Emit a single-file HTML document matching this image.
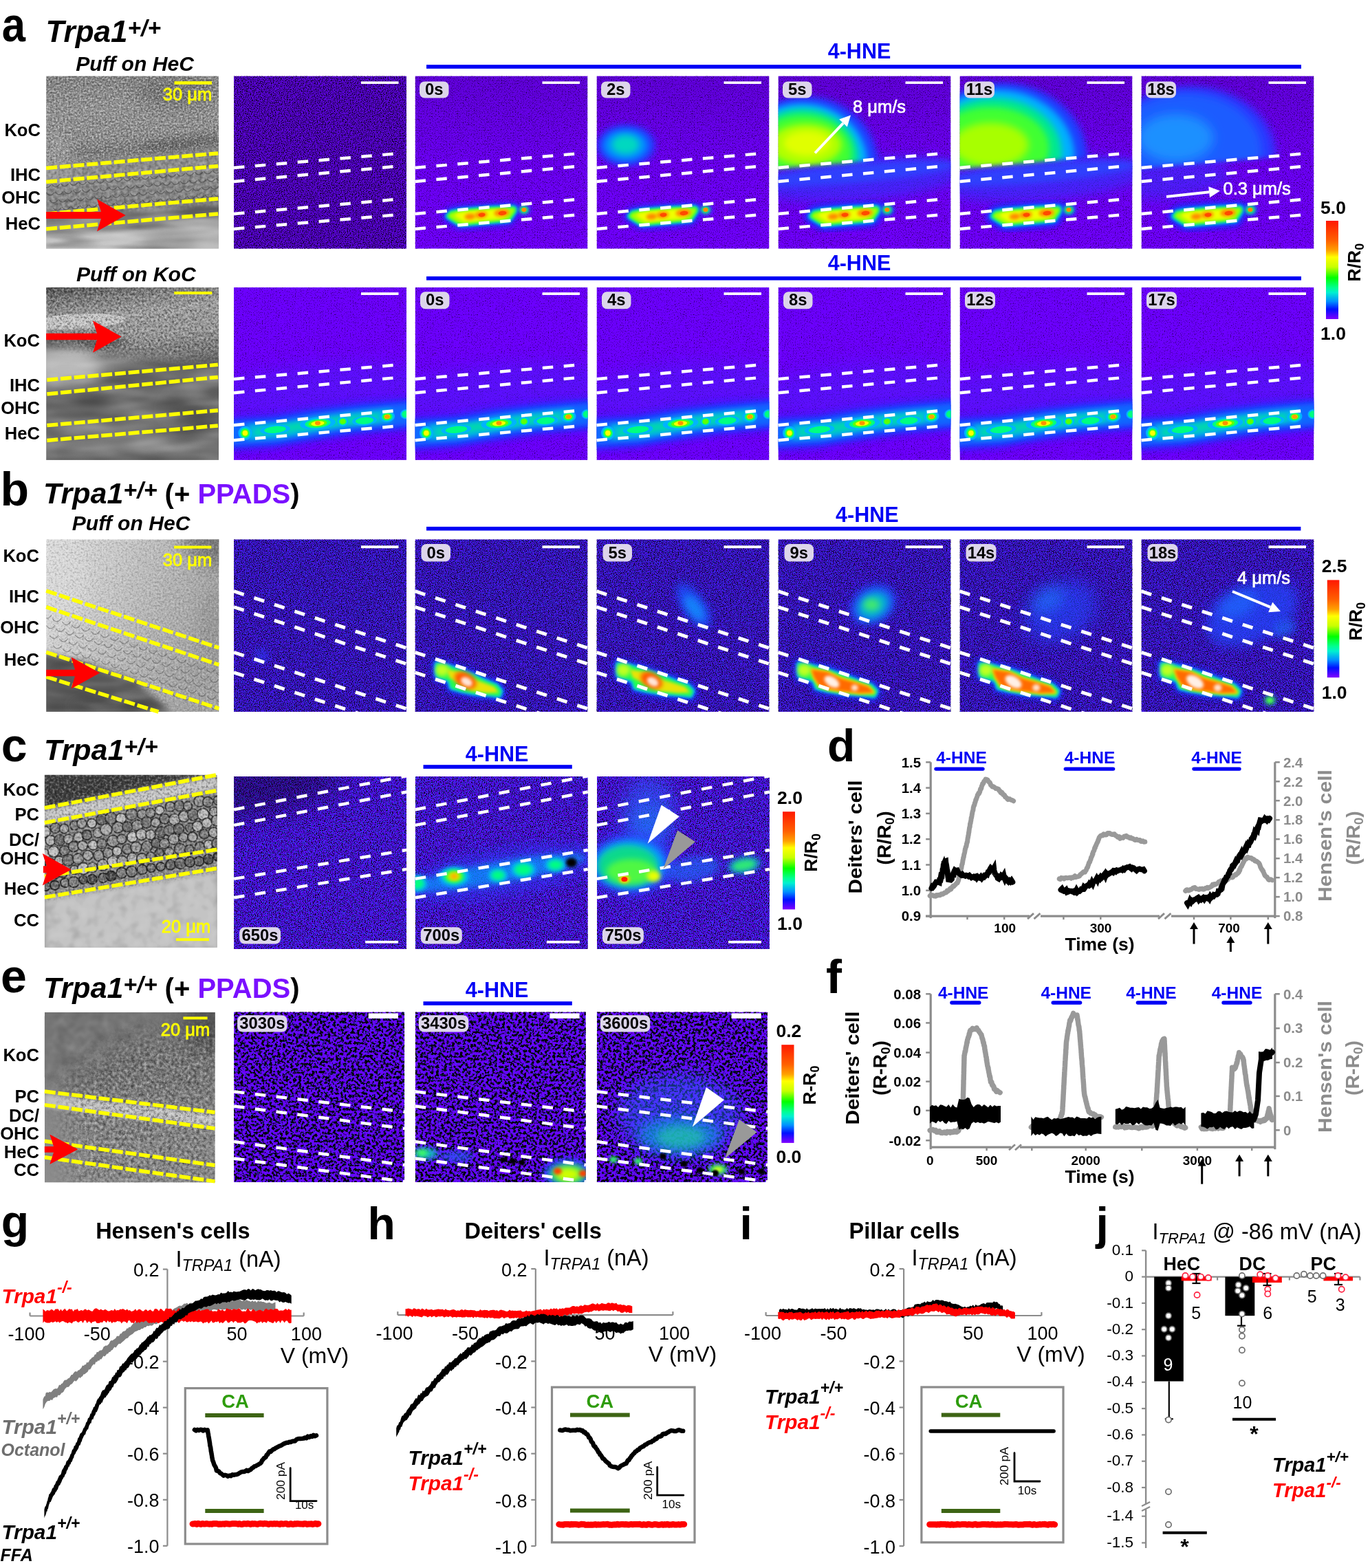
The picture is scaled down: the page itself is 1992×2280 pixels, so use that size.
<!DOCTYPE html><html><head><meta charset="utf-8"><title>Figure</title><style>html,body{margin:0;padding:0;background:#fff;}svg{display:block;}</style></head><body><svg xmlns="http://www.w3.org/2000/svg" width="1992" height="2280" viewBox="0 0 1992 2280" font-family="'Liberation Sans', Arial, Helvetica, sans-serif"><defs><filter id="b1" x="-50%" y="-50%" width="200%" height="200%"><feGaussianBlur stdDeviation="1"/></filter><filter id="b2" x="-50%" y="-50%" width="200%" height="200%"><feGaussianBlur stdDeviation="2"/></filter><filter id="b3" x="-50%" y="-50%" width="200%" height="200%"><feGaussianBlur stdDeviation="3"/></filter><filter id="b4" x="-50%" y="-50%" width="200%" height="200%"><feGaussianBlur stdDeviation="4"/></filter><filter id="b5" x="-50%" y="-50%" width="200%" height="200%"><feGaussianBlur stdDeviation="5"/></filter><filter id="b6" x="-50%" y="-50%" width="200%" height="200%"><feGaussianBlur stdDeviation="6"/></filter><filter id="b8" x="-50%" y="-50%" width="200%" height="200%"><feGaussianBlur stdDeviation="8"/></filter><filter id="b10" x="-50%" y="-50%" width="200%" height="200%"><feGaussianBlur stdDeviation="10"/></filter><filter id="b12" x="-50%" y="-50%" width="200%" height="200%"><feGaussianBlur stdDeviation="12"/></filter><filter id="b15" x="-50%" y="-50%" width="200%" height="200%"><feGaussianBlur stdDeviation="15"/></filter><filter id="b20" x="-50%" y="-50%" width="200%" height="200%"><feGaussianBlur stdDeviation="20"/></filter><clipPath id="cp1"><rect x="67.1" y="110.4" width="251.0" height="251.3"/></clipPath><linearGradient id="ga1" gradientUnits="userSpaceOnUse" x1="67.1" y1="110.4" x2="87.1" y2="361.7"><stop offset="0" stop-color="#828282"/><stop offset="0.2" stop-color="#949494"/><stop offset="0.38" stop-color="#909090"/><stop offset="0.46" stop-color="#7e7e7e"/><stop offset="0.52" stop-color="#8a8a8a"/><stop offset="0.6" stop-color="#8e8e8e"/><stop offset="0.78" stop-color="#848484"/><stop offset="0.84" stop-color="#7c7c7c"/><stop offset="0.9" stop-color="#a0a0a0"/><stop offset="1" stop-color="#b4b4b4"/></linearGradient><mask id="mk1" maskUnits="userSpaceOnUse" x="0" y="0" width="1992" height="2280"><polygon points="57.1,100.4 327.1,100.4 327.1,215.4 67.1,240.4" fill="#fff" filter="url(#b4)"/></mask><filter id="td1" x="0" y="0" width="100%" height="100%" color-interpolation-filters="sRGB"><feTurbulence type="fractalNoise" baseFrequency="0.38" numOctaves="2" seed="11"/><feColorMatrix type="matrix" values="0 0 0 0 0  0 0 0 0 0  0 0 0 0 0  -1.2 0 0 0 0.600"/></filter><filter id="tl1" x="0" y="0" width="100%" height="100%" color-interpolation-filters="sRGB"><feTurbulence type="fractalNoise" baseFrequency="0.38" numOctaves="2" seed="11"/><feColorMatrix type="matrix" values="0 0 0 0 1  0 0 0 0 1  0 0 0 0 1  1.8 0 0 0 -0.900"/></filter><filter id="tc1" x="0" y="0" width="100%" height="100%" color-interpolation-filters="sRGB"><feTurbulence type="turbulence" baseFrequency="0.266" numOctaves="1" seed="111"/><feColorMatrix type="matrix" values="0 0 0 0 0  0 0 0 0 0  0 0 0 0 0  -6 0 0 0 0.12"/></filter><mask id="mk2" maskUnits="userSpaceOnUse" x="0" y="0" width="1992" height="2280"><polygon points="67.1,240.4 327.1,215.4 327.1,295.4 67.1,315.4" fill="#fff" filter="url(#b4)"/></mask><filter id="td2" x="0" y="0" width="100%" height="100%" color-interpolation-filters="sRGB"><feTurbulence type="fractalNoise" baseFrequency="0.2" numOctaves="2" seed="12"/><feColorMatrix type="matrix" values="0 0 0 0 0  0 0 0 0 0  0 0 0 0 0  -1.0 0 0 0 0.500"/></filter><filter id="tl2" x="0" y="0" width="100%" height="100%" color-interpolation-filters="sRGB"><feTurbulence type="fractalNoise" baseFrequency="0.2" numOctaves="2" seed="12"/><feColorMatrix type="matrix" values="0 0 0 0 1  0 0 0 0 1  0 0 0 0 1  1.0 0 0 0 -0.500"/></filter><mask id="mk3" maskUnits="userSpaceOnUse" x="0" y="0" width="1992" height="2280"><polygon points="67.1,315.4 327.1,295.4 327.1,370.4 67.1,370.4" fill="#fff" filter="url(#b6)"/></mask><filter id="td3" x="0" y="0" width="100%" height="100%" color-interpolation-filters="sRGB"><feTurbulence type="fractalNoise" baseFrequency="0.012 0.06" numOctaves="2" seed="13"/><feColorMatrix type="matrix" values="0 0 0 0 0  0 0 0 0 0  0 0 0 0 0  -1.2 0 0 0 0.600"/></filter><filter id="tl3" x="0" y="0" width="100%" height="100%" color-interpolation-filters="sRGB"><feTurbulence type="fractalNoise" baseFrequency="0.012 0.06" numOctaves="2" seed="13"/><feColorMatrix type="matrix" values="0 0 0 0 1  0 0 0 0 1  0 0 0 0 1  1.2 0 0 0 -0.600"/></filter><linearGradient id="ga1p" x1="0" y1="0" x2="0" y2="1"><stop offset="0" stop-color="#6a08f2"/><stop offset="1" stop-color="#6c06fa"/></linearGradient><linearGradient id="ga1d" x1="0" y1="0" x2="0" y2="1"><stop offset="0" stop-color="#000" stop-opacity="0.14"/><stop offset="0.5" stop-color="#000" stop-opacity="0.04"/><stop offset="1" stop-color="#000" stop-opacity="0"/></linearGradient><clipPath id="cp2"><rect x="340.0" y="110.4" width="251.0" height="251.3"/></clipPath><filter id="nA0" x="0" y="0" width="100%" height="100%" color-interpolation-filters="sRGB"><feTurbulence type="fractalNoise" baseFrequency="0.75" numOctaves="1" seed="3"/><feColorMatrix type="matrix" values="0 0 0 0 0.000  0 0 0 0 0.000  0 0 0 0 0.000  -4.0 0 0 0 2.15"/></filter><clipPath id="cp3"><rect x="603.5" y="110.4" width="251.0" height="251.3"/></clipPath><filter id="nA1" x="0" y="0" width="100%" height="100%" color-interpolation-filters="sRGB"><feTurbulence type="fractalNoise" baseFrequency="0.75" numOctaves="1" seed="6"/><feColorMatrix type="matrix" values="0 0 0 0 0.000  0 0 0 0 0.000  0 0 0 0 0.000  -3.0 0 0 0 1.38"/></filter><clipPath id="cp4"><rect x="867.5" y="110.4" width="251.0" height="251.3"/></clipPath><clipPath id="cp5"><rect x="1131.5" y="110.4" width="251.0" height="251.3"/></clipPath><clipPath id="cp6"><rect x="1395.5" y="110.4" width="251.0" height="251.3"/></clipPath><clipPath id="cp7"><rect x="1659.5" y="110.4" width="251.0" height="251.3"/></clipPath><clipPath id="cp8"><rect x="67.1" y="417.7" width="251.0" height="251.2"/></clipPath><linearGradient id="ga2" gradientUnits="userSpaceOnUse" x1="67.1" y1="417.7" x2="97.1" y2="668.9"><stop offset="0" stop-color="#4c4c4c"/><stop offset="0.08" stop-color="#7a7a7a"/><stop offset="0.2" stop-color="#a2a2a2"/><stop offset="0.35" stop-color="#9a9a9a"/><stop offset="0.45" stop-color="#7e7e7e"/><stop offset="0.55" stop-color="#6c6c6c"/><stop offset="0.7" stop-color="#686868"/><stop offset="0.85" stop-color="#787878"/><stop offset="1" stop-color="#6e6e6e"/></linearGradient><mask id="mk4" maskUnits="userSpaceOnUse" x="0" y="0" width="1992" height="2280"><polygon points="57.1,407.7 327.1,407.7 327.1,522.7 187.1,517.7 67.1,497.7" fill="#fff" filter="url(#b8)"/></mask><filter id="td4" x="0" y="0" width="100%" height="100%" color-interpolation-filters="sRGB"><feTurbulence type="fractalNoise" baseFrequency="0.3" numOctaves="2" seed="21"/><feColorMatrix type="matrix" values="0 0 0 0 0  0 0 0 0 0  0 0 0 0 0  -1.5 0 0 0 0.750"/></filter><filter id="tl4" x="0" y="0" width="100%" height="100%" color-interpolation-filters="sRGB"><feTurbulence type="fractalNoise" baseFrequency="0.3" numOctaves="2" seed="21"/><feColorMatrix type="matrix" values="0 0 0 0 1  0 0 0 0 1  0 0 0 0 1  1.5 0 0 0 -0.750"/></filter><filter id="tc4" x="0" y="0" width="100%" height="100%" color-interpolation-filters="sRGB"><feTurbulence type="turbulence" baseFrequency="0.210" numOctaves="1" seed="121"/><feColorMatrix type="matrix" values="0 0 0 0 0  0 0 0 0 0  0 0 0 0 0  -6 0 0 0 0.2"/></filter><mask id="mk5" maskUnits="userSpaceOnUse" x="0" y="0" width="1992" height="2280"><polygon points="67.1,497.7 187.1,517.7 327.1,522.7 327.1,677.7 67.1,677.7" fill="#fff" filter="url(#b8)"/></mask><filter id="td5" x="0" y="0" width="100%" height="100%" color-interpolation-filters="sRGB"><feTurbulence type="fractalNoise" baseFrequency="0.012 0.05" numOctaves="2" seed="22"/><feColorMatrix type="matrix" values="0 0 0 0 0  0 0 0 0 0  0 0 0 0 0  -1.0 0 0 0 0.500"/></filter><filter id="tl5" x="0" y="0" width="100%" height="100%" color-interpolation-filters="sRGB"><feTurbulence type="fractalNoise" baseFrequency="0.012 0.05" numOctaves="2" seed="22"/><feColorMatrix type="matrix" values="0 0 0 0 1  0 0 0 0 1  0 0 0 0 1  1.0 0 0 0 -0.500"/></filter><clipPath id="cp9"><rect x="340.0" y="417.7" width="251.0" height="251.2"/></clipPath><filter id="nA2" x="0" y="0" width="100%" height="100%" color-interpolation-filters="sRGB"><feTurbulence type="fractalNoise" baseFrequency="0.75" numOctaves="1" seed="9"/><feColorMatrix type="matrix" values="0 0 0 0 0.000  0 0 0 0 0.000  0 0 0 0 0.000  -3.0 0 0 0 1.3"/></filter><clipPath id="cp10"><rect x="603.5" y="417.7" width="251.0" height="251.2"/></clipPath><clipPath id="cp11"><rect x="867.5" y="417.7" width="251.0" height="251.2"/></clipPath><clipPath id="cp12"><rect x="1131.5" y="417.7" width="251.0" height="251.2"/></clipPath><clipPath id="cp13"><rect x="1395.5" y="417.7" width="251.0" height="251.2"/></clipPath><clipPath id="cp14"><rect x="1659.5" y="417.7" width="251.0" height="251.2"/></clipPath><clipPath id="cp15"><rect x="67.2" y="784.3" width="251.2" height="250.7"/></clipPath><linearGradient id="gb" gradientUnits="userSpaceOnUse" x1="67.2" y1="784.3" x2="318.4" y2="884.6"><stop offset="0" stop-color="#e0e0e0"/><stop offset="0.35" stop-color="#cccccc"/><stop offset="0.7" stop-color="#b4b4b4"/><stop offset="1" stop-color="#a4a4a4"/></linearGradient><mask id="mk6" maskUnits="userSpaceOnUse" x="0" y="0" width="1992" height="2280"><polygon points="57.2,774.3 327.2,774.3 327.2,1044.3 257.2,1039.3 197.2,989.3 67.2,944.3" fill="#fff" filter="url(#b4)"/></mask><filter id="td6" x="0" y="0" width="100%" height="100%" color-interpolation-filters="sRGB"><feTurbulence type="fractalNoise" baseFrequency="0.35" numOctaves="2" seed="31"/><feColorMatrix type="matrix" values="0 0 0 0 0  0 0 0 0 0  0 0 0 0 0  -0.7 0 0 0 0.350"/></filter><filter id="tl6" x="0" y="0" width="100%" height="100%" color-interpolation-filters="sRGB"><feTurbulence type="fractalNoise" baseFrequency="0.35" numOctaves="2" seed="31"/><feColorMatrix type="matrix" values="0 0 0 0 1  0 0 0 0 1  0 0 0 0 1  1.2 0 0 0 -0.600"/></filter><filter id="tc6" x="0" y="0" width="100%" height="100%" color-interpolation-filters="sRGB"><feTurbulence type="turbulence" baseFrequency="0.245" numOctaves="1" seed="131"/><feColorMatrix type="matrix" values="0 0 0 0 0  0 0 0 0 0  0 0 0 0 0  -6 0 0 0 0.08"/></filter><mask id="mk7" maskUnits="userSpaceOnUse" x="0" y="0" width="1992" height="2280"><polygon points="67.2,944.3 197.2,989.3 257.2,1039.3 67.2,1039.3" fill="#fff" filter="url(#b4)"/></mask><filter id="td7" x="0" y="0" width="100%" height="100%" color-interpolation-filters="sRGB"><feTurbulence type="fractalNoise" baseFrequency="0.015 0.05" numOctaves="2" seed="32"/><feColorMatrix type="matrix" values="0 0 0 0 0  0 0 0 0 0  0 0 0 0 0  -0.8 0 0 0 0.400"/></filter><filter id="tl7" x="0" y="0" width="100%" height="100%" color-interpolation-filters="sRGB"><feTurbulence type="fractalNoise" baseFrequency="0.015 0.05" numOctaves="2" seed="32"/><feColorMatrix type="matrix" values="0 0 0 0 1  0 0 0 0 1  0 0 0 0 1  0.8 0 0 0 -0.400"/></filter><clipPath id="cp16"><rect x="340.0" y="784.3" width="251.0" height="250.7"/></clipPath><filter id="nB" x="0" y="0" width="100%" height="100%" color-interpolation-filters="sRGB"><feTurbulence type="fractalNoise" baseFrequency="0.8" numOctaves="1" seed="19"/><feColorMatrix type="matrix" values="0 0 0 0 0.000  0 0 0 0 0.000  0 0 0 0 0.000  -4.5 0 0 0 2.45"/></filter><filter id="nBb" x="0" y="0" width="100%" height="100%" color-interpolation-filters="sRGB"><feTurbulence type="fractalNoise" baseFrequency="0.8" numOctaves="1" seed="59"/><feColorMatrix type="matrix" values="0 0 0 0 0.125  0 0 0 0 0.314  0 0 0 0 1.000  0 5 0 0 -2.75"/></filter><clipPath id="cp17"><rect x="603.5" y="784.3" width="251.0" height="250.7"/></clipPath><clipPath id="cp18"><rect x="867.5" y="784.3" width="251.0" height="250.7"/></clipPath><clipPath id="cp19"><rect x="1131.5" y="784.3" width="251.0" height="250.7"/></clipPath><clipPath id="cp20"><rect x="1395.5" y="784.3" width="251.0" height="250.7"/></clipPath><clipPath id="cp21"><rect x="1659.5" y="784.3" width="251.0" height="250.7"/></clipPath><clipPath id="cp22"><rect x="64.8" y="1126.7" width="251.0" height="251.0"/></clipPath><mask id="mk8" maskUnits="userSpaceOnUse" x="0" y="0" width="1992" height="2280"><polygon points="54.8,1116.7 324.8,1116.7 324.8,1266.7 64.8,1308.7" fill="#fff" filter="url(#b3)"/></mask><filter id="td8" x="0" y="0" width="100%" height="100%" color-interpolation-filters="sRGB"><feTurbulence type="fractalNoise" baseFrequency="0.3" numOctaves="2" seed="41"/><feColorMatrix type="matrix" values="0 0 0 0 0  0 0 0 0 0  0 0 0 0 0  -1.4 0 0 0 0.700"/></filter><filter id="tl8" x="0" y="0" width="100%" height="100%" color-interpolation-filters="sRGB"><feTurbulence type="fractalNoise" baseFrequency="0.3" numOctaves="2" seed="41"/><feColorMatrix type="matrix" values="0 0 0 0 1  0 0 0 0 1  0 0 0 0 1  1.4 0 0 0 -0.700"/></filter><mask id="mk9" maskUnits="userSpaceOnUse" x="0" y="0" width="1992" height="2280"><polygon points="64.8,1308.7 324.8,1266.7 324.8,1386.7 64.8,1386.7" fill="#fff" filter="url(#b4)"/></mask><filter id="td9" x="0" y="0" width="100%" height="100%" color-interpolation-filters="sRGB"><feTurbulence type="fractalNoise" baseFrequency="0.06" numOctaves="2" seed="42"/><feColorMatrix type="matrix" values="0 0 0 0 0  0 0 0 0 0  0 0 0 0 0  -0.5 0 0 0 0.250"/></filter><filter id="tl9" x="0" y="0" width="100%" height="100%" color-interpolation-filters="sRGB"><feTurbulence type="fractalNoise" baseFrequency="0.06" numOctaves="2" seed="42"/><feColorMatrix type="matrix" values="0 0 0 0 1  0 0 0 0 1  0 0 0 0 1  0.5 0 0 0 -0.250"/></filter><clipPath id="cp23"><rect x="340.1" y="1129.0" width="251.0" height="251.0"/></clipPath><filter id="nC" x="0" y="0" width="100%" height="100%" color-interpolation-filters="sRGB"><feTurbulence type="fractalNoise" baseFrequency="0.7" numOctaves="1" seed="29"/><feColorMatrix type="matrix" values="0 0 0 0 0.000  0 0 0 0 0.000  0 0 0 0 0.000  -4.5 0 0 0 2.45"/></filter><filter id="nCb" x="0" y="0" width="100%" height="100%" color-interpolation-filters="sRGB"><feTurbulence type="fractalNoise" baseFrequency="0.7" numOctaves="1" seed="69"/><feColorMatrix type="matrix" values="0 0 0 0 0.125  0 0 0 0 0.376  0 0 0 0 1.000  0 5 0 0 -2.6"/></filter><clipPath id="cp24"><rect x="603.8" y="1129.0" width="251.0" height="251.0"/></clipPath><clipPath id="cp25"><rect x="867.9" y="1129.0" width="251.0" height="251.0"/></clipPath><clipPath id="cp26"><rect x="64.8" y="1472.0" width="248.0" height="247.6"/></clipPath><linearGradient id="ge" gradientUnits="userSpaceOnUse" x1="64.8" y1="1472.0" x2="64.8" y2="1719.6"><stop offset="0" stop-color="#747474"/><stop offset="0.4" stop-color="#7c7c7c"/><stop offset="0.6" stop-color="#868686"/><stop offset="1" stop-color="#8c8c8c"/></linearGradient><mask id="mk10" maskUnits="userSpaceOnUse" x="0" y="0" width="1992" height="2280"><polygon points="104.8,1732.0 94.8,1572.0 194.8,1512.0 324.8,1492.0 324.8,1732.0" fill="#fff" filter="url(#b20)"/></mask><filter id="td10" x="0" y="0" width="100%" height="100%" color-interpolation-filters="sRGB"><feTurbulence type="fractalNoise" baseFrequency="0.22" numOctaves="2" seed="51"/><feColorMatrix type="matrix" values="0 0 0 0 0  0 0 0 0 0  0 0 0 0 0  -1.4 0 0 0 0.700"/></filter><filter id="tl10" x="0" y="0" width="100%" height="100%" color-interpolation-filters="sRGB"><feTurbulence type="fractalNoise" baseFrequency="0.22" numOctaves="2" seed="51"/><feColorMatrix type="matrix" values="0 0 0 0 1  0 0 0 0 1  0 0 0 0 1  1.4 0 0 0 -0.700"/></filter><filter id="tc10" x="0" y="0" width="100%" height="100%" color-interpolation-filters="sRGB"><feTurbulence type="turbulence" baseFrequency="0.154" numOctaves="1" seed="151"/><feColorMatrix type="matrix" values="0 0 0 0 0  0 0 0 0 0  0 0 0 0 0  -6 0 0 0 0.22"/></filter><mask id="mk11" maskUnits="userSpaceOnUse" x="0" y="0" width="1992" height="2280"><polygon points="54.8,1462.0 264.8,1462.0 184.8,1532.0 94.8,1582.0 54.8,1602.0" fill="#fff" filter="url(#b20)"/></mask><filter id="td11" x="0" y="0" width="100%" height="100%" color-interpolation-filters="sRGB"><feTurbulence type="fractalNoise" baseFrequency="0.06" numOctaves="2" seed="52"/><feColorMatrix type="matrix" values="0 0 0 0 0  0 0 0 0 0  0 0 0 0 0  -0.6 0 0 0 0.300"/></filter><filter id="tl11" x="0" y="0" width="100%" height="100%" color-interpolation-filters="sRGB"><feTurbulence type="fractalNoise" baseFrequency="0.06" numOctaves="2" seed="52"/><feColorMatrix type="matrix" values="0 0 0 0 1  0 0 0 0 1  0 0 0 0 1  0.6 0 0 0 -0.300"/></filter><clipPath id="cp27"><rect x="340.1" y="1471.4" width="248.0" height="247.6"/></clipPath><filter id="nE" x="0" y="0" width="100%" height="100%" color-interpolation-filters="sRGB"><feTurbulence type="fractalNoise" baseFrequency="0.26" numOctaves="2" seed="39"/><feColorMatrix type="matrix" values="0 0 0 0 0.000  0 0 0 0 0.000  0 0 0 0 0.000  -6.5 0 0 0 3.55"/></filter><filter id="nEb" x="0" y="0" width="100%" height="100%" color-interpolation-filters="sRGB"><feTurbulence type="fractalNoise" baseFrequency="0.6" numOctaves="1" seed="79"/><feColorMatrix type="matrix" values="0 0 0 0 0.125  0 0 0 0 0.376  0 0 0 0 1.000  0 5 0 0 -2.9"/></filter><clipPath id="cp28"><rect x="603.8" y="1471.4" width="248.0" height="247.6"/></clipPath><clipPath id="cp29"><rect x="867.9" y="1471.4" width="248.0" height="247.6"/></clipPath><clipPath id="cp30"><rect x="340.0" y="110.4" width="251.0" height="251.3"/></clipPath><clipPath id="cp31"><rect x="603.5" y="110.4" width="251.0" height="251.3"/></clipPath><clipPath id="cp32"><rect x="867.5" y="110.4" width="251.0" height="251.3"/></clipPath><clipPath id="cp33"><rect x="1131.5" y="110.4" width="251.0" height="251.3"/></clipPath><mask id="mk12" maskUnits="userSpaceOnUse" x="0" y="0" width="1992" height="2280"><polygon points="1111.5,90.4 1402.5,90.4 1402.5,221.9 1111.5,247.4" fill="#fff" filter="url(#b3)"/></mask><clipPath id="cp34"><rect x="1395.5" y="110.4" width="251.0" height="251.3"/></clipPath><mask id="mk13" maskUnits="userSpaceOnUse" x="0" y="0" width="1992" height="2280"><polygon points="1375.5,90.4 1666.5,90.4 1666.5,221.9 1375.5,247.4" fill="#fff" filter="url(#b3)"/></mask><clipPath id="cp35"><rect x="1659.5" y="110.4" width="251.0" height="251.3"/></clipPath><mask id="mk14" maskUnits="userSpaceOnUse" x="0" y="0" width="1992" height="2280"><polygon points="1639.5,90.4 1930.5,90.4 1930.5,221.9 1639.5,247.4" fill="#fff" filter="url(#b3)"/></mask><clipPath id="cp36"><rect x="340.0" y="417.7" width="251.0" height="251.2"/></clipPath><clipPath id="cp37"><rect x="603.5" y="417.7" width="251.0" height="251.2"/></clipPath><clipPath id="cp38"><rect x="867.5" y="417.7" width="251.0" height="251.2"/></clipPath><clipPath id="cp39"><rect x="1131.5" y="417.7" width="251.0" height="251.2"/></clipPath><clipPath id="cp40"><rect x="1395.5" y="417.7" width="251.0" height="251.2"/></clipPath><clipPath id="cp41"><rect x="1659.5" y="417.7" width="251.0" height="251.2"/></clipPath><clipPath id="cp42"><rect x="340.0" y="784.3" width="251.0" height="250.7"/></clipPath><clipPath id="cp43"><rect x="603.5" y="784.3" width="251.0" height="250.7"/></clipPath><clipPath id="cp44"><rect x="867.5" y="784.3" width="251.0" height="250.7"/></clipPath><clipPath id="cp45"><rect x="1131.5" y="784.3" width="251.0" height="250.7"/></clipPath><clipPath id="cp46"><rect x="1395.5" y="784.3" width="251.0" height="250.7"/></clipPath><clipPath id="cp47"><rect x="1659.5" y="784.3" width="251.0" height="250.7"/></clipPath><clipPath id="cp48"><rect x="340.1" y="1129.0" width="251.0" height="251.0"/></clipPath><clipPath id="cp49"><rect x="603.8" y="1129.0" width="251.0" height="251.0"/></clipPath><clipPath id="cp50"><rect x="867.9" y="1129.0" width="251.0" height="251.0"/></clipPath><clipPath id="cp51"><rect x="340.1" y="1471.4" width="248.0" height="247.6"/></clipPath><clipPath id="cp52"><rect x="603.8" y="1471.4" width="248.0" height="247.6"/></clipPath><clipPath id="cp53"><rect x="867.9" y="1471.4" width="248.0" height="247.6"/></clipPath><linearGradient id="cmap" x1="0" y1="0" x2="0" y2="1"><stop offset="0" stop-color="#ff1800"/><stop offset="0.2" stop-color="#ff6000"/><stop offset="0.3" stop-color="#ffa000"/><stop offset="0.37" stop-color="#ffff00"/><stop offset="0.47" stop-color="#c8ff00"/><stop offset="0.58" stop-color="#00ff00"/><stop offset="0.68" stop-color="#00ff90"/><stop offset="0.73" stop-color="#00f0d0"/><stop offset="0.82" stop-color="#0090ff"/><stop offset="0.9" stop-color="#0010ff"/><stop offset="1" stop-color="#8000ff"/></linearGradient></defs><rect width="1992" height="2280" fill="#fff"/><g clip-path="url(#cp1)"><rect x="67.1" y="110.4" width="251.0" height="251.3" fill="url(#ga1)" /><ellipse cx="257.1" cy="135.4" rx="60.0" ry="22.0" fill="#606060" opacity="0.5" filter="url(#b10)"/><ellipse cx="82.1" cy="230.4" rx="25.0" ry="35.0" fill="#a8a8a8" opacity="0.6" filter="url(#b8)"/><ellipse cx="127.1" cy="352.4" rx="100.0" ry="16.0" fill="#cccccc" opacity="0.8" filter="url(#b8)"/><ellipse cx="267.1" cy="352.4" rx="60.0" ry="10.0" fill="#707070" opacity="0.5" filter="url(#b8)"/><ellipse cx="127.1" cy="334.4" rx="80.0" ry="4.0" fill="#505050" opacity="0.5" filter="url(#b3)" transform="rotate(-4 127.1 334.4)"/><ellipse cx="262.1" cy="208.4" rx="60.0" ry="9.0" fill="#4a4a4a" opacity="0.35" filter="url(#b5)" transform="rotate(-6 262.1 208.4)"/><g opacity="0.9" mask="url(#mk1)"><rect x="67.1" y="110.4" width="251.0" height="251.3" filter="url(#td1)"/><rect x="67.1" y="110.4" width="251.0" height="251.3" filter="url(#tl1)"/><rect x="67.1" y="110.4" width="251.0" height="251.3" filter="url(#tc1)"/></g><g opacity="0.8" mask="url(#mk2)"><rect x="67.1" y="110.4" width="251.0" height="251.3" filter="url(#td2)"/><rect x="67.1" y="110.4" width="251.0" height="251.3" filter="url(#tl2)"/></g><path d="M62.1,268.8q5.9,8.0 11.7,0 M75.1,267.7q5.9,8.0 11.7,0 M88.1,266.6q5.9,8.0 11.7,0 M101.1,265.5q5.9,8.0 11.7,0 M114.1,264.4q5.9,8.0 11.7,0 M127.1,263.3q5.9,8.0 11.7,0 M140.1,262.2q5.9,8.0 11.7,0 M153.1,261.1q5.9,8.0 11.7,0 M166.1,260.0q5.9,8.0 11.7,0 M179.1,258.9q5.9,8.0 11.7,0 M192.1,257.8q5.9,8.0 11.7,0 M205.1,256.7q5.9,8.0 11.7,0 M218.1,255.6q5.9,8.0 11.7,0 M231.1,254.5q5.9,8.0 11.7,0 M244.1,253.4q5.9,8.0 11.7,0 M257.1,252.2q5.9,8.0 11.7,0 M270.1,251.1q5.9,8.0 11.7,0 M283.1,250.0q5.9,8.0 11.7,0 M296.1,248.9q5.9,8.0 11.7,0 M309.1,247.8q5.9,8.0 11.7,0" fill="none" stroke="#3c3c3c" stroke-width="1.4" opacity="0.55"/><path d="M67.1,279.9q5.9,8.0 11.7,0 M80.1,278.8q5.9,8.0 11.7,0 M93.1,277.7q5.9,8.0 11.7,0 M106.1,276.6q5.9,8.0 11.7,0 M119.1,275.5q5.9,8.0 11.7,0 M132.1,274.4q5.9,8.0 11.7,0 M145.1,273.3q5.9,8.0 11.7,0 M158.1,272.2q5.9,8.0 11.7,0 M171.1,271.1q5.9,8.0 11.7,0 M184.1,270.0q5.9,8.0 11.7,0 M197.1,268.9q5.9,8.0 11.7,0 M210.1,267.7q5.9,8.0 11.7,0 M223.1,266.6q5.9,8.0 11.7,0 M236.1,265.5q5.9,8.0 11.7,0 M249.1,264.4q5.9,8.0 11.7,0 M262.1,263.3q5.9,8.0 11.7,0 M275.1,262.2q5.9,8.0 11.7,0 M288.1,261.1q5.9,8.0 11.7,0 M301.1,260.0q5.9,8.0 11.7,0 M314.1,258.9q5.9,8.0 11.7,0" fill="none" stroke="#3c3c3c" stroke-width="1.4" opacity="0.55"/><path d="M72.1,291.0q5.9,8.0 11.7,0 M85.1,289.9q5.9,8.0 11.7,0 M98.1,288.8q5.9,8.0 11.7,0 M111.1,287.7q5.9,8.0 11.7,0 M124.1,286.6q5.9,8.0 11.7,0 M137.1,285.5q5.9,8.0 11.7,0 M150.1,284.3q5.9,8.0 11.7,0 M163.1,283.2q5.9,8.0 11.7,0 M176.1,282.1q5.9,8.0 11.7,0 M189.1,281.0q5.9,8.0 11.7,0 M202.1,279.9q5.9,8.0 11.7,0 M215.1,278.8q5.9,8.0 11.7,0 M228.1,277.7q5.9,8.0 11.7,0 M241.1,276.6q5.9,8.0 11.7,0 M254.1,275.5q5.9,8.0 11.7,0 M267.1,274.4q5.9,8.0 11.7,0 M280.1,273.3q5.9,8.0 11.7,0 M293.1,272.2q5.9,8.0 11.7,0 M306.1,271.1q5.9,8.0 11.7,0 M319.1,270.0q5.9,8.0 11.7,0" fill="none" stroke="#3c3c3c" stroke-width="1.4" opacity="0.55"/><path d="M77.1,302.1q5.9,8.0 11.7,0 M90.1,300.9q5.9,8.0 11.7,0 M103.1,299.8q5.9,8.0 11.7,0 M116.1,298.7q5.9,8.0 11.7,0 M129.1,297.6q5.9,8.0 11.7,0 M142.1,296.5q5.9,8.0 11.7,0 M155.1,295.4q5.9,8.0 11.7,0 M168.1,294.3q5.9,8.0 11.7,0 M181.1,293.2q5.9,8.0 11.7,0 M194.1,292.1q5.9,8.0 11.7,0 M207.1,291.0q5.9,8.0 11.7,0 M220.1,289.9q5.9,8.0 11.7,0 M233.1,288.8q5.9,8.0 11.7,0 M246.1,287.7q5.9,8.0 11.7,0 M259.1,286.6q5.9,8.0 11.7,0 M272.1,285.5q5.9,8.0 11.7,0 M285.1,284.4q5.9,8.0 11.7,0 M298.1,283.3q5.9,8.0 11.7,0 M311.1,282.2q5.9,8.0 11.7,0" fill="none" stroke="#3c3c3c" stroke-width="1.4" opacity="0.55"/><g opacity="0.8" mask="url(#mk3)"><rect x="67.1" y="110.4" width="251.0" height="251.3" filter="url(#td3)"/><rect x="67.1" y="110.4" width="251.0" height="251.3" filter="url(#tl3)"/></g></g><g clip-path="url(#cp2)"><rect x="340.0" y="110.4" width="251.0" height="251.3" fill="#5c04dc" /><rect x="340.0" y="110.4" width="251.0" height="251.3" fill="#000" filter="url(#nA0)" opacity="1"/></g><g clip-path="url(#cp3)"><rect x="603.5" y="110.4" width="251.0" height="251.3" fill="#7000ff" /><rect x="603.5" y="110.4" width="251.0" height="251.3" fill="#000" filter="url(#nA1)" opacity="1"/><rect x="603.5" y="110.4" width="251.0" height="251.3" fill="url(#ga1d)" /></g><g clip-path="url(#cp4)"><rect x="867.5" y="110.4" width="251.0" height="251.3" fill="#7000ff" /><rect x="867.5" y="110.4" width="251.0" height="251.3" fill="#000" filter="url(#nA1)" opacity="1"/><rect x="867.5" y="110.4" width="251.0" height="251.3" fill="url(#ga1d)" /></g><g clip-path="url(#cp5)"><rect x="1131.5" y="110.4" width="251.0" height="251.3" fill="#7000ff" /><rect x="1131.5" y="110.4" width="251.0" height="251.3" fill="#000" filter="url(#nA1)" opacity="1"/><rect x="1131.5" y="110.4" width="251.0" height="251.3" fill="url(#ga1d)" /></g><g clip-path="url(#cp6)"><rect x="1395.5" y="110.4" width="251.0" height="251.3" fill="#7000ff" /><rect x="1395.5" y="110.4" width="251.0" height="251.3" fill="#000" filter="url(#nA1)" opacity="1"/><rect x="1395.5" y="110.4" width="251.0" height="251.3" fill="url(#ga1d)" /></g><g clip-path="url(#cp7)"><rect x="1659.5" y="110.4" width="251.0" height="251.3" fill="#7000ff" /><rect x="1659.5" y="110.4" width="251.0" height="251.3" fill="#000" filter="url(#nA1)" opacity="1"/><rect x="1659.5" y="110.4" width="251.0" height="251.3" fill="url(#ga1d)" /></g><g clip-path="url(#cp8)"><rect x="67.1" y="417.7" width="251.0" height="251.2" fill="url(#ga2)" /><ellipse cx="107.1" cy="467.7" rx="75.0" ry="11.0" fill="#d8d8d8" opacity="0.7" filter="url(#b7)" transform="rotate(-3 107.1 467.7)"/><ellipse cx="112.1" cy="497.7" rx="75.0" ry="12.0" fill="#303030" opacity="0.55" filter="url(#b6)"/><ellipse cx="97.1" cy="535.7" rx="50.0" ry="28.0" fill="#cacaca" opacity="0.8" filter="url(#b10)"/><ellipse cx="282.1" cy="595.7" rx="42.0" ry="28.0" fill="#484848" opacity="0.6" filter="url(#b10)"/><ellipse cx="187.1" cy="652.7" rx="90.0" ry="12.0" fill="#8a8a8a" opacity="0.5" filter="url(#b8)"/><g opacity="0.9" mask="url(#mk4)"><rect x="67.1" y="417.7" width="251.0" height="251.2" filter="url(#td4)"/><rect x="67.1" y="417.7" width="251.0" height="251.2" filter="url(#tl4)"/><rect x="67.1" y="417.7" width="251.0" height="251.2" filter="url(#tc4)"/></g><g opacity="0.75" mask="url(#mk5)"><rect x="67.1" y="417.7" width="251.0" height="251.2" filter="url(#td5)"/><rect x="67.1" y="417.7" width="251.0" height="251.2" filter="url(#tl5)"/></g></g><g clip-path="url(#cp9)"><rect x="340.0" y="417.7" width="251.0" height="251.2" fill="#6c00ff" /><rect x="340.0" y="417.7" width="251.0" height="251.2" fill="#000" filter="url(#nA2)" opacity="1"/></g><g clip-path="url(#cp10)"><rect x="603.5" y="417.7" width="251.0" height="251.2" fill="#6c00ff" /><rect x="603.5" y="417.7" width="251.0" height="251.2" fill="#000" filter="url(#nA2)" opacity="1"/></g><g clip-path="url(#cp11)"><rect x="867.5" y="417.7" width="251.0" height="251.2" fill="#6c00ff" /><rect x="867.5" y="417.7" width="251.0" height="251.2" fill="#000" filter="url(#nA2)" opacity="1"/></g><g clip-path="url(#cp12)"><rect x="1131.5" y="417.7" width="251.0" height="251.2" fill="#6c00ff" /><rect x="1131.5" y="417.7" width="251.0" height="251.2" fill="#000" filter="url(#nA2)" opacity="1"/></g><g clip-path="url(#cp13)"><rect x="1395.5" y="417.7" width="251.0" height="251.2" fill="#6c00ff" /><rect x="1395.5" y="417.7" width="251.0" height="251.2" fill="#000" filter="url(#nA2)" opacity="1"/></g><g clip-path="url(#cp14)"><rect x="1659.5" y="417.7" width="251.0" height="251.2" fill="#6c00ff" /><rect x="1659.5" y="417.7" width="251.0" height="251.2" fill="#000" filter="url(#nA2)" opacity="1"/></g><g clip-path="url(#cp15)"><rect x="67.2" y="784.3" width="251.2" height="250.7" fill="url(#gb)" /><ellipse cx="317.2" cy="784.3" rx="50.0" ry="40.0" fill="#6e6e6e" opacity="0.8" filter="url(#b12)"/><ellipse cx="317.2" cy="914.3" rx="30.0" ry="60.0" fill="#909090" opacity="0.5" filter="url(#b12)"/><ellipse cx="87.2" cy="844.3" rx="40.0" ry="60.0" fill="#dcdcdc" opacity="0.6" filter="url(#b12)"/><polygon points="57.2,947.3 127.2,964.3 197.2,989.3 252.2,1039.3 57.2,1039.3" fill="#5c5c5c" opacity="1" filter="url(#b5)"/><ellipse cx="162.2" cy="1026.3" rx="60.0" ry="12.0" fill="#3c3c3c" opacity="0.6" filter="url(#b8)"/><ellipse cx="97.2" cy="974.3" rx="40.0" ry="10.0" fill="#6a6a6a" opacity="0.5" filter="url(#b6)"/><g opacity="0.8" mask="url(#mk6)"><rect x="67.2" y="784.3" width="251.2" height="250.7" filter="url(#td6)"/><rect x="67.2" y="784.3" width="251.2" height="250.7" filter="url(#tl6)"/><rect x="67.2" y="784.3" width="251.2" height="250.7" filter="url(#tc6)"/></g><path d="M62.2,894.6q6.3,9.0 12.6,0 M76.2,899.3q6.3,9.0 12.6,0 M90.2,903.9q6.3,9.0 12.6,0 M104.2,908.5q6.3,9.0 12.6,0 M118.2,913.1q6.3,9.0 12.6,0 M132.2,917.8q6.3,9.0 12.6,0 M146.2,922.4q6.3,9.0 12.6,0 M160.2,927.0q6.3,9.0 12.6,0 M174.2,931.6q6.3,9.0 12.6,0 M188.2,936.2q6.3,9.0 12.6,0 M202.2,940.8q6.3,9.0 12.6,0 M216.2,945.5q6.3,9.0 12.6,0 M230.2,950.1q6.3,9.0 12.6,0 M244.2,954.7q6.3,9.0 12.6,0 M258.2,959.3q6.3,9.0 12.6,0 M272.2,963.9q6.3,9.0 12.6,0 M286.2,968.6q6.3,9.0 12.6,0 M300.2,973.2q6.3,9.0 12.6,0 M314.2,977.8q6.3,9.0 12.6,0" fill="none" stroke="#3c3c3c" stroke-width="1.4" opacity="0.4"/><path d="M67.2,909.3q6.3,9.0 12.6,0 M81.2,913.9q6.3,9.0 12.6,0 M95.2,918.5q6.3,9.0 12.6,0 M109.2,923.2q6.3,9.0 12.6,0 M123.2,927.8q6.3,9.0 12.6,0 M137.2,932.4q6.3,9.0 12.6,0 M151.2,937.0q6.3,9.0 12.6,0 M165.2,941.6q6.3,9.0 12.6,0 M179.2,946.3q6.3,9.0 12.6,0 M193.2,950.9q6.3,9.0 12.6,0 M207.2,955.5q6.3,9.0 12.6,0 M221.2,960.1q6.3,9.0 12.6,0 M235.2,964.7q6.3,9.0 12.6,0 M249.2,969.4q6.3,9.0 12.6,0 M263.2,974.0q6.3,9.0 12.6,0 M277.2,978.6q6.3,9.0 12.6,0 M291.2,983.2q6.3,9.0 12.6,0 M305.2,987.8q6.3,9.0 12.6,0 M319.2,992.5q6.3,9.0 12.6,0" fill="none" stroke="#3c3c3c" stroke-width="1.4" opacity="0.4"/><path d="M72.2,923.9q6.3,9.0 12.6,0 M86.2,928.6q6.3,9.0 12.6,0 M100.2,933.2q6.3,9.0 12.6,0 M114.2,937.8q6.3,9.0 12.6,0 M128.2,942.4q6.3,9.0 12.6,0 M142.2,947.0q6.3,9.0 12.6,0 M156.2,951.7q6.3,9.0 12.6,0 M170.2,956.3q6.3,9.0 12.6,0 M184.2,960.9q6.3,9.0 12.6,0 M198.2,965.5q6.3,9.0 12.6,0 M212.2,970.1q6.3,9.0 12.6,0 M226.2,974.8q6.3,9.0 12.6,0 M240.2,979.4q6.3,9.0 12.6,0 M254.2,984.0q6.3,9.0 12.6,0 M268.2,988.6q6.3,9.0 12.6,0 M282.2,993.2q6.3,9.0 12.6,0 M296.2,997.9q6.3,9.0 12.6,0 M310.2,1002.5q6.3,9.0 12.6,0" fill="none" stroke="#3c3c3c" stroke-width="1.4" opacity="0.4"/><path d="M77.2,938.6q6.3,9.0 12.6,0 M91.2,943.2q6.3,9.0 12.6,0 M105.2,947.8q6.3,9.0 12.6,0 M119.2,952.5q6.3,9.0 12.6,0 M133.2,957.1q6.3,9.0 12.6,0 M147.2,961.7q6.3,9.0 12.6,0 M161.2,966.3q6.3,9.0 12.6,0 M175.2,970.9q6.3,9.0 12.6,0 M189.2,975.6q6.3,9.0 12.6,0 M203.2,980.2q6.3,9.0 12.6,0 M217.2,984.8q6.3,9.0 12.6,0 M231.2,989.4q6.3,9.0 12.6,0 M245.2,994.0q6.3,9.0 12.6,0 M259.2,998.7q6.3,9.0 12.6,0 M273.2,1003.3q6.3,9.0 12.6,0 M287.2,1007.9q6.3,9.0 12.6,0 M301.2,1012.5q6.3,9.0 12.6,0 M315.2,1017.1q6.3,9.0 12.6,0" fill="none" stroke="#3c3c3c" stroke-width="1.4" opacity="0.4"/><path d="M82.2,953.2q6.3,9.0 12.6,0 M96.2,957.9q6.3,9.0 12.6,0 M110.2,962.5q6.3,9.0 12.6,0 M124.2,967.1q6.3,9.0 12.6,0 M138.2,971.7q6.3,9.0 12.6,0 M152.2,976.3q6.3,9.0 12.6,0 M166.2,981.0q6.3,9.0 12.6,0 M180.2,985.6q6.3,9.0 12.6,0 M194.2,990.2q6.3,9.0 12.6,0 M208.2,994.8q6.3,9.0 12.6,0 M222.2,999.4q6.3,9.0 12.6,0 M236.2,1004.1q6.3,9.0 12.6,0 M250.2,1008.7q6.3,9.0 12.6,0 M264.2,1013.3q6.3,9.0 12.6,0 M278.2,1017.9q6.3,9.0 12.6,0 M292.2,1022.5q6.3,9.0 12.6,0 M306.2,1027.2q6.3,9.0 12.6,0 M320.2,1031.8q6.3,9.0 12.6,0" fill="none" stroke="#3c3c3c" stroke-width="1.4" opacity="0.4"/><g opacity="0.7" mask="url(#mk7)"><rect x="67.2" y="784.3" width="251.2" height="250.7" filter="url(#td7)"/><rect x="67.2" y="784.3" width="251.2" height="250.7" filter="url(#tl7)"/></g></g><g clip-path="url(#cp16)"><rect x="340.0" y="784.3" width="251.0" height="250.7" fill="#4a12e6" /><rect x="340.0" y="784.3" width="251.0" height="250.7" fill="#000" filter="url(#nB)" opacity="1"/><rect x="340.0" y="784.3" width="251.0" height="250.7" fill="#000" filter="url(#nBb)" opacity="1"/></g><g clip-path="url(#cp17)"><rect x="603.5" y="784.3" width="251.0" height="250.7" fill="#4a12e6" /><rect x="603.5" y="784.3" width="251.0" height="250.7" fill="#000" filter="url(#nB)" opacity="1"/><rect x="603.5" y="784.3" width="251.0" height="250.7" fill="#000" filter="url(#nBb)" opacity="1"/></g><g clip-path="url(#cp18)"><rect x="867.5" y="784.3" width="251.0" height="250.7" fill="#4a12e6" /><rect x="867.5" y="784.3" width="251.0" height="250.7" fill="#000" filter="url(#nB)" opacity="1"/><rect x="867.5" y="784.3" width="251.0" height="250.7" fill="#000" filter="url(#nBb)" opacity="1"/></g><g clip-path="url(#cp19)"><rect x="1131.5" y="784.3" width="251.0" height="250.7" fill="#4a12e6" /><rect x="1131.5" y="784.3" width="251.0" height="250.7" fill="#000" filter="url(#nB)" opacity="1"/><rect x="1131.5" y="784.3" width="251.0" height="250.7" fill="#000" filter="url(#nBb)" opacity="1"/></g><g clip-path="url(#cp20)"><rect x="1395.5" y="784.3" width="251.0" height="250.7" fill="#4a12e6" /><rect x="1395.5" y="784.3" width="251.0" height="250.7" fill="#000" filter="url(#nB)" opacity="1"/><rect x="1395.5" y="784.3" width="251.0" height="250.7" fill="#000" filter="url(#nBb)" opacity="1"/></g><g clip-path="url(#cp21)"><rect x="1659.5" y="784.3" width="251.0" height="250.7" fill="#4a12e6" /><rect x="1659.5" y="784.3" width="251.0" height="250.7" fill="#000" filter="url(#nB)" opacity="1"/><rect x="1659.5" y="784.3" width="251.0" height="250.7" fill="#000" filter="url(#nBb)" opacity="1"/></g><g clip-path="url(#cp22)"><rect x="64.8" y="1126.7" width="251.0" height="251.0" fill="#8a8a8a" /><polygon points="59.8,1121.7 320.8,1121.7 320.8,1121.7 64.8,1176.7" fill="#3c3c3c" opacity="1" filter="url(#b4)"/><polygon points="64.8,1176.7 315.8,1128.7 315.8,1146.7 64.8,1196.7" fill="#d4d4d4" opacity="0.8" filter="url(#b3)"/><g><circle cx="65.3" cy="1209.6" r="8.1" fill="#bbbbbb" stroke="#262626" stroke-width="2" stroke-opacity="0.75"/><circle cx="80.5" cy="1203.9" r="7.4" fill="#878787" stroke="#262626" stroke-width="2" stroke-opacity="0.75"/><circle cx="93.4" cy="1205.0" r="6.7" fill="#a4a4a4" stroke="#262626" stroke-width="2" stroke-opacity="0.75"/><circle cx="108.3" cy="1200.2" r="6.7" fill="#878787" stroke="#262626" stroke-width="2" stroke-opacity="0.75"/><circle cx="118.9" cy="1197.6" r="7.1" fill="#999999" stroke="#262626" stroke-width="2" stroke-opacity="0.75"/><circle cx="133.4" cy="1197.2" r="6.8" fill="#b7b7b7" stroke="#262626" stroke-width="2" stroke-opacity="0.75"/><circle cx="148.6" cy="1191.7" r="8.4" fill="#686868" stroke="#262626" stroke-width="2" stroke-opacity="0.75"/><circle cx="161.6" cy="1189.6" r="8.5" fill="#7d7d7d" stroke="#262626" stroke-width="2" stroke-opacity="0.75"/><circle cx="176.0" cy="1190.0" r="7.6" fill="#bebebe" stroke="#262626" stroke-width="2" stroke-opacity="0.75"/><circle cx="191.3" cy="1184.0" r="8.4" fill="#818181" stroke="#262626" stroke-width="2" stroke-opacity="0.75"/><circle cx="206.7" cy="1184.0" r="7.1" fill="#969696" stroke="#262626" stroke-width="2" stroke-opacity="0.75"/><circle cx="218.5" cy="1182.0" r="7.0" fill="#929292" stroke="#262626" stroke-width="2" stroke-opacity="0.75"/><circle cx="232.0" cy="1178.2" r="6.5" fill="#bebebe" stroke="#262626" stroke-width="2" stroke-opacity="0.75"/><circle cx="247.6" cy="1173.1" r="7.2" fill="#8f8f8f" stroke="#262626" stroke-width="2" stroke-opacity="0.75"/><circle cx="260.7" cy="1171.7" r="7.5" fill="#7e7e7e" stroke="#262626" stroke-width="2" stroke-opacity="0.75"/><circle cx="273.0" cy="1172.1" r="6.5" fill="#959595" stroke="#262626" stroke-width="2" stroke-opacity="0.75"/><circle cx="290.2" cy="1165.1" r="8.1" fill="#969696" stroke="#262626" stroke-width="2" stroke-opacity="0.75"/><circle cx="302.3" cy="1166.1" r="7.4" fill="#7f7f7f" stroke="#262626" stroke-width="2" stroke-opacity="0.75"/><circle cx="317.3" cy="1163.8" r="6.7" fill="#878787" stroke="#262626" stroke-width="2" stroke-opacity="0.75"/><circle cx="332.5" cy="1160.9" r="7.2" fill="#959595" stroke="#262626" stroke-width="2" stroke-opacity="0.75"/><circle cx="73.4" cy="1222.1" r="7.4" fill="#b3b3b3" stroke="#262626" stroke-width="2" stroke-opacity="0.75"/><circle cx="86.8" cy="1221.8" r="8.2" fill="#6c6c6c" stroke="#262626" stroke-width="2" stroke-opacity="0.75"/><circle cx="99.5" cy="1220.2" r="6.9" fill="#a9a9a9" stroke="#262626" stroke-width="2" stroke-opacity="0.75"/><circle cx="114.2" cy="1217.2" r="7.2" fill="#adadad" stroke="#262626" stroke-width="2" stroke-opacity="0.75"/><circle cx="126.2" cy="1214.1" r="7.1" fill="#727272" stroke="#262626" stroke-width="2" stroke-opacity="0.75"/><circle cx="142.3" cy="1211.2" r="7.1" fill="#a5a5a5" stroke="#262626" stroke-width="2" stroke-opacity="0.75"/><circle cx="154.4" cy="1206.3" r="8.5" fill="#acacac" stroke="#262626" stroke-width="2" stroke-opacity="0.75"/><circle cx="171.5" cy="1203.1" r="8.0" fill="#949494" stroke="#262626" stroke-width="2" stroke-opacity="0.75"/><circle cx="185.1" cy="1202.3" r="7.3" fill="#6f6f6f" stroke="#262626" stroke-width="2" stroke-opacity="0.75"/><circle cx="199.7" cy="1200.3" r="8.1" fill="#929292" stroke="#262626" stroke-width="2" stroke-opacity="0.75"/><circle cx="213.2" cy="1195.8" r="8.0" fill="#787878" stroke="#262626" stroke-width="2" stroke-opacity="0.75"/><circle cx="226.3" cy="1196.0" r="6.7" fill="#9f9f9f" stroke="#262626" stroke-width="2" stroke-opacity="0.75"/><circle cx="239.3" cy="1190.7" r="7.3" fill="#7a7a7a" stroke="#262626" stroke-width="2" stroke-opacity="0.75"/><circle cx="253.6" cy="1191.8" r="8.2" fill="#aaaaaa" stroke="#262626" stroke-width="2" stroke-opacity="0.75"/><circle cx="267.6" cy="1187.1" r="8.0" fill="#a5a5a5" stroke="#262626" stroke-width="2" stroke-opacity="0.75"/><circle cx="280.9" cy="1184.6" r="8.3" fill="#767676" stroke="#262626" stroke-width="2" stroke-opacity="0.75"/><circle cx="295.3" cy="1184.0" r="8.4" fill="#b8b8b8" stroke="#262626" stroke-width="2" stroke-opacity="0.75"/><circle cx="311.5" cy="1180.5" r="6.9" fill="#a6a6a6" stroke="#262626" stroke-width="2" stroke-opacity="0.75"/><circle cx="322.9" cy="1178.1" r="8.2" fill="#969696" stroke="#262626" stroke-width="2" stroke-opacity="0.75"/><circle cx="336.1" cy="1175.7" r="7.2" fill="#b3b3b3" stroke="#262626" stroke-width="2" stroke-opacity="0.75"/><circle cx="65.5" cy="1241.6" r="7.2" fill="#bdbdbd" stroke="#262626" stroke-width="2" stroke-opacity="0.75"/><circle cx="77.9" cy="1238.2" r="8.0" fill="#c0c0c0" stroke="#262626" stroke-width="2" stroke-opacity="0.75"/><circle cx="93.7" cy="1237.2" r="7.2" fill="#7e7e7e" stroke="#262626" stroke-width="2" stroke-opacity="0.75"/><circle cx="107.1" cy="1230.9" r="7.6" fill="#888888" stroke="#262626" stroke-width="2" stroke-opacity="0.75"/><circle cx="120.1" cy="1229.6" r="7.1" fill="#a8a8a8" stroke="#262626" stroke-width="2" stroke-opacity="0.75"/><circle cx="135.4" cy="1228.8" r="7.2" fill="#bababa" stroke="#262626" stroke-width="2" stroke-opacity="0.75"/><circle cx="148.2" cy="1227.0" r="7.3" fill="#7e7e7e" stroke="#262626" stroke-width="2" stroke-opacity="0.75"/><circle cx="164.3" cy="1223.0" r="8.5" fill="#929292" stroke="#262626" stroke-width="2" stroke-opacity="0.75"/><circle cx="176.9" cy="1220.1" r="6.8" fill="#969696" stroke="#262626" stroke-width="2" stroke-opacity="0.75"/><circle cx="192.5" cy="1217.0" r="7.9" fill="#bdbdbd" stroke="#262626" stroke-width="2" stroke-opacity="0.75"/><circle cx="205.7" cy="1213.3" r="8.1" fill="#b2b2b2" stroke="#262626" stroke-width="2" stroke-opacity="0.75"/><circle cx="218.9" cy="1213.9" r="7.1" fill="#aeaeae" stroke="#262626" stroke-width="2" stroke-opacity="0.75"/><circle cx="233.9" cy="1210.0" r="7.9" fill="#6b6b6b" stroke="#262626" stroke-width="2" stroke-opacity="0.75"/><circle cx="245.6" cy="1207.6" r="7.7" fill="#7f7f7f" stroke="#262626" stroke-width="2" stroke-opacity="0.75"/><circle cx="259.7" cy="1205.4" r="7.8" fill="#6d6d6d" stroke="#262626" stroke-width="2" stroke-opacity="0.75"/><circle cx="276.7" cy="1203.4" r="6.8" fill="#797979" stroke="#262626" stroke-width="2" stroke-opacity="0.75"/><circle cx="287.2" cy="1201.4" r="7.5" fill="#aeaeae" stroke="#262626" stroke-width="2" stroke-opacity="0.75"/><circle cx="300.9" cy="1196.9" r="7.3" fill="#b6b6b6" stroke="#262626" stroke-width="2" stroke-opacity="0.75"/><circle cx="315.1" cy="1193.2" r="7.9" fill="#979797" stroke="#262626" stroke-width="2" stroke-opacity="0.75"/><circle cx="328.8" cy="1191.5" r="7.1" fill="#9c9c9c" stroke="#262626" stroke-width="2" stroke-opacity="0.75"/><circle cx="73.3" cy="1255.9" r="7.6" fill="#6c6c6c" stroke="#262626" stroke-width="2" stroke-opacity="0.75"/><circle cx="86.0" cy="1252.0" r="7.1" fill="#a9a9a9" stroke="#262626" stroke-width="2" stroke-opacity="0.75"/><circle cx="99.2" cy="1250.7" r="8.4" fill="#787878" stroke="#262626" stroke-width="2" stroke-opacity="0.75"/><circle cx="113.5" cy="1248.9" r="7.8" fill="#979797" stroke="#262626" stroke-width="2" stroke-opacity="0.75"/><circle cx="127.7" cy="1243.7" r="7.3" fill="#a5a5a5" stroke="#262626" stroke-width="2" stroke-opacity="0.75"/><circle cx="143.6" cy="1244.0" r="7.7" fill="#949494" stroke="#262626" stroke-width="2" stroke-opacity="0.75"/><circle cx="157.1" cy="1240.3" r="7.3" fill="#919191" stroke="#262626" stroke-width="2" stroke-opacity="0.75"/><circle cx="170.1" cy="1237.7" r="6.8" fill="#b8b8b8" stroke="#262626" stroke-width="2" stroke-opacity="0.75"/><circle cx="185.3" cy="1234.7" r="7.4" fill="#848484" stroke="#262626" stroke-width="2" stroke-opacity="0.75"/><circle cx="197.8" cy="1232.0" r="7.9" fill="#999999" stroke="#262626" stroke-width="2" stroke-opacity="0.75"/><circle cx="213.6" cy="1230.8" r="7.7" fill="#898989" stroke="#262626" stroke-width="2" stroke-opacity="0.75"/><circle cx="226.8" cy="1225.9" r="7.0" fill="#6a6a6a" stroke="#262626" stroke-width="2" stroke-opacity="0.75"/><circle cx="239.1" cy="1226.4" r="7.5" fill="#8c8c8c" stroke="#262626" stroke-width="2" stroke-opacity="0.75"/><circle cx="252.4" cy="1220.1" r="7.8" fill="#a0a0a0" stroke="#262626" stroke-width="2" stroke-opacity="0.75"/><circle cx="266.8" cy="1217.5" r="6.8" fill="#9a9a9a" stroke="#262626" stroke-width="2" stroke-opacity="0.75"/><circle cx="279.9" cy="1217.0" r="7.0" fill="#a4a4a4" stroke="#262626" stroke-width="2" stroke-opacity="0.75"/><circle cx="296.9" cy="1212.7" r="7.0" fill="#7b7b7b" stroke="#262626" stroke-width="2" stroke-opacity="0.75"/><circle cx="310.7" cy="1210.4" r="7.5" fill="#a4a4a4" stroke="#262626" stroke-width="2" stroke-opacity="0.75"/><circle cx="323.9" cy="1210.2" r="8.3" fill="#777777" stroke="#262626" stroke-width="2" stroke-opacity="0.75"/><circle cx="335.9" cy="1205.1" r="7.1" fill="#939393" stroke="#262626" stroke-width="2" stroke-opacity="0.75"/><circle cx="65.3" cy="1273.5" r="6.6" fill="#949494" stroke="#262626" stroke-width="2" stroke-opacity="0.75"/><circle cx="78.2" cy="1271.2" r="7.7" fill="#6c6c6c" stroke="#262626" stroke-width="2" stroke-opacity="0.75"/><circle cx="90.8" cy="1268.1" r="7.9" fill="#757575" stroke="#262626" stroke-width="2" stroke-opacity="0.75"/><circle cx="108.4" cy="1264.8" r="6.5" fill="#9e9e9e" stroke="#262626" stroke-width="2" stroke-opacity="0.75"/><circle cx="121.2" cy="1263.0" r="8.4" fill="#bbbbbb" stroke="#262626" stroke-width="2" stroke-opacity="0.75"/><circle cx="134.7" cy="1261.4" r="7.3" fill="#9a9a9a" stroke="#262626" stroke-width="2" stroke-opacity="0.75"/><circle cx="149.5" cy="1257.9" r="8.3" fill="#a3a3a3" stroke="#262626" stroke-width="2" stroke-opacity="0.75"/><circle cx="164.1" cy="1252.6" r="8.2" fill="#c0c0c0" stroke="#262626" stroke-width="2" stroke-opacity="0.75"/><circle cx="177.9" cy="1252.1" r="7.8" fill="#a4a4a4" stroke="#262626" stroke-width="2" stroke-opacity="0.75"/><circle cx="192.4" cy="1247.7" r="7.5" fill="#aeaeae" stroke="#262626" stroke-width="2" stroke-opacity="0.75"/><circle cx="206.4" cy="1248.4" r="7.6" fill="#9e9e9e" stroke="#262626" stroke-width="2" stroke-opacity="0.75"/><circle cx="219.1" cy="1245.4" r="6.6" fill="#858585" stroke="#262626" stroke-width="2" stroke-opacity="0.75"/><circle cx="231.9" cy="1240.1" r="6.6" fill="#6b6b6b" stroke="#262626" stroke-width="2" stroke-opacity="0.75"/><circle cx="246.1" cy="1238.9" r="6.6" fill="#9b9b9b" stroke="#262626" stroke-width="2" stroke-opacity="0.75"/><circle cx="261.6" cy="1234.5" r="8.2" fill="#848484" stroke="#262626" stroke-width="2" stroke-opacity="0.75"/><circle cx="275.3" cy="1235.1" r="6.7" fill="#797979" stroke="#262626" stroke-width="2" stroke-opacity="0.75"/><circle cx="290.8" cy="1231.7" r="7.4" fill="#7f7f7f" stroke="#262626" stroke-width="2" stroke-opacity="0.75"/><circle cx="303.2" cy="1228.2" r="6.8" fill="#b7b7b7" stroke="#262626" stroke-width="2" stroke-opacity="0.75"/><circle cx="315.7" cy="1226.5" r="7.8" fill="#717171" stroke="#262626" stroke-width="2" stroke-opacity="0.75"/><circle cx="329.9" cy="1223.9" r="6.7" fill="#9b9b9b" stroke="#262626" stroke-width="2" stroke-opacity="0.75"/><circle cx="66.3" cy="1288.3" r="6.9" fill="#686868" stroke="#1a1a1a" stroke-width="2" stroke-opacity="0.8"/><circle cx="79.5" cy="1287.2" r="6.7" fill="#6f6f6f" stroke="#1a1a1a" stroke-width="2" stroke-opacity="0.8"/><circle cx="94.5" cy="1283.6" r="6.6" fill="#888888" stroke="#1a1a1a" stroke-width="2" stroke-opacity="0.8"/><circle cx="107.3" cy="1282.5" r="7.8" fill="#878787" stroke="#1a1a1a" stroke-width="2" stroke-opacity="0.8"/><circle cx="121.0" cy="1279.3" r="6.1" fill="#5e5e5e" stroke="#1a1a1a" stroke-width="2" stroke-opacity="0.8"/><circle cx="133.8" cy="1278.7" r="7.0" fill="#515151" stroke="#1a1a1a" stroke-width="2" stroke-opacity="0.8"/><circle cx="150.0" cy="1276.3" r="6.9" fill="#717171" stroke="#1a1a1a" stroke-width="2" stroke-opacity="0.8"/><circle cx="161.5" cy="1273.9" r="7.3" fill="#4a4a4a" stroke="#1a1a1a" stroke-width="2" stroke-opacity="0.8"/><circle cx="177.1" cy="1269.2" r="7.7" fill="#808080" stroke="#1a1a1a" stroke-width="2" stroke-opacity="0.8"/><circle cx="191.2" cy="1267.4" r="7.8" fill="#7d7d7d" stroke="#1a1a1a" stroke-width="2" stroke-opacity="0.8"/><circle cx="206.7" cy="1264.4" r="7.1" fill="#858585" stroke="#1a1a1a" stroke-width="2" stroke-opacity="0.8"/><circle cx="219.7" cy="1262.0" r="6.3" fill="#767676" stroke="#1a1a1a" stroke-width="2" stroke-opacity="0.8"/><circle cx="233.5" cy="1260.2" r="6.2" fill="#7e7e7e" stroke="#1a1a1a" stroke-width="2" stroke-opacity="0.8"/><circle cx="248.1" cy="1257.5" r="7.2" fill="#6d6d6d" stroke="#1a1a1a" stroke-width="2" stroke-opacity="0.8"/><circle cx="262.1" cy="1255.5" r="7.9" fill="#6c6c6c" stroke="#1a1a1a" stroke-width="2" stroke-opacity="0.8"/><circle cx="276.0" cy="1253.4" r="7.4" fill="#6d6d6d" stroke="#1a1a1a" stroke-width="2" stroke-opacity="0.8"/><circle cx="289.4" cy="1252.4" r="6.9" fill="#6e6e6e" stroke="#1a1a1a" stroke-width="2" stroke-opacity="0.8"/><circle cx="302.9" cy="1249.5" r="7.1" fill="#575757" stroke="#1a1a1a" stroke-width="2" stroke-opacity="0.8"/><circle cx="316.4" cy="1245.7" r="6.1" fill="#595959" stroke="#1a1a1a" stroke-width="2" stroke-opacity="0.8"/><circle cx="329.6" cy="1244.7" r="7.9" fill="#6c6c6c" stroke="#1a1a1a" stroke-width="2" stroke-opacity="0.8"/></g><polygon points="64.8,1306.7 315.8,1266.7 320.8,1382.7 64.8,1382.7" fill="#c4c4c4" opacity="1" filter="url(#b4)"/><g opacity="0.8" mask="url(#mk8)"><rect x="64.8" y="1126.7" width="251.0" height="251.0" filter="url(#td8)"/><rect x="64.8" y="1126.7" width="251.0" height="251.0" filter="url(#tl8)"/></g><g opacity="0.6" mask="url(#mk9)"><rect x="64.8" y="1126.7" width="251.0" height="251.0" filter="url(#td9)"/><rect x="64.8" y="1126.7" width="251.0" height="251.0" filter="url(#tl9)"/></g></g><g clip-path="url(#cp23)"><rect x="340.1" y="1129.0" width="251.0" height="251.0" fill="#5e08fa" /><rect x="340.1" y="1129.0" width="251.0" height="251.0" fill="#000" filter="url(#nC)" opacity="1"/><rect x="340.1" y="1129.0" width="251.0" height="251.0" fill="#000" filter="url(#nCb)" opacity="1"/><ellipse cx="380.1" cy="1144.0" rx="120.0" ry="40.0" fill="#000" opacity="0.35" filter="url(#b20)" transform="rotate(-10 380.1 1144.0)"/></g><g clip-path="url(#cp24)"><rect x="603.8" y="1129.0" width="251.0" height="251.0" fill="#5e08fa" /><rect x="603.8" y="1129.0" width="251.0" height="251.0" fill="#000" filter="url(#nC)" opacity="1"/><rect x="603.8" y="1129.0" width="251.0" height="251.0" fill="#000" filter="url(#nCb)" opacity="1"/></g><g clip-path="url(#cp25)"><rect x="867.9" y="1129.0" width="251.0" height="251.0" fill="#5e08fa" /><rect x="867.9" y="1129.0" width="251.0" height="251.0" fill="#000" filter="url(#nC)" opacity="1"/><rect x="867.9" y="1129.0" width="251.0" height="251.0" fill="#000" filter="url(#nCb)" opacity="1"/></g><g clip-path="url(#cp26)"><rect x="64.8" y="1472.0" width="248.0" height="247.6" fill="url(#ge)" /><ellipse cx="304.8" cy="1487.0" rx="40.0" ry="40.0" fill="#4a4a4a" opacity="0.7" filter="url(#b12)"/><ellipse cx="124.8" cy="1522.0" rx="90.0" ry="60.0" fill="#767676" opacity="0.7" filter="url(#b14)"/><polygon points="64.8,1590.0 312.8,1620.0 312.8,1640.0 64.8,1610.0" fill="#d0d0d0" opacity="0.8" filter="url(#b3)"/><g opacity="0.9" mask="url(#mk10)"><rect x="64.8" y="1472.0" width="248.0" height="247.6" filter="url(#td10)"/><rect x="64.8" y="1472.0" width="248.0" height="247.6" filter="url(#tl10)"/><rect x="64.8" y="1472.0" width="248.0" height="247.6" filter="url(#tc10)"/></g><g opacity="0.6" mask="url(#mk11)"><rect x="64.8" y="1472.0" width="248.0" height="247.6" filter="url(#td11)"/><rect x="64.8" y="1472.0" width="248.0" height="247.6" filter="url(#tl11)"/></g></g><g clip-path="url(#cp27)"><rect x="340.1" y="1471.4" width="248.0" height="247.6" fill="#6a00ff" /><rect x="340.1" y="1471.4" width="248.0" height="247.6" fill="#000" filter="url(#nE)" opacity="1"/><rect x="340.1" y="1471.4" width="248.0" height="247.6" fill="#000" filter="url(#nEb)" opacity="1"/></g><g clip-path="url(#cp28)"><rect x="603.8" y="1471.4" width="248.0" height="247.6" fill="#6a00ff" /><rect x="603.8" y="1471.4" width="248.0" height="247.6" fill="#000" filter="url(#nE)" opacity="1"/><rect x="603.8" y="1471.4" width="248.0" height="247.6" fill="#000" filter="url(#nEb)" opacity="1"/></g><g clip-path="url(#cp29)"><rect x="867.9" y="1471.4" width="248.0" height="247.6" fill="#6a00ff" /><rect x="867.9" y="1471.4" width="248.0" height="247.6" fill="#000" filter="url(#nE)" opacity="1"/><rect x="867.9" y="1471.4" width="248.0" height="247.6" fill="#000" filter="url(#nEb)" opacity="1"/></g><g clip-path="url(#cp30)"></g><line x1="340.0" y1="243.9" x2="576.0" y2="223.4" stroke="#fff" stroke-width="4.5" stroke-dasharray="15.5 15.5" stroke-dashoffset="0"/><line x1="340.0" y1="263.9" x2="576.0" y2="241.9" stroke="#fff" stroke-width="4.5" stroke-dasharray="15.5 15.5" stroke-dashoffset="0"/><line x1="340.0" y1="310.9" x2="576.0" y2="289.9" stroke="#fff" stroke-width="4.5" stroke-dasharray="15.5 15.5" stroke-dashoffset="0"/><line x1="340.0" y1="332.9" x2="576.0" y2="312.4" stroke="#fff" stroke-width="4.5" stroke-dasharray="15.5 15.5" stroke-dashoffset="0"/><rect x="525.0" y="118.4" width="54.5" height="3.6" fill="#fff" /><g clip-path="url(#cp31)"><polygon points="651.5,314.4 655.5,309.4 668.5,306.9 696.5,304.4 720.5,302.9 746.5,302.4 749.5,304.9 746.5,309.4 739.5,319.4 696.5,323.4 669.5,325.9 658.5,319.4" fill="#1830ff" stroke="#1830ff" stroke-width="16.0" stroke-linejoin="round" opacity="0.9" filter="url(#b4)"/><polygon points="651.5,314.4 655.5,309.4 668.5,306.9 696.5,304.4 720.5,302.9 746.5,302.4 749.5,304.9 746.5,309.4 739.5,319.4 696.5,323.4 669.5,325.9 658.5,319.4" fill="#00b8ff" stroke="#00b8ff" stroke-width="8.0" stroke-linejoin="round" opacity="1" filter="url(#b2)"/><polygon points="651.5,314.4 655.5,309.4 668.5,306.9 696.5,304.4 720.5,302.9 746.5,302.4 749.5,304.9 746.5,309.4 739.5,319.4 696.5,323.4 669.5,325.9 658.5,319.4" fill="#10ff50" stroke="#10ff50" stroke-width="4.0" stroke-linejoin="round" opacity="1" filter="url(#b2)"/><polygon points="651.5,314.4 655.5,309.4 668.5,306.9 696.5,304.4 720.5,302.9 746.5,302.4 749.5,304.9 746.5,309.4 739.5,319.4 696.5,323.4 669.5,325.9 658.5,319.4" fill="#a8ff00" opacity="1" filter="url(#b2)"/><polygon points="661.2,313.8 664.4,310.0 674.8,308.1 697.2,306.3 716.4,305.1 737.2,304.8 739.6,306.6 737.2,310.0 731.6,317.5 697.2,320.5 675.6,322.4 666.8,317.5" fill="#f0ff00" opacity="1" filter="url(#b2)"/><ellipse cx="683.5" cy="314.9" rx="8.0" ry="4.5" fill="#ff8a00" opacity="1" filter="url(#b2)" transform="rotate(-5 683.5 314.9)"/><ellipse cx="699.5" cy="312.4" rx="9.0" ry="5.0" fill="#ff8a00" opacity="1" filter="url(#b2)" transform="rotate(-5 699.5 312.4)"/><ellipse cx="729.5" cy="309.4" rx="11.0" ry="5.5" fill="#ff8a00" opacity="1" filter="url(#b2)" transform="rotate(-5 729.5 309.4)"/><ellipse cx="700.5" cy="312.4" rx="5.0" ry="3.0" fill="#ff4a00" opacity="1" filter="url(#b1.5)" transform="rotate(-5 700.5 312.4)"/><ellipse cx="730.5" cy="309.9" rx="6.0" ry="3.2" fill="#ff4a00" opacity="1" filter="url(#b1.5)" transform="rotate(-5 730.5 309.9)"/><ellipse cx="761.9" cy="305.1" rx="9.0" ry="7.5" fill="#2040ff" opacity="1" filter="url(#b3)"/><ellipse cx="761.9" cy="305.1" rx="6.5" ry="5.5" fill="#20ff60" opacity="1" filter="url(#b2)"/><ellipse cx="761.9" cy="305.1" rx="3.5" ry="3.0" fill="#ff9000" opacity="1" filter="url(#b1.5)"/></g><line x1="603.5" y1="243.9" x2="839.5" y2="223.4" stroke="#fff" stroke-width="4.5" stroke-dasharray="15.5 15.5" stroke-dashoffset="0"/><line x1="603.5" y1="263.9" x2="839.5" y2="241.9" stroke="#fff" stroke-width="4.5" stroke-dasharray="15.5 15.5" stroke-dashoffset="0"/><line x1="603.5" y1="310.9" x2="839.5" y2="289.9" stroke="#fff" stroke-width="4.5" stroke-dasharray="15.5 15.5" stroke-dashoffset="0"/><line x1="603.5" y1="332.9" x2="839.5" y2="312.4" stroke="#fff" stroke-width="4.5" stroke-dasharray="15.5 15.5" stroke-dashoffset="0"/><rect x="788.5" y="118.4" width="54.5" height="3.6" fill="#fff" /><g clip-path="url(#cp32)"><polygon points="915.5,314.4 919.5,309.4 932.5,306.9 960.5,304.4 984.5,302.9 1010.5,302.4 1013.5,304.9 1010.5,309.4 1003.5,319.4 960.5,323.4 933.5,325.9 922.5,319.4" fill="#1830ff" stroke="#1830ff" stroke-width="16.0" stroke-linejoin="round" opacity="0.9" filter="url(#b4)"/><polygon points="915.5,314.4 919.5,309.4 932.5,306.9 960.5,304.4 984.5,302.9 1010.5,302.4 1013.5,304.9 1010.5,309.4 1003.5,319.4 960.5,323.4 933.5,325.9 922.5,319.4" fill="#00b8ff" stroke="#00b8ff" stroke-width="8.0" stroke-linejoin="round" opacity="1" filter="url(#b2)"/><polygon points="915.5,314.4 919.5,309.4 932.5,306.9 960.5,304.4 984.5,302.9 1010.5,302.4 1013.5,304.9 1010.5,309.4 1003.5,319.4 960.5,323.4 933.5,325.9 922.5,319.4" fill="#10ff50" stroke="#10ff50" stroke-width="4.0" stroke-linejoin="round" opacity="1" filter="url(#b2)"/><polygon points="915.5,314.4 919.5,309.4 932.5,306.9 960.5,304.4 984.5,302.9 1010.5,302.4 1013.5,304.9 1010.5,309.4 1003.5,319.4 960.5,323.4 933.5,325.9 922.5,319.4" fill="#a8ff00" opacity="1" filter="url(#b2)"/><polygon points="925.2,313.8 928.4,310.0 938.8,308.1 961.2,306.3 980.4,305.1 1001.2,304.8 1003.6,306.6 1001.2,310.0 995.6,317.5 961.2,320.5 939.6,322.4 930.8,317.5" fill="#f0ff00" opacity="1" filter="url(#b2)"/><ellipse cx="947.5" cy="314.9" rx="8.0" ry="4.5" fill="#ff8a00" opacity="1" filter="url(#b2)" transform="rotate(-5 947.5 314.9)"/><ellipse cx="963.5" cy="312.4" rx="9.0" ry="5.0" fill="#ff8a00" opacity="1" filter="url(#b2)" transform="rotate(-5 963.5 312.4)"/><ellipse cx="993.5" cy="309.4" rx="11.0" ry="5.5" fill="#ff8a00" opacity="1" filter="url(#b2)" transform="rotate(-5 993.5 309.4)"/><ellipse cx="964.5" cy="312.4" rx="5.0" ry="3.0" fill="#ff4a00" opacity="1" filter="url(#b1.5)" transform="rotate(-5 964.5 312.4)"/><ellipse cx="994.5" cy="309.9" rx="6.0" ry="3.2" fill="#ff4a00" opacity="1" filter="url(#b1.5)" transform="rotate(-5 994.5 309.9)"/><ellipse cx="1025.9" cy="305.1" rx="9.0" ry="7.5" fill="#2040ff" opacity="1" filter="url(#b3)"/><ellipse cx="1025.9" cy="305.1" rx="6.5" ry="5.5" fill="#20ff60" opacity="1" filter="url(#b2)"/><ellipse cx="1025.9" cy="305.1" rx="3.5" ry="3.0" fill="#ff9000" opacity="1" filter="url(#b1.5)"/><ellipse cx="910.5" cy="211.4" rx="42.0" ry="30.0" fill="#1e40ff" opacity="1" filter="url(#b5)"/><ellipse cx="909.5" cy="211.4" rx="32.0" ry="22.0" fill="#0090ff" opacity="1" filter="url(#b5)"/><ellipse cx="909.5" cy="210.4" rx="20.0" ry="14.0" fill="#00d8c0" opacity="1" filter="url(#b5)"/></g><line x1="867.5" y1="243.9" x2="1103.5" y2="223.4" stroke="#fff" stroke-width="4.5" stroke-dasharray="15.5 15.5" stroke-dashoffset="0"/><line x1="867.5" y1="263.9" x2="1103.5" y2="241.9" stroke="#fff" stroke-width="4.5" stroke-dasharray="15.5 15.5" stroke-dashoffset="0"/><line x1="867.5" y1="310.9" x2="1103.5" y2="289.9" stroke="#fff" stroke-width="4.5" stroke-dasharray="15.5 15.5" stroke-dashoffset="0"/><line x1="867.5" y1="332.9" x2="1103.5" y2="312.4" stroke="#fff" stroke-width="4.5" stroke-dasharray="15.5 15.5" stroke-dashoffset="0"/><rect x="1052.5" y="118.4" width="54.5" height="3.6" fill="#fff" /><g clip-path="url(#cp33)"><polygon points="1179.5,314.4 1183.5,309.4 1196.5,306.9 1224.5,304.4 1248.5,302.9 1274.5,302.4 1277.5,304.9 1274.5,309.4 1267.5,319.4 1224.5,323.4 1197.5,325.9 1186.5,319.4" fill="#1830ff" stroke="#1830ff" stroke-width="16.0" stroke-linejoin="round" opacity="0.9" filter="url(#b4)"/><polygon points="1179.5,314.4 1183.5,309.4 1196.5,306.9 1224.5,304.4 1248.5,302.9 1274.5,302.4 1277.5,304.9 1274.5,309.4 1267.5,319.4 1224.5,323.4 1197.5,325.9 1186.5,319.4" fill="#00b8ff" stroke="#00b8ff" stroke-width="8.0" stroke-linejoin="round" opacity="1" filter="url(#b2)"/><polygon points="1179.5,314.4 1183.5,309.4 1196.5,306.9 1224.5,304.4 1248.5,302.9 1274.5,302.4 1277.5,304.9 1274.5,309.4 1267.5,319.4 1224.5,323.4 1197.5,325.9 1186.5,319.4" fill="#10ff50" stroke="#10ff50" stroke-width="4.0" stroke-linejoin="round" opacity="1" filter="url(#b2)"/><polygon points="1179.5,314.4 1183.5,309.4 1196.5,306.9 1224.5,304.4 1248.5,302.9 1274.5,302.4 1277.5,304.9 1274.5,309.4 1267.5,319.4 1224.5,323.4 1197.5,325.9 1186.5,319.4" fill="#a8ff00" opacity="1" filter="url(#b2)"/><polygon points="1189.2,313.8 1192.4,310.0 1202.8,308.1 1225.2,306.3 1244.4,305.1 1265.2,304.8 1267.6,306.6 1265.2,310.0 1259.6,317.5 1225.2,320.5 1203.6,322.4 1194.8,317.5" fill="#f0ff00" opacity="1" filter="url(#b2)"/><ellipse cx="1211.5" cy="314.9" rx="8.0" ry="4.5" fill="#ff8a00" opacity="1" filter="url(#b2)" transform="rotate(-5 1211.5 314.9)"/><ellipse cx="1227.5" cy="312.4" rx="9.0" ry="5.0" fill="#ff8a00" opacity="1" filter="url(#b2)" transform="rotate(-5 1227.5 312.4)"/><ellipse cx="1257.5" cy="309.4" rx="11.0" ry="5.5" fill="#ff8a00" opacity="1" filter="url(#b2)" transform="rotate(-5 1257.5 309.4)"/><ellipse cx="1228.5" cy="312.4" rx="5.0" ry="3.0" fill="#ff4a00" opacity="1" filter="url(#b1.5)" transform="rotate(-5 1228.5 312.4)"/><ellipse cx="1258.5" cy="309.9" rx="6.0" ry="3.2" fill="#ff4a00" opacity="1" filter="url(#b1.5)" transform="rotate(-5 1258.5 309.9)"/><ellipse cx="1289.9" cy="305.1" rx="9.0" ry="7.5" fill="#2040ff" opacity="1" filter="url(#b3)"/><ellipse cx="1289.9" cy="305.1" rx="6.5" ry="5.5" fill="#20ff60" opacity="1" filter="url(#b2)"/><ellipse cx="1289.9" cy="305.1" rx="3.5" ry="3.0" fill="#ff9000" opacity="1" filter="url(#b1.5)"/><ellipse cx="1256.5" cy="260.4" rx="150.0" ry="30.0" fill="#2a3cff" opacity="0.55" filter="url(#b8)" transform="rotate(-5 1256.5 260.4)"/><ellipse cx="1241.5" cy="252.4" rx="150.0" ry="14.0" fill="#2a48ff" opacity="0.8" filter="url(#b5)" transform="rotate(-5 1241.5 252.4)"/><g mask="url(#mk12)"><ellipse cx="1171.5" cy="240.4" rx="105.0" ry="100.0" fill="#1e40ff" opacity="1" filter="url(#b5)"/><ellipse cx="1166.5" cy="238.4" rx="95.0" ry="88.0" fill="#00b0ff" opacity="1" filter="url(#b5)"/><ellipse cx="1166.5" cy="230.4" rx="82.0" ry="72.0" fill="#00e890" opacity="1" filter="url(#b5)"/><ellipse cx="1166.5" cy="222.4" rx="72.0" ry="55.0" fill="#40ff30" opacity="1" filter="url(#b5)"/><ellipse cx="1171.5" cy="210.4" rx="52.0" ry="30.0" fill="#b0ff00" opacity="1" filter="url(#b5)"/><ellipse cx="1173.5" cy="208.4" rx="34.0" ry="18.0" fill="#e0ff00" opacity="1" filter="url(#b5)"/></g><polygon points="1179.5,314.4 1183.5,309.4 1196.5,306.9 1224.5,304.4 1248.5,302.9 1274.5,302.4 1277.5,304.9 1274.5,309.4 1267.5,319.4 1224.5,323.4 1197.5,325.9 1186.5,319.4" fill="#1830ff" stroke="#1830ff" stroke-width="16.0" stroke-linejoin="round" opacity="0.9" filter="url(#b4)"/><polygon points="1179.5,314.4 1183.5,309.4 1196.5,306.9 1224.5,304.4 1248.5,302.9 1274.5,302.4 1277.5,304.9 1274.5,309.4 1267.5,319.4 1224.5,323.4 1197.5,325.9 1186.5,319.4" fill="#00b8ff" stroke="#00b8ff" stroke-width="8.0" stroke-linejoin="round" opacity="1" filter="url(#b2)"/><polygon points="1179.5,314.4 1183.5,309.4 1196.5,306.9 1224.5,304.4 1248.5,302.9 1274.5,302.4 1277.5,304.9 1274.5,309.4 1267.5,319.4 1224.5,323.4 1197.5,325.9 1186.5,319.4" fill="#10ff50" stroke="#10ff50" stroke-width="4.0" stroke-linejoin="round" opacity="1" filter="url(#b2)"/><polygon points="1179.5,314.4 1183.5,309.4 1196.5,306.9 1224.5,304.4 1248.5,302.9 1274.5,302.4 1277.5,304.9 1274.5,309.4 1267.5,319.4 1224.5,323.4 1197.5,325.9 1186.5,319.4" fill="#a8ff00" opacity="1" filter="url(#b2)"/><polygon points="1189.2,313.8 1192.4,310.0 1202.8,308.1 1225.2,306.3 1244.4,305.1 1265.2,304.8 1267.6,306.6 1265.2,310.0 1259.6,317.5 1225.2,320.5 1203.6,322.4 1194.8,317.5" fill="#f0ff00" opacity="1" filter="url(#b2)"/><ellipse cx="1211.5" cy="314.9" rx="8.0" ry="4.5" fill="#ff8a00" opacity="1" filter="url(#b2)" transform="rotate(-5 1211.5 314.9)"/><ellipse cx="1227.5" cy="312.4" rx="9.0" ry="5.0" fill="#ff8a00" opacity="1" filter="url(#b2)" transform="rotate(-5 1227.5 312.4)"/><ellipse cx="1257.5" cy="309.4" rx="11.0" ry="5.5" fill="#ff8a00" opacity="1" filter="url(#b2)" transform="rotate(-5 1257.5 309.4)"/><ellipse cx="1228.5" cy="312.4" rx="5.0" ry="3.0" fill="#ff4a00" opacity="1" filter="url(#b1.5)" transform="rotate(-5 1228.5 312.4)"/><ellipse cx="1258.5" cy="309.9" rx="6.0" ry="3.2" fill="#ff4a00" opacity="1" filter="url(#b1.5)" transform="rotate(-5 1258.5 309.9)"/><ellipse cx="1289.9" cy="305.1" rx="9.0" ry="7.5" fill="#2040ff" opacity="1" filter="url(#b3)"/><ellipse cx="1289.9" cy="305.1" rx="6.5" ry="5.5" fill="#20ff60" opacity="1" filter="url(#b2)"/><ellipse cx="1289.9" cy="305.1" rx="3.5" ry="3.0" fill="#ff9000" opacity="1" filter="url(#b1.5)"/></g><line x1="1131.5" y1="243.9" x2="1367.5" y2="223.4" stroke="#fff" stroke-width="4.5" stroke-dasharray="15.5 15.5" stroke-dashoffset="0"/><line x1="1131.5" y1="263.9" x2="1367.5" y2="241.9" stroke="#fff" stroke-width="4.5" stroke-dasharray="15.5 15.5" stroke-dashoffset="0"/><line x1="1131.5" y1="310.9" x2="1367.5" y2="289.9" stroke="#fff" stroke-width="4.5" stroke-dasharray="15.5 15.5" stroke-dashoffset="0"/><line x1="1131.5" y1="332.9" x2="1367.5" y2="312.4" stroke="#fff" stroke-width="4.5" stroke-dasharray="15.5 15.5" stroke-dashoffset="0"/><rect x="1316.5" y="118.4" width="54.5" height="3.6" fill="#fff" /><g clip-path="url(#cp34)"><polygon points="1443.5,314.4 1447.5,309.4 1460.5,306.9 1488.5,304.4 1512.5,302.9 1538.5,302.4 1541.5,304.9 1538.5,309.4 1531.5,319.4 1488.5,323.4 1461.5,325.9 1450.5,319.4" fill="#1830ff" stroke="#1830ff" stroke-width="16.0" stroke-linejoin="round" opacity="0.9" filter="url(#b4)"/><polygon points="1443.5,314.4 1447.5,309.4 1460.5,306.9 1488.5,304.4 1512.5,302.9 1538.5,302.4 1541.5,304.9 1538.5,309.4 1531.5,319.4 1488.5,323.4 1461.5,325.9 1450.5,319.4" fill="#00b8ff" stroke="#00b8ff" stroke-width="8.0" stroke-linejoin="round" opacity="1" filter="url(#b2)"/><polygon points="1443.5,314.4 1447.5,309.4 1460.5,306.9 1488.5,304.4 1512.5,302.9 1538.5,302.4 1541.5,304.9 1538.5,309.4 1531.5,319.4 1488.5,323.4 1461.5,325.9 1450.5,319.4" fill="#10ff50" stroke="#10ff50" stroke-width="4.0" stroke-linejoin="round" opacity="1" filter="url(#b2)"/><polygon points="1443.5,314.4 1447.5,309.4 1460.5,306.9 1488.5,304.4 1512.5,302.9 1538.5,302.4 1541.5,304.9 1538.5,309.4 1531.5,319.4 1488.5,323.4 1461.5,325.9 1450.5,319.4" fill="#a8ff00" opacity="1" filter="url(#b2)"/><polygon points="1453.2,313.8 1456.4,310.0 1466.8,308.1 1489.2,306.3 1508.4,305.1 1529.2,304.8 1531.6,306.6 1529.2,310.0 1523.6,317.5 1489.2,320.5 1467.6,322.4 1458.8,317.5" fill="#f0ff00" opacity="1" filter="url(#b2)"/><ellipse cx="1475.5" cy="314.9" rx="8.0" ry="4.5" fill="#ff8a00" opacity="1" filter="url(#b2)" transform="rotate(-5 1475.5 314.9)"/><ellipse cx="1491.5" cy="312.4" rx="9.0" ry="5.0" fill="#ff8a00" opacity="1" filter="url(#b2)" transform="rotate(-5 1491.5 312.4)"/><ellipse cx="1521.5" cy="309.4" rx="11.0" ry="5.5" fill="#ff8a00" opacity="1" filter="url(#b2)" transform="rotate(-5 1521.5 309.4)"/><ellipse cx="1492.5" cy="312.4" rx="5.0" ry="3.0" fill="#ff4a00" opacity="1" filter="url(#b1.5)" transform="rotate(-5 1492.5 312.4)"/><ellipse cx="1522.5" cy="309.9" rx="6.0" ry="3.2" fill="#ff4a00" opacity="1" filter="url(#b1.5)" transform="rotate(-5 1522.5 309.9)"/><ellipse cx="1553.9" cy="305.1" rx="9.0" ry="7.5" fill="#2040ff" opacity="1" filter="url(#b3)"/><ellipse cx="1553.9" cy="305.1" rx="6.5" ry="5.5" fill="#20ff60" opacity="1" filter="url(#b2)"/><ellipse cx="1553.9" cy="305.1" rx="3.5" ry="3.0" fill="#ff9000" opacity="1" filter="url(#b1.5)"/><ellipse cx="1520.5" cy="260.4" rx="150.0" ry="30.0" fill="#2a3cff" opacity="0.55" filter="url(#b8)" transform="rotate(-5 1520.5 260.4)"/><ellipse cx="1505.5" cy="252.4" rx="150.0" ry="14.0" fill="#2a48ff" opacity="0.8" filter="url(#b5)" transform="rotate(-5 1505.5 252.4)"/><g mask="url(#mk13)"><ellipse cx="1455.5" cy="230.4" rx="125.0" ry="110.0" fill="#1e40ff" opacity="1" filter="url(#b5)"/><ellipse cx="1450.5" cy="228.4" rx="112.0" ry="98.0" fill="#00b0ff" opacity="1" filter="url(#b5)"/><ellipse cx="1445.5" cy="222.4" rx="98.0" ry="80.0" fill="#00e890" opacity="1" filter="url(#b5)"/><ellipse cx="1440.5" cy="215.4" rx="85.0" ry="60.0" fill="#40ff30" opacity="1" filter="url(#b5)"/><ellipse cx="1440.5" cy="210.4" rx="55.0" ry="32.0" fill="#a8ff00" opacity="1" filter="url(#b6)"/></g><polygon points="1443.5,314.4 1447.5,309.4 1460.5,306.9 1488.5,304.4 1512.5,302.9 1538.5,302.4 1541.5,304.9 1538.5,309.4 1531.5,319.4 1488.5,323.4 1461.5,325.9 1450.5,319.4" fill="#1830ff" stroke="#1830ff" stroke-width="16.0" stroke-linejoin="round" opacity="0.9" filter="url(#b4)"/><polygon points="1443.5,314.4 1447.5,309.4 1460.5,306.9 1488.5,304.4 1512.5,302.9 1538.5,302.4 1541.5,304.9 1538.5,309.4 1531.5,319.4 1488.5,323.4 1461.5,325.9 1450.5,319.4" fill="#00b8ff" stroke="#00b8ff" stroke-width="8.0" stroke-linejoin="round" opacity="1" filter="url(#b2)"/><polygon points="1443.5,314.4 1447.5,309.4 1460.5,306.9 1488.5,304.4 1512.5,302.9 1538.5,302.4 1541.5,304.9 1538.5,309.4 1531.5,319.4 1488.5,323.4 1461.5,325.9 1450.5,319.4" fill="#10ff50" stroke="#10ff50" stroke-width="4.0" stroke-linejoin="round" opacity="1" filter="url(#b2)"/><polygon points="1443.5,314.4 1447.5,309.4 1460.5,306.9 1488.5,304.4 1512.5,302.9 1538.5,302.4 1541.5,304.9 1538.5,309.4 1531.5,319.4 1488.5,323.4 1461.5,325.9 1450.5,319.4" fill="#a8ff00" opacity="1" filter="url(#b2)"/><polygon points="1453.2,313.8 1456.4,310.0 1466.8,308.1 1489.2,306.3 1508.4,305.1 1529.2,304.8 1531.6,306.6 1529.2,310.0 1523.6,317.5 1489.2,320.5 1467.6,322.4 1458.8,317.5" fill="#f0ff00" opacity="1" filter="url(#b2)"/><ellipse cx="1475.5" cy="314.9" rx="8.0" ry="4.5" fill="#ff8a00" opacity="1" filter="url(#b2)" transform="rotate(-5 1475.5 314.9)"/><ellipse cx="1491.5" cy="312.4" rx="9.0" ry="5.0" fill="#ff8a00" opacity="1" filter="url(#b2)" transform="rotate(-5 1491.5 312.4)"/><ellipse cx="1521.5" cy="309.4" rx="11.0" ry="5.5" fill="#ff8a00" opacity="1" filter="url(#b2)" transform="rotate(-5 1521.5 309.4)"/><ellipse cx="1492.5" cy="312.4" rx="5.0" ry="3.0" fill="#ff4a00" opacity="1" filter="url(#b1.5)" transform="rotate(-5 1492.5 312.4)"/><ellipse cx="1522.5" cy="309.9" rx="6.0" ry="3.2" fill="#ff4a00" opacity="1" filter="url(#b1.5)" transform="rotate(-5 1522.5 309.9)"/><ellipse cx="1553.9" cy="305.1" rx="9.0" ry="7.5" fill="#2040ff" opacity="1" filter="url(#b3)"/><ellipse cx="1553.9" cy="305.1" rx="6.5" ry="5.5" fill="#20ff60" opacity="1" filter="url(#b2)"/><ellipse cx="1553.9" cy="305.1" rx="3.5" ry="3.0" fill="#ff9000" opacity="1" filter="url(#b1.5)"/></g><line x1="1395.5" y1="243.9" x2="1631.5" y2="223.4" stroke="#fff" stroke-width="4.5" stroke-dasharray="15.5 15.5" stroke-dashoffset="0"/><line x1="1395.5" y1="263.9" x2="1631.5" y2="241.9" stroke="#fff" stroke-width="4.5" stroke-dasharray="15.5 15.5" stroke-dashoffset="0"/><line x1="1395.5" y1="310.9" x2="1631.5" y2="289.9" stroke="#fff" stroke-width="4.5" stroke-dasharray="15.5 15.5" stroke-dashoffset="0"/><line x1="1395.5" y1="332.9" x2="1631.5" y2="312.4" stroke="#fff" stroke-width="4.5" stroke-dasharray="15.5 15.5" stroke-dashoffset="0"/><rect x="1580.5" y="118.4" width="54.5" height="3.6" fill="#fff" /><g clip-path="url(#cp35)"><polygon points="1707.5,314.4 1711.5,309.4 1724.5,306.9 1752.5,304.4 1776.5,302.9 1802.5,302.4 1805.5,304.9 1802.5,309.4 1795.5,319.4 1752.5,323.4 1725.5,325.9 1714.5,319.4" fill="#1830ff" stroke="#1830ff" stroke-width="16.0" stroke-linejoin="round" opacity="0.9" filter="url(#b4)"/><polygon points="1707.5,314.4 1711.5,309.4 1724.5,306.9 1752.5,304.4 1776.5,302.9 1802.5,302.4 1805.5,304.9 1802.5,309.4 1795.5,319.4 1752.5,323.4 1725.5,325.9 1714.5,319.4" fill="#00b8ff" stroke="#00b8ff" stroke-width="8.0" stroke-linejoin="round" opacity="1" filter="url(#b2)"/><polygon points="1707.5,314.4 1711.5,309.4 1724.5,306.9 1752.5,304.4 1776.5,302.9 1802.5,302.4 1805.5,304.9 1802.5,309.4 1795.5,319.4 1752.5,323.4 1725.5,325.9 1714.5,319.4" fill="#10ff50" stroke="#10ff50" stroke-width="4.0" stroke-linejoin="round" opacity="1" filter="url(#b2)"/><polygon points="1707.5,314.4 1711.5,309.4 1724.5,306.9 1752.5,304.4 1776.5,302.9 1802.5,302.4 1805.5,304.9 1802.5,309.4 1795.5,319.4 1752.5,323.4 1725.5,325.9 1714.5,319.4" fill="#a8ff00" opacity="1" filter="url(#b2)"/><polygon points="1717.2,313.8 1720.4,310.0 1730.8,308.1 1753.2,306.3 1772.4,305.1 1793.2,304.8 1795.6,306.6 1793.2,310.0 1787.6,317.5 1753.2,320.5 1731.6,322.4 1722.8,317.5" fill="#f0ff00" opacity="1" filter="url(#b2)"/><ellipse cx="1739.5" cy="314.9" rx="8.0" ry="4.5" fill="#ff8a00" opacity="1" filter="url(#b2)" transform="rotate(-5 1739.5 314.9)"/><ellipse cx="1755.5" cy="312.4" rx="9.0" ry="5.0" fill="#ff8a00" opacity="1" filter="url(#b2)" transform="rotate(-5 1755.5 312.4)"/><ellipse cx="1785.5" cy="309.4" rx="11.0" ry="5.5" fill="#ff8a00" opacity="1" filter="url(#b2)" transform="rotate(-5 1785.5 309.4)"/><ellipse cx="1756.5" cy="312.4" rx="5.0" ry="3.0" fill="#ff4a00" opacity="1" filter="url(#b1.5)" transform="rotate(-5 1756.5 312.4)"/><ellipse cx="1786.5" cy="309.9" rx="6.0" ry="3.2" fill="#ff4a00" opacity="1" filter="url(#b1.5)" transform="rotate(-5 1786.5 309.9)"/><ellipse cx="1817.9" cy="305.1" rx="9.0" ry="7.5" fill="#2040ff" opacity="1" filter="url(#b3)"/><ellipse cx="1817.9" cy="305.1" rx="6.5" ry="5.5" fill="#20ff60" opacity="1" filter="url(#b2)"/><ellipse cx="1817.9" cy="305.1" rx="3.5" ry="3.0" fill="#ff9000" opacity="1" filter="url(#b1.5)"/><ellipse cx="1699.5" cy="260.4" rx="90.0" ry="28.0" fill="#2a3cff" opacity="0.45" filter="url(#b10)" transform="rotate(-5 1699.5 260.4)"/><g mask="url(#mk14)"><ellipse cx="1729.5" cy="225.4" rx="125.0" ry="100.0" fill="#2a38ff" opacity="1" filter="url(#b6)"/><ellipse cx="1724.5" cy="220.4" rx="110.0" ry="85.0" fill="#1e5cff" opacity="1" filter="url(#b6)"/><ellipse cx="1709.5" cy="200.4" rx="55.0" ry="35.0" fill="#1a90ff" opacity="1" filter="url(#b8)"/></g><polygon points="1707.5,314.4 1711.5,309.4 1724.5,306.9 1752.5,304.4 1776.5,302.9 1802.5,302.4 1805.5,304.9 1802.5,309.4 1795.5,319.4 1752.5,323.4 1725.5,325.9 1714.5,319.4" fill="#1830ff" stroke="#1830ff" stroke-width="16.0" stroke-linejoin="round" opacity="0.9" filter="url(#b4)"/><polygon points="1707.5,314.4 1711.5,309.4 1724.5,306.9 1752.5,304.4 1776.5,302.9 1802.5,302.4 1805.5,304.9 1802.5,309.4 1795.5,319.4 1752.5,323.4 1725.5,325.9 1714.5,319.4" fill="#00b8ff" stroke="#00b8ff" stroke-width="8.0" stroke-linejoin="round" opacity="1" filter="url(#b2)"/><polygon points="1707.5,314.4 1711.5,309.4 1724.5,306.9 1752.5,304.4 1776.5,302.9 1802.5,302.4 1805.5,304.9 1802.5,309.4 1795.5,319.4 1752.5,323.4 1725.5,325.9 1714.5,319.4" fill="#10ff50" stroke="#10ff50" stroke-width="4.0" stroke-linejoin="round" opacity="1" filter="url(#b2)"/><polygon points="1707.5,314.4 1711.5,309.4 1724.5,306.9 1752.5,304.4 1776.5,302.9 1802.5,302.4 1805.5,304.9 1802.5,309.4 1795.5,319.4 1752.5,323.4 1725.5,325.9 1714.5,319.4" fill="#a8ff00" opacity="1" filter="url(#b2)"/><polygon points="1717.2,313.8 1720.4,310.0 1730.8,308.1 1753.2,306.3 1772.4,305.1 1793.2,304.8 1795.6,306.6 1793.2,310.0 1787.6,317.5 1753.2,320.5 1731.6,322.4 1722.8,317.5" fill="#f0ff00" opacity="1" filter="url(#b2)"/><ellipse cx="1739.5" cy="314.9" rx="8.0" ry="4.5" fill="#ff8a00" opacity="1" filter="url(#b2)" transform="rotate(-5 1739.5 314.9)"/><ellipse cx="1755.5" cy="312.4" rx="9.0" ry="5.0" fill="#ff8a00" opacity="1" filter="url(#b2)" transform="rotate(-5 1755.5 312.4)"/><ellipse cx="1785.5" cy="309.4" rx="11.0" ry="5.5" fill="#ff8a00" opacity="1" filter="url(#b2)" transform="rotate(-5 1785.5 309.4)"/><ellipse cx="1756.5" cy="312.4" rx="5.0" ry="3.0" fill="#ff4a00" opacity="1" filter="url(#b1.5)" transform="rotate(-5 1756.5 312.4)"/><ellipse cx="1786.5" cy="309.9" rx="6.0" ry="3.2" fill="#ff4a00" opacity="1" filter="url(#b1.5)" transform="rotate(-5 1786.5 309.9)"/><ellipse cx="1817.9" cy="305.1" rx="9.0" ry="7.5" fill="#2040ff" opacity="1" filter="url(#b3)"/><ellipse cx="1817.9" cy="305.1" rx="6.5" ry="5.5" fill="#20ff60" opacity="1" filter="url(#b2)"/><ellipse cx="1817.9" cy="305.1" rx="3.5" ry="3.0" fill="#ff9000" opacity="1" filter="url(#b1.5)"/></g><line x1="1659.5" y1="243.9" x2="1895.5" y2="223.4" stroke="#fff" stroke-width="4.5" stroke-dasharray="15.5 15.5" stroke-dashoffset="0"/><line x1="1659.5" y1="263.9" x2="1895.5" y2="241.9" stroke="#fff" stroke-width="4.5" stroke-dasharray="15.5 15.5" stroke-dashoffset="0"/><line x1="1659.5" y1="310.9" x2="1895.5" y2="289.9" stroke="#fff" stroke-width="4.5" stroke-dasharray="15.5 15.5" stroke-dashoffset="0"/><line x1="1659.5" y1="332.9" x2="1895.5" y2="312.4" stroke="#fff" stroke-width="4.5" stroke-dasharray="15.5 15.5" stroke-dashoffset="0"/><rect x="1844.5" y="118.4" width="54.5" height="3.6" fill="#fff" /><line x1="1185.0" y1="222.5" x2="1226.0" y2="179.1" stroke="#fff" stroke-width="4"/><polygon points="1237.0,167.5 1231.8,184.6 1220.2,173.6" fill="#fff" opacity="1"/><text x="1240" y="164" font-size="25.5" font-weight="normal" font-style="normal" fill="#fff" text-anchor="start" stroke="#fff" stroke-width="0.7">8 μm/s</text><line x1="1696.0" y1="286.0" x2="1758.1" y2="279.2" stroke="#fff" stroke-width="4"/><polygon points="1774.0,277.5 1759.0,287.2 1757.2,271.3" fill="#fff" opacity="1"/><text x="1778.5" y="282.5" font-size="25.5" font-weight="normal" font-style="normal" fill="#fff" text-anchor="start" stroke="#fff" stroke-width="0.7">0.3 μm/s</text><rect x="610.0" y="118.4" width="42.5" height="24" rx="7.5" fill="#dcd5ea"/><text x="631.2" y="137.8" font-size="23.8" font-weight="bold" text-anchor="middle">0s</text><rect x="874.0" y="118.4" width="42.5" height="24" rx="7.5" fill="#dcd5ea"/><text x="895.2" y="137.8" font-size="23.8" font-weight="bold" text-anchor="middle">2s</text><rect x="1138.0" y="118.4" width="42.5" height="24" rx="7.5" fill="#dcd5ea"/><text x="1159.2" y="137.8" font-size="23.8" font-weight="bold" text-anchor="middle">5s</text><rect x="1402.0" y="118.4" width="44.0" height="24" rx="7.5" fill="#dcd5ea"/><text x="1424.0" y="137.8" font-size="23.8" font-weight="bold" text-anchor="middle">11s</text><rect x="1666.0" y="118.4" width="44.0" height="24" rx="7.5" fill="#dcd5ea"/><text x="1688.0" y="137.8" font-size="23.8" font-weight="bold" text-anchor="middle">18s</text><line x1="67.1" y1="244.4" x2="317.1" y2="222.9" stroke="#ffff00" stroke-width="5.5" stroke-dasharray="16 3.8" stroke-dashoffset="0"/><line x1="67.1" y1="264.4" x2="317.1" y2="241.4" stroke="#ffff00" stroke-width="5.5" stroke-dasharray="16 3.8" stroke-dashoffset="0"/><line x1="67.1" y1="310.9" x2="317.1" y2="288.9" stroke="#ffff00" stroke-width="5.5" stroke-dasharray="16 3.8" stroke-dashoffset="0"/><line x1="67.1" y1="332.9" x2="317.1" y2="310.9" stroke="#ffff00" stroke-width="5.5" stroke-dasharray="16 3.8" stroke-dashoffset="0"/><polygon points="67.1,308.1 147.0,308.1 141.0,289.6 182.7,313.0 141.0,336.4 147.0,317.9 67.1,317.9" fill="#ff0000" opacity="1"/><rect x="253.5" y="118.2" width="54.5" height="4.6" fill="#ffff00" /><text x="272.5" y="146.2" font-size="25.5" font-weight="normal" font-style="normal" fill="#ffff00" text-anchor="middle" stroke="#ffff00" stroke-width="0.8">30 μm</text><g clip-path="url(#cp36)"><ellipse cx="465.0" cy="567.7" rx="160.0" ry="40.0" fill="#3a30ff" opacity="0.3" filter="url(#b12)" transform="rotate(-5 465.0 567.7)"/><polygon points="335.0,617.7 400.0,613.7 460.0,603.7 520.0,596.7 596.0,589.7 596.0,613.7 520.0,620.7 460.0,629.7 400.0,639.7 335.0,643.7" fill="#1a30ff" stroke="#1a30ff" stroke-width="20.0" stroke-linejoin="round" opacity="0.9" filter="url(#b6)"/><polygon points="335.0,617.7 400.0,613.7 460.0,603.7 520.0,596.7 596.0,589.7 596.0,613.7 520.0,620.7 460.0,629.7 400.0,639.7 335.0,643.7" fill="#0a70ff" stroke="#0a70ff" stroke-width="8.0" stroke-linejoin="round" opacity="0.9" filter="url(#b4)"/><polygon points="360.4,617.6 412.4,614.2 460.4,605.9 508.4,600.1 569.2,594.2 569.2,614.2 508.4,620.1 460.4,627.6 412.4,635.9 360.4,639.2" fill="#00c0e0" opacity="0.9" filter="url(#b3)"/><polygon points="370.0,623.7 435.0,614.7 490.0,607.7 550.0,601.7 550.0,611.7 490.0,617.7 435.0,625.7 370.0,633.7" fill="#00e0a0" opacity="0.8" filter="url(#b3)"/><ellipse cx="356.4" cy="629.7" rx="10.0" ry="10.0" fill="#00b4ff" opacity="1" filter="url(#b2.5)" transform="rotate(-5 356.4 629.7)"/><ellipse cx="356.4" cy="629.7" rx="7.2" ry="7.2" fill="#00ff80" opacity="1" filter="url(#b2.5)" transform="rotate(-5 356.4 629.7)"/><ellipse cx="356.4" cy="629.7" rx="5.2" ry="5.2" fill="#60ff00" opacity="1" filter="url(#b2.5)" transform="rotate(-5 356.4 629.7)"/><ellipse cx="356.4" cy="629.7" rx="3.7" ry="3.7" fill="#ffff00" opacity="1" filter="url(#b2.5)" transform="rotate(-5 356.4 629.7)"/><ellipse cx="400.0" cy="624.7" rx="22.0" ry="7.0" fill="#00b4ff" opacity="1" filter="url(#b2.5)" transform="rotate(-5 400.0 624.7)"/><ellipse cx="400.0" cy="624.7" rx="15.8" ry="5.0" fill="#00ff80" opacity="1" filter="url(#b2.5)" transform="rotate(-5 400.0 624.7)"/><ellipse cx="462.0" cy="615.7" rx="26.0" ry="9.0" fill="#00b4ff" opacity="1" filter="url(#b2.5)" transform="rotate(-5 462.0 615.7)"/><ellipse cx="462.0" cy="615.7" rx="18.7" ry="6.5" fill="#00ff80" opacity="1" filter="url(#b2.5)" transform="rotate(-5 462.0 615.7)"/><ellipse cx="462.0" cy="615.7" rx="13.5" ry="4.7" fill="#60ff00" opacity="1" filter="url(#b2.5)" transform="rotate(-5 462.0 615.7)"/><ellipse cx="462.0" cy="615.7" rx="9.7" ry="3.4" fill="#ffff00" opacity="1" filter="url(#b2.5)" transform="rotate(-5 462.0 615.7)"/><ellipse cx="498.4" cy="612.9" rx="8.0" ry="7.0" fill="#00b4ff" opacity="1" filter="url(#b2.5)" transform="rotate(-5 498.4 612.9)"/><ellipse cx="498.4" cy="612.9" rx="5.8" ry="5.0" fill="#00ff80" opacity="1" filter="url(#b2.5)" transform="rotate(-5 498.4 612.9)"/><ellipse cx="498.4" cy="612.9" rx="4.1" ry="3.6" fill="#60ff00" opacity="1" filter="url(#b2.5)" transform="rotate(-5 498.4 612.9)"/><ellipse cx="530.0" cy="611.7" rx="18.0" ry="7.0" fill="#00b4ff" opacity="1" filter="url(#b2.5)" transform="rotate(-5 530.0 611.7)"/><ellipse cx="530.0" cy="611.7" rx="13.0" ry="5.0" fill="#00ff80" opacity="1" filter="url(#b2.5)" transform="rotate(-5 530.0 611.7)"/><ellipse cx="563.0" cy="605.9" rx="11.0" ry="8.0" fill="#00b4ff" opacity="1" filter="url(#b2.5)" transform="rotate(-5 563.0 605.9)"/><ellipse cx="563.0" cy="605.9" rx="7.9" ry="5.8" fill="#00ff80" opacity="1" filter="url(#b2.5)" transform="rotate(-5 563.0 605.9)"/><ellipse cx="563.0" cy="605.9" rx="5.7" ry="4.1" fill="#60ff00" opacity="1" filter="url(#b2.5)" transform="rotate(-5 563.0 605.9)"/><ellipse cx="563.0" cy="605.9" rx="4.1" ry="3.0" fill="#ffff00" opacity="1" filter="url(#b2.5)" transform="rotate(-5 563.0 605.9)"/><ellipse cx="590.0" cy="602.3" rx="8.0" ry="7.0" fill="#00b4ff" opacity="1" filter="url(#b2.5)" transform="rotate(-5 590.0 602.3)"/><ellipse cx="590.0" cy="602.3" rx="5.8" ry="5.0" fill="#00ff80" opacity="1" filter="url(#b2.5)" transform="rotate(-5 590.0 602.3)"/><ellipse cx="462.0" cy="615.2" rx="4.0" ry="3.0" fill="#ff9000" opacity="1" filter="url(#b1.5)"/><ellipse cx="563.0" cy="605.9" rx="4.0" ry="3.0" fill="#ffa000" opacity="1" filter="url(#b1.5)"/></g><line x1="340.0" y1="551.2" x2="576.0" y2="530.7" stroke="#fff" stroke-width="4.5" stroke-dasharray="15.5 15.5" stroke-dashoffset="0"/><line x1="340.0" y1="571.2" x2="576.0" y2="549.2" stroke="#fff" stroke-width="4.5" stroke-dasharray="15.5 15.5" stroke-dashoffset="0"/><line x1="340.0" y1="618.2" x2="576.0" y2="597.2" stroke="#fff" stroke-width="4.5" stroke-dasharray="15.5 15.5" stroke-dashoffset="0"/><line x1="340.0" y1="640.2" x2="576.0" y2="619.7" stroke="#fff" stroke-width="4.5" stroke-dasharray="15.5 15.5" stroke-dashoffset="0"/><rect x="525.0" y="425.2" width="54.5" height="3.8" fill="#fff" /><g clip-path="url(#cp37)"><ellipse cx="728.5" cy="567.7" rx="160.0" ry="40.0" fill="#3a30ff" opacity="0.3" filter="url(#b12)" transform="rotate(-5 728.5 567.7)"/><polygon points="598.5,617.7 663.5,613.7 723.5,603.7 783.5,596.7 859.5,589.7 859.5,613.7 783.5,620.7 723.5,629.7 663.5,639.7 598.5,643.7" fill="#1a30ff" stroke="#1a30ff" stroke-width="20.0" stroke-linejoin="round" opacity="0.9" filter="url(#b6)"/><polygon points="598.5,617.7 663.5,613.7 723.5,603.7 783.5,596.7 859.5,589.7 859.5,613.7 783.5,620.7 723.5,629.7 663.5,639.7 598.5,643.7" fill="#0a70ff" stroke="#0a70ff" stroke-width="8.0" stroke-linejoin="round" opacity="0.9" filter="url(#b4)"/><polygon points="623.9,617.6 675.9,614.2 723.9,605.9 771.9,600.1 832.7,594.2 832.7,614.2 771.9,620.1 723.9,627.6 675.9,635.9 623.9,639.2" fill="#00c0e0" opacity="0.9" filter="url(#b3)"/><polygon points="633.5,623.7 698.5,614.7 753.5,607.7 813.5,601.7 813.5,611.7 753.5,617.7 698.5,625.7 633.5,633.7" fill="#00e0a0" opacity="0.8" filter="url(#b3)"/><ellipse cx="619.9" cy="629.7" rx="10.0" ry="10.0" fill="#00b4ff" opacity="1" filter="url(#b2.5)" transform="rotate(-5 619.9 629.7)"/><ellipse cx="619.9" cy="629.7" rx="7.2" ry="7.2" fill="#00ff80" opacity="1" filter="url(#b2.5)" transform="rotate(-5 619.9 629.7)"/><ellipse cx="619.9" cy="629.7" rx="5.2" ry="5.2" fill="#60ff00" opacity="1" filter="url(#b2.5)" transform="rotate(-5 619.9 629.7)"/><ellipse cx="619.9" cy="629.7" rx="3.7" ry="3.7" fill="#ffff00" opacity="1" filter="url(#b2.5)" transform="rotate(-5 619.9 629.7)"/><ellipse cx="663.5" cy="624.7" rx="22.0" ry="7.0" fill="#00b4ff" opacity="1" filter="url(#b2.5)" transform="rotate(-5 663.5 624.7)"/><ellipse cx="663.5" cy="624.7" rx="15.8" ry="5.0" fill="#00ff80" opacity="1" filter="url(#b2.5)" transform="rotate(-5 663.5 624.7)"/><ellipse cx="725.5" cy="615.7" rx="26.0" ry="9.0" fill="#00b4ff" opacity="1" filter="url(#b2.5)" transform="rotate(-5 725.5 615.7)"/><ellipse cx="725.5" cy="615.7" rx="18.7" ry="6.5" fill="#00ff80" opacity="1" filter="url(#b2.5)" transform="rotate(-5 725.5 615.7)"/><ellipse cx="725.5" cy="615.7" rx="13.5" ry="4.7" fill="#60ff00" opacity="1" filter="url(#b2.5)" transform="rotate(-5 725.5 615.7)"/><ellipse cx="725.5" cy="615.7" rx="9.7" ry="3.4" fill="#ffff00" opacity="1" filter="url(#b2.5)" transform="rotate(-5 725.5 615.7)"/><ellipse cx="761.9" cy="612.9" rx="8.0" ry="7.0" fill="#00b4ff" opacity="1" filter="url(#b2.5)" transform="rotate(-5 761.9 612.9)"/><ellipse cx="761.9" cy="612.9" rx="5.8" ry="5.0" fill="#00ff80" opacity="1" filter="url(#b2.5)" transform="rotate(-5 761.9 612.9)"/><ellipse cx="761.9" cy="612.9" rx="4.1" ry="3.6" fill="#60ff00" opacity="1" filter="url(#b2.5)" transform="rotate(-5 761.9 612.9)"/><ellipse cx="793.5" cy="611.7" rx="18.0" ry="7.0" fill="#00b4ff" opacity="1" filter="url(#b2.5)" transform="rotate(-5 793.5 611.7)"/><ellipse cx="793.5" cy="611.7" rx="13.0" ry="5.0" fill="#00ff80" opacity="1" filter="url(#b2.5)" transform="rotate(-5 793.5 611.7)"/><ellipse cx="826.5" cy="605.9" rx="11.0" ry="8.0" fill="#00b4ff" opacity="1" filter="url(#b2.5)" transform="rotate(-5 826.5 605.9)"/><ellipse cx="826.5" cy="605.9" rx="7.9" ry="5.8" fill="#00ff80" opacity="1" filter="url(#b2.5)" transform="rotate(-5 826.5 605.9)"/><ellipse cx="826.5" cy="605.9" rx="5.7" ry="4.1" fill="#60ff00" opacity="1" filter="url(#b2.5)" transform="rotate(-5 826.5 605.9)"/><ellipse cx="826.5" cy="605.9" rx="4.1" ry="3.0" fill="#ffff00" opacity="1" filter="url(#b2.5)" transform="rotate(-5 826.5 605.9)"/><ellipse cx="853.5" cy="602.3" rx="8.0" ry="7.0" fill="#00b4ff" opacity="1" filter="url(#b2.5)" transform="rotate(-5 853.5 602.3)"/><ellipse cx="853.5" cy="602.3" rx="5.8" ry="5.0" fill="#00ff80" opacity="1" filter="url(#b2.5)" transform="rotate(-5 853.5 602.3)"/><ellipse cx="725.5" cy="615.2" rx="4.0" ry="3.0" fill="#ff9000" opacity="1" filter="url(#b1.5)"/><ellipse cx="826.5" cy="605.9" rx="4.0" ry="3.0" fill="#ffa000" opacity="1" filter="url(#b1.5)"/></g><line x1="603.5" y1="551.2" x2="839.5" y2="530.7" stroke="#fff" stroke-width="4.5" stroke-dasharray="15.5 15.5" stroke-dashoffset="0"/><line x1="603.5" y1="571.2" x2="839.5" y2="549.2" stroke="#fff" stroke-width="4.5" stroke-dasharray="15.5 15.5" stroke-dashoffset="0"/><line x1="603.5" y1="618.2" x2="839.5" y2="597.2" stroke="#fff" stroke-width="4.5" stroke-dasharray="15.5 15.5" stroke-dashoffset="0"/><line x1="603.5" y1="640.2" x2="839.5" y2="619.7" stroke="#fff" stroke-width="4.5" stroke-dasharray="15.5 15.5" stroke-dashoffset="0"/><rect x="788.5" y="425.2" width="54.5" height="3.8" fill="#fff" /><g clip-path="url(#cp38)"><ellipse cx="992.5" cy="567.7" rx="160.0" ry="40.0" fill="#3a30ff" opacity="0.3" filter="url(#b12)" transform="rotate(-5 992.5 567.7)"/><polygon points="862.5,617.7 927.5,613.7 987.5,603.7 1047.5,596.7 1123.5,589.7 1123.5,613.7 1047.5,620.7 987.5,629.7 927.5,639.7 862.5,643.7" fill="#1a30ff" stroke="#1a30ff" stroke-width="20.0" stroke-linejoin="round" opacity="0.9" filter="url(#b6)"/><polygon points="862.5,617.7 927.5,613.7 987.5,603.7 1047.5,596.7 1123.5,589.7 1123.5,613.7 1047.5,620.7 987.5,629.7 927.5,639.7 862.5,643.7" fill="#0a70ff" stroke="#0a70ff" stroke-width="8.0" stroke-linejoin="round" opacity="0.9" filter="url(#b4)"/><polygon points="887.9,617.6 939.9,614.2 987.9,605.9 1035.9,600.1 1096.7,594.2 1096.7,614.2 1035.9,620.1 987.9,627.6 939.9,635.9 887.9,639.2" fill="#00c0e0" opacity="0.9" filter="url(#b3)"/><polygon points="897.5,623.7 962.5,614.7 1017.5,607.7 1077.5,601.7 1077.5,611.7 1017.5,617.7 962.5,625.7 897.5,633.7" fill="#00e0a0" opacity="0.8" filter="url(#b3)"/><ellipse cx="883.9" cy="629.7" rx="10.0" ry="10.0" fill="#00b4ff" opacity="1" filter="url(#b2.5)" transform="rotate(-5 883.9 629.7)"/><ellipse cx="883.9" cy="629.7" rx="7.2" ry="7.2" fill="#00ff80" opacity="1" filter="url(#b2.5)" transform="rotate(-5 883.9 629.7)"/><ellipse cx="883.9" cy="629.7" rx="5.2" ry="5.2" fill="#60ff00" opacity="1" filter="url(#b2.5)" transform="rotate(-5 883.9 629.7)"/><ellipse cx="883.9" cy="629.7" rx="3.7" ry="3.7" fill="#ffff00" opacity="1" filter="url(#b2.5)" transform="rotate(-5 883.9 629.7)"/><ellipse cx="927.5" cy="624.7" rx="22.0" ry="7.0" fill="#00b4ff" opacity="1" filter="url(#b2.5)" transform="rotate(-5 927.5 624.7)"/><ellipse cx="927.5" cy="624.7" rx="15.8" ry="5.0" fill="#00ff80" opacity="1" filter="url(#b2.5)" transform="rotate(-5 927.5 624.7)"/><ellipse cx="989.5" cy="615.7" rx="26.0" ry="9.0" fill="#00b4ff" opacity="1" filter="url(#b2.5)" transform="rotate(-5 989.5 615.7)"/><ellipse cx="989.5" cy="615.7" rx="18.7" ry="6.5" fill="#00ff80" opacity="1" filter="url(#b2.5)" transform="rotate(-5 989.5 615.7)"/><ellipse cx="989.5" cy="615.7" rx="13.5" ry="4.7" fill="#60ff00" opacity="1" filter="url(#b2.5)" transform="rotate(-5 989.5 615.7)"/><ellipse cx="989.5" cy="615.7" rx="9.7" ry="3.4" fill="#ffff00" opacity="1" filter="url(#b2.5)" transform="rotate(-5 989.5 615.7)"/><ellipse cx="1025.9" cy="612.9" rx="8.0" ry="7.0" fill="#00b4ff" opacity="1" filter="url(#b2.5)" transform="rotate(-5 1025.9 612.9)"/><ellipse cx="1025.9" cy="612.9" rx="5.8" ry="5.0" fill="#00ff80" opacity="1" filter="url(#b2.5)" transform="rotate(-5 1025.9 612.9)"/><ellipse cx="1025.9" cy="612.9" rx="4.1" ry="3.6" fill="#60ff00" opacity="1" filter="url(#b2.5)" transform="rotate(-5 1025.9 612.9)"/><ellipse cx="1057.5" cy="611.7" rx="18.0" ry="7.0" fill="#00b4ff" opacity="1" filter="url(#b2.5)" transform="rotate(-5 1057.5 611.7)"/><ellipse cx="1057.5" cy="611.7" rx="13.0" ry="5.0" fill="#00ff80" opacity="1" filter="url(#b2.5)" transform="rotate(-5 1057.5 611.7)"/><ellipse cx="1090.5" cy="605.9" rx="11.0" ry="8.0" fill="#00b4ff" opacity="1" filter="url(#b2.5)" transform="rotate(-5 1090.5 605.9)"/><ellipse cx="1090.5" cy="605.9" rx="7.9" ry="5.8" fill="#00ff80" opacity="1" filter="url(#b2.5)" transform="rotate(-5 1090.5 605.9)"/><ellipse cx="1090.5" cy="605.9" rx="5.7" ry="4.1" fill="#60ff00" opacity="1" filter="url(#b2.5)" transform="rotate(-5 1090.5 605.9)"/><ellipse cx="1090.5" cy="605.9" rx="4.1" ry="3.0" fill="#ffff00" opacity="1" filter="url(#b2.5)" transform="rotate(-5 1090.5 605.9)"/><ellipse cx="1117.5" cy="602.3" rx="8.0" ry="7.0" fill="#00b4ff" opacity="1" filter="url(#b2.5)" transform="rotate(-5 1117.5 602.3)"/><ellipse cx="1117.5" cy="602.3" rx="5.8" ry="5.0" fill="#00ff80" opacity="1" filter="url(#b2.5)" transform="rotate(-5 1117.5 602.3)"/><ellipse cx="989.5" cy="615.2" rx="4.0" ry="3.0" fill="#ff9000" opacity="1" filter="url(#b1.5)"/><ellipse cx="1090.5" cy="605.9" rx="4.0" ry="3.0" fill="#ffa000" opacity="1" filter="url(#b1.5)"/></g><line x1="867.5" y1="551.2" x2="1103.5" y2="530.7" stroke="#fff" stroke-width="4.5" stroke-dasharray="15.5 15.5" stroke-dashoffset="0"/><line x1="867.5" y1="571.2" x2="1103.5" y2="549.2" stroke="#fff" stroke-width="4.5" stroke-dasharray="15.5 15.5" stroke-dashoffset="0"/><line x1="867.5" y1="618.2" x2="1103.5" y2="597.2" stroke="#fff" stroke-width="4.5" stroke-dasharray="15.5 15.5" stroke-dashoffset="0"/><line x1="867.5" y1="640.2" x2="1103.5" y2="619.7" stroke="#fff" stroke-width="4.5" stroke-dasharray="15.5 15.5" stroke-dashoffset="0"/><rect x="1052.5" y="425.2" width="54.5" height="3.8" fill="#fff" /><g clip-path="url(#cp39)"><ellipse cx="1256.5" cy="567.7" rx="160.0" ry="40.0" fill="#3a30ff" opacity="0.3" filter="url(#b12)" transform="rotate(-5 1256.5 567.7)"/><polygon points="1126.5,617.7 1191.5,613.7 1251.5,603.7 1311.5,596.7 1387.5,589.7 1387.5,613.7 1311.5,620.7 1251.5,629.7 1191.5,639.7 1126.5,643.7" fill="#1a30ff" stroke="#1a30ff" stroke-width="20.0" stroke-linejoin="round" opacity="0.9" filter="url(#b6)"/><polygon points="1126.5,617.7 1191.5,613.7 1251.5,603.7 1311.5,596.7 1387.5,589.7 1387.5,613.7 1311.5,620.7 1251.5,629.7 1191.5,639.7 1126.5,643.7" fill="#0a70ff" stroke="#0a70ff" stroke-width="8.0" stroke-linejoin="round" opacity="0.9" filter="url(#b4)"/><polygon points="1151.9,617.6 1203.9,614.2 1251.9,605.9 1299.9,600.1 1360.7,594.2 1360.7,614.2 1299.9,620.1 1251.9,627.6 1203.9,635.9 1151.9,639.2" fill="#00c0e0" opacity="0.9" filter="url(#b3)"/><polygon points="1161.5,623.7 1226.5,614.7 1281.5,607.7 1341.5,601.7 1341.5,611.7 1281.5,617.7 1226.5,625.7 1161.5,633.7" fill="#00e0a0" opacity="0.8" filter="url(#b3)"/><ellipse cx="1147.9" cy="629.7" rx="10.0" ry="10.0" fill="#00b4ff" opacity="1" filter="url(#b2.5)" transform="rotate(-5 1147.9 629.7)"/><ellipse cx="1147.9" cy="629.7" rx="7.2" ry="7.2" fill="#00ff80" opacity="1" filter="url(#b2.5)" transform="rotate(-5 1147.9 629.7)"/><ellipse cx="1147.9" cy="629.7" rx="5.2" ry="5.2" fill="#60ff00" opacity="1" filter="url(#b2.5)" transform="rotate(-5 1147.9 629.7)"/><ellipse cx="1147.9" cy="629.7" rx="3.7" ry="3.7" fill="#ffff00" opacity="1" filter="url(#b2.5)" transform="rotate(-5 1147.9 629.7)"/><ellipse cx="1191.5" cy="624.7" rx="22.0" ry="7.0" fill="#00b4ff" opacity="1" filter="url(#b2.5)" transform="rotate(-5 1191.5 624.7)"/><ellipse cx="1191.5" cy="624.7" rx="15.8" ry="5.0" fill="#00ff80" opacity="1" filter="url(#b2.5)" transform="rotate(-5 1191.5 624.7)"/><ellipse cx="1253.5" cy="615.7" rx="26.0" ry="9.0" fill="#00b4ff" opacity="1" filter="url(#b2.5)" transform="rotate(-5 1253.5 615.7)"/><ellipse cx="1253.5" cy="615.7" rx="18.7" ry="6.5" fill="#00ff80" opacity="1" filter="url(#b2.5)" transform="rotate(-5 1253.5 615.7)"/><ellipse cx="1253.5" cy="615.7" rx="13.5" ry="4.7" fill="#60ff00" opacity="1" filter="url(#b2.5)" transform="rotate(-5 1253.5 615.7)"/><ellipse cx="1253.5" cy="615.7" rx="9.7" ry="3.4" fill="#ffff00" opacity="1" filter="url(#b2.5)" transform="rotate(-5 1253.5 615.7)"/><ellipse cx="1289.9" cy="612.9" rx="8.0" ry="7.0" fill="#00b4ff" opacity="1" filter="url(#b2.5)" transform="rotate(-5 1289.9 612.9)"/><ellipse cx="1289.9" cy="612.9" rx="5.8" ry="5.0" fill="#00ff80" opacity="1" filter="url(#b2.5)" transform="rotate(-5 1289.9 612.9)"/><ellipse cx="1289.9" cy="612.9" rx="4.1" ry="3.6" fill="#60ff00" opacity="1" filter="url(#b2.5)" transform="rotate(-5 1289.9 612.9)"/><ellipse cx="1321.5" cy="611.7" rx="18.0" ry="7.0" fill="#00b4ff" opacity="1" filter="url(#b2.5)" transform="rotate(-5 1321.5 611.7)"/><ellipse cx="1321.5" cy="611.7" rx="13.0" ry="5.0" fill="#00ff80" opacity="1" filter="url(#b2.5)" transform="rotate(-5 1321.5 611.7)"/><ellipse cx="1354.5" cy="605.9" rx="11.0" ry="8.0" fill="#00b4ff" opacity="1" filter="url(#b2.5)" transform="rotate(-5 1354.5 605.9)"/><ellipse cx="1354.5" cy="605.9" rx="7.9" ry="5.8" fill="#00ff80" opacity="1" filter="url(#b2.5)" transform="rotate(-5 1354.5 605.9)"/><ellipse cx="1354.5" cy="605.9" rx="5.7" ry="4.1" fill="#60ff00" opacity="1" filter="url(#b2.5)" transform="rotate(-5 1354.5 605.9)"/><ellipse cx="1354.5" cy="605.9" rx="4.1" ry="3.0" fill="#ffff00" opacity="1" filter="url(#b2.5)" transform="rotate(-5 1354.5 605.9)"/><ellipse cx="1381.5" cy="602.3" rx="8.0" ry="7.0" fill="#00b4ff" opacity="1" filter="url(#b2.5)" transform="rotate(-5 1381.5 602.3)"/><ellipse cx="1381.5" cy="602.3" rx="5.8" ry="5.0" fill="#00ff80" opacity="1" filter="url(#b2.5)" transform="rotate(-5 1381.5 602.3)"/><ellipse cx="1253.5" cy="615.2" rx="4.0" ry="3.0" fill="#ff9000" opacity="1" filter="url(#b1.5)"/><ellipse cx="1354.5" cy="605.9" rx="4.0" ry="3.0" fill="#ffa000" opacity="1" filter="url(#b1.5)"/></g><line x1="1131.5" y1="551.2" x2="1367.5" y2="530.7" stroke="#fff" stroke-width="4.5" stroke-dasharray="15.5 15.5" stroke-dashoffset="0"/><line x1="1131.5" y1="571.2" x2="1367.5" y2="549.2" stroke="#fff" stroke-width="4.5" stroke-dasharray="15.5 15.5" stroke-dashoffset="0"/><line x1="1131.5" y1="618.2" x2="1367.5" y2="597.2" stroke="#fff" stroke-width="4.5" stroke-dasharray="15.5 15.5" stroke-dashoffset="0"/><line x1="1131.5" y1="640.2" x2="1367.5" y2="619.7" stroke="#fff" stroke-width="4.5" stroke-dasharray="15.5 15.5" stroke-dashoffset="0"/><rect x="1316.5" y="425.2" width="54.5" height="3.8" fill="#fff" /><g clip-path="url(#cp40)"><ellipse cx="1520.5" cy="567.7" rx="160.0" ry="40.0" fill="#3a30ff" opacity="0.3" filter="url(#b12)" transform="rotate(-5 1520.5 567.7)"/><polygon points="1390.5,617.7 1455.5,613.7 1515.5,603.7 1575.5,596.7 1651.5,589.7 1651.5,613.7 1575.5,620.7 1515.5,629.7 1455.5,639.7 1390.5,643.7" fill="#1a30ff" stroke="#1a30ff" stroke-width="20.0" stroke-linejoin="round" opacity="0.9" filter="url(#b6)"/><polygon points="1390.5,617.7 1455.5,613.7 1515.5,603.7 1575.5,596.7 1651.5,589.7 1651.5,613.7 1575.5,620.7 1515.5,629.7 1455.5,639.7 1390.5,643.7" fill="#0a70ff" stroke="#0a70ff" stroke-width="8.0" stroke-linejoin="round" opacity="0.9" filter="url(#b4)"/><polygon points="1415.9,617.6 1467.9,614.2 1515.9,605.9 1563.9,600.1 1624.7,594.2 1624.7,614.2 1563.9,620.1 1515.9,627.6 1467.9,635.9 1415.9,639.2" fill="#00c0e0" opacity="0.9" filter="url(#b3)"/><polygon points="1425.5,623.7 1490.5,614.7 1545.5,607.7 1605.5,601.7 1605.5,611.7 1545.5,617.7 1490.5,625.7 1425.5,633.7" fill="#00e0a0" opacity="0.8" filter="url(#b3)"/><ellipse cx="1411.9" cy="629.7" rx="10.0" ry="10.0" fill="#00b4ff" opacity="1" filter="url(#b2.5)" transform="rotate(-5 1411.9 629.7)"/><ellipse cx="1411.9" cy="629.7" rx="7.2" ry="7.2" fill="#00ff80" opacity="1" filter="url(#b2.5)" transform="rotate(-5 1411.9 629.7)"/><ellipse cx="1411.9" cy="629.7" rx="5.2" ry="5.2" fill="#60ff00" opacity="1" filter="url(#b2.5)" transform="rotate(-5 1411.9 629.7)"/><ellipse cx="1411.9" cy="629.7" rx="3.7" ry="3.7" fill="#ffff00" opacity="1" filter="url(#b2.5)" transform="rotate(-5 1411.9 629.7)"/><ellipse cx="1455.5" cy="624.7" rx="22.0" ry="7.0" fill="#00b4ff" opacity="1" filter="url(#b2.5)" transform="rotate(-5 1455.5 624.7)"/><ellipse cx="1455.5" cy="624.7" rx="15.8" ry="5.0" fill="#00ff80" opacity="1" filter="url(#b2.5)" transform="rotate(-5 1455.5 624.7)"/><ellipse cx="1517.5" cy="615.7" rx="26.0" ry="9.0" fill="#00b4ff" opacity="1" filter="url(#b2.5)" transform="rotate(-5 1517.5 615.7)"/><ellipse cx="1517.5" cy="615.7" rx="18.7" ry="6.5" fill="#00ff80" opacity="1" filter="url(#b2.5)" transform="rotate(-5 1517.5 615.7)"/><ellipse cx="1517.5" cy="615.7" rx="13.5" ry="4.7" fill="#60ff00" opacity="1" filter="url(#b2.5)" transform="rotate(-5 1517.5 615.7)"/><ellipse cx="1517.5" cy="615.7" rx="9.7" ry="3.4" fill="#ffff00" opacity="1" filter="url(#b2.5)" transform="rotate(-5 1517.5 615.7)"/><ellipse cx="1553.9" cy="612.9" rx="8.0" ry="7.0" fill="#00b4ff" opacity="1" filter="url(#b2.5)" transform="rotate(-5 1553.9 612.9)"/><ellipse cx="1553.9" cy="612.9" rx="5.8" ry="5.0" fill="#00ff80" opacity="1" filter="url(#b2.5)" transform="rotate(-5 1553.9 612.9)"/><ellipse cx="1553.9" cy="612.9" rx="4.1" ry="3.6" fill="#60ff00" opacity="1" filter="url(#b2.5)" transform="rotate(-5 1553.9 612.9)"/><ellipse cx="1585.5" cy="611.7" rx="18.0" ry="7.0" fill="#00b4ff" opacity="1" filter="url(#b2.5)" transform="rotate(-5 1585.5 611.7)"/><ellipse cx="1585.5" cy="611.7" rx="13.0" ry="5.0" fill="#00ff80" opacity="1" filter="url(#b2.5)" transform="rotate(-5 1585.5 611.7)"/><ellipse cx="1618.5" cy="605.9" rx="11.0" ry="8.0" fill="#00b4ff" opacity="1" filter="url(#b2.5)" transform="rotate(-5 1618.5 605.9)"/><ellipse cx="1618.5" cy="605.9" rx="7.9" ry="5.8" fill="#00ff80" opacity="1" filter="url(#b2.5)" transform="rotate(-5 1618.5 605.9)"/><ellipse cx="1618.5" cy="605.9" rx="5.7" ry="4.1" fill="#60ff00" opacity="1" filter="url(#b2.5)" transform="rotate(-5 1618.5 605.9)"/><ellipse cx="1618.5" cy="605.9" rx="4.1" ry="3.0" fill="#ffff00" opacity="1" filter="url(#b2.5)" transform="rotate(-5 1618.5 605.9)"/><ellipse cx="1645.5" cy="602.3" rx="8.0" ry="7.0" fill="#00b4ff" opacity="1" filter="url(#b2.5)" transform="rotate(-5 1645.5 602.3)"/><ellipse cx="1645.5" cy="602.3" rx="5.8" ry="5.0" fill="#00ff80" opacity="1" filter="url(#b2.5)" transform="rotate(-5 1645.5 602.3)"/><ellipse cx="1517.5" cy="615.2" rx="4.0" ry="3.0" fill="#ff9000" opacity="1" filter="url(#b1.5)"/><ellipse cx="1618.5" cy="605.9" rx="4.0" ry="3.0" fill="#ffa000" opacity="1" filter="url(#b1.5)"/></g><line x1="1395.5" y1="551.2" x2="1631.5" y2="530.7" stroke="#fff" stroke-width="4.5" stroke-dasharray="15.5 15.5" stroke-dashoffset="0"/><line x1="1395.5" y1="571.2" x2="1631.5" y2="549.2" stroke="#fff" stroke-width="4.5" stroke-dasharray="15.5 15.5" stroke-dashoffset="0"/><line x1="1395.5" y1="618.2" x2="1631.5" y2="597.2" stroke="#fff" stroke-width="4.5" stroke-dasharray="15.5 15.5" stroke-dashoffset="0"/><line x1="1395.5" y1="640.2" x2="1631.5" y2="619.7" stroke="#fff" stroke-width="4.5" stroke-dasharray="15.5 15.5" stroke-dashoffset="0"/><rect x="1580.5" y="425.2" width="54.5" height="3.8" fill="#fff" /><g clip-path="url(#cp41)"><ellipse cx="1784.5" cy="567.7" rx="160.0" ry="40.0" fill="#3a30ff" opacity="0.3" filter="url(#b12)" transform="rotate(-5 1784.5 567.7)"/><polygon points="1654.5,617.7 1719.5,613.7 1779.5,603.7 1839.5,596.7 1915.5,589.7 1915.5,613.7 1839.5,620.7 1779.5,629.7 1719.5,639.7 1654.5,643.7" fill="#1a30ff" stroke="#1a30ff" stroke-width="20.0" stroke-linejoin="round" opacity="0.9" filter="url(#b6)"/><polygon points="1654.5,617.7 1719.5,613.7 1779.5,603.7 1839.5,596.7 1915.5,589.7 1915.5,613.7 1839.5,620.7 1779.5,629.7 1719.5,639.7 1654.5,643.7" fill="#0a70ff" stroke="#0a70ff" stroke-width="8.0" stroke-linejoin="round" opacity="0.9" filter="url(#b4)"/><polygon points="1679.9,617.6 1731.9,614.2 1779.9,605.9 1827.9,600.1 1888.7,594.2 1888.7,614.2 1827.9,620.1 1779.9,627.6 1731.9,635.9 1679.9,639.2" fill="#00c0e0" opacity="0.9" filter="url(#b3)"/><polygon points="1689.5,623.7 1754.5,614.7 1809.5,607.7 1869.5,601.7 1869.5,611.7 1809.5,617.7 1754.5,625.7 1689.5,633.7" fill="#00e0a0" opacity="0.8" filter="url(#b3)"/><ellipse cx="1675.9" cy="629.7" rx="10.0" ry="10.0" fill="#00b4ff" opacity="1" filter="url(#b2.5)" transform="rotate(-5 1675.9 629.7)"/><ellipse cx="1675.9" cy="629.7" rx="7.2" ry="7.2" fill="#00ff80" opacity="1" filter="url(#b2.5)" transform="rotate(-5 1675.9 629.7)"/><ellipse cx="1675.9" cy="629.7" rx="5.2" ry="5.2" fill="#60ff00" opacity="1" filter="url(#b2.5)" transform="rotate(-5 1675.9 629.7)"/><ellipse cx="1675.9" cy="629.7" rx="3.7" ry="3.7" fill="#ffff00" opacity="1" filter="url(#b2.5)" transform="rotate(-5 1675.9 629.7)"/><ellipse cx="1719.5" cy="624.7" rx="22.0" ry="7.0" fill="#00b4ff" opacity="1" filter="url(#b2.5)" transform="rotate(-5 1719.5 624.7)"/><ellipse cx="1719.5" cy="624.7" rx="15.8" ry="5.0" fill="#00ff80" opacity="1" filter="url(#b2.5)" transform="rotate(-5 1719.5 624.7)"/><ellipse cx="1781.5" cy="615.7" rx="26.0" ry="9.0" fill="#00b4ff" opacity="1" filter="url(#b2.5)" transform="rotate(-5 1781.5 615.7)"/><ellipse cx="1781.5" cy="615.7" rx="18.7" ry="6.5" fill="#00ff80" opacity="1" filter="url(#b2.5)" transform="rotate(-5 1781.5 615.7)"/><ellipse cx="1781.5" cy="615.7" rx="13.5" ry="4.7" fill="#60ff00" opacity="1" filter="url(#b2.5)" transform="rotate(-5 1781.5 615.7)"/><ellipse cx="1781.5" cy="615.7" rx="9.7" ry="3.4" fill="#ffff00" opacity="1" filter="url(#b2.5)" transform="rotate(-5 1781.5 615.7)"/><ellipse cx="1817.9" cy="612.9" rx="8.0" ry="7.0" fill="#00b4ff" opacity="1" filter="url(#b2.5)" transform="rotate(-5 1817.9 612.9)"/><ellipse cx="1817.9" cy="612.9" rx="5.8" ry="5.0" fill="#00ff80" opacity="1" filter="url(#b2.5)" transform="rotate(-5 1817.9 612.9)"/><ellipse cx="1817.9" cy="612.9" rx="4.1" ry="3.6" fill="#60ff00" opacity="1" filter="url(#b2.5)" transform="rotate(-5 1817.9 612.9)"/><ellipse cx="1849.5" cy="611.7" rx="18.0" ry="7.0" fill="#00b4ff" opacity="1" filter="url(#b2.5)" transform="rotate(-5 1849.5 611.7)"/><ellipse cx="1849.5" cy="611.7" rx="13.0" ry="5.0" fill="#00ff80" opacity="1" filter="url(#b2.5)" transform="rotate(-5 1849.5 611.7)"/><ellipse cx="1882.5" cy="605.9" rx="11.0" ry="8.0" fill="#00b4ff" opacity="1" filter="url(#b2.5)" transform="rotate(-5 1882.5 605.9)"/><ellipse cx="1882.5" cy="605.9" rx="7.9" ry="5.8" fill="#00ff80" opacity="1" filter="url(#b2.5)" transform="rotate(-5 1882.5 605.9)"/><ellipse cx="1882.5" cy="605.9" rx="5.7" ry="4.1" fill="#60ff00" opacity="1" filter="url(#b2.5)" transform="rotate(-5 1882.5 605.9)"/><ellipse cx="1882.5" cy="605.9" rx="4.1" ry="3.0" fill="#ffff00" opacity="1" filter="url(#b2.5)" transform="rotate(-5 1882.5 605.9)"/><ellipse cx="1909.5" cy="602.3" rx="8.0" ry="7.0" fill="#00b4ff" opacity="1" filter="url(#b2.5)" transform="rotate(-5 1909.5 602.3)"/><ellipse cx="1909.5" cy="602.3" rx="5.8" ry="5.0" fill="#00ff80" opacity="1" filter="url(#b2.5)" transform="rotate(-5 1909.5 602.3)"/><ellipse cx="1781.5" cy="615.2" rx="4.0" ry="3.0" fill="#ff9000" opacity="1" filter="url(#b1.5)"/><ellipse cx="1882.5" cy="605.9" rx="4.0" ry="3.0" fill="#ffa000" opacity="1" filter="url(#b1.5)"/></g><line x1="1659.5" y1="551.2" x2="1895.5" y2="530.7" stroke="#fff" stroke-width="4.5" stroke-dasharray="15.5 15.5" stroke-dashoffset="0"/><line x1="1659.5" y1="571.2" x2="1895.5" y2="549.2" stroke="#fff" stroke-width="4.5" stroke-dasharray="15.5 15.5" stroke-dashoffset="0"/><line x1="1659.5" y1="618.2" x2="1895.5" y2="597.2" stroke="#fff" stroke-width="4.5" stroke-dasharray="15.5 15.5" stroke-dashoffset="0"/><line x1="1659.5" y1="640.2" x2="1895.5" y2="619.7" stroke="#fff" stroke-width="4.5" stroke-dasharray="15.5 15.5" stroke-dashoffset="0"/><rect x="1844.5" y="425.2" width="54.5" height="3.8" fill="#fff" /><rect x="611.0" y="424.2" width="42.5" height="25" rx="7.5" fill="#dcd5ea"/><text x="632.2" y="444.4" font-size="23.8" font-weight="bold" text-anchor="middle">0s</text><rect x="875.0" y="424.2" width="42.5" height="25" rx="7.5" fill="#dcd5ea"/><text x="896.2" y="444.4" font-size="23.8" font-weight="bold" text-anchor="middle">4s</text><rect x="1139.0" y="424.2" width="42.5" height="25" rx="7.5" fill="#dcd5ea"/><text x="1160.2" y="444.4" font-size="23.8" font-weight="bold" text-anchor="middle">8s</text><rect x="1403.0" y="424.2" width="44.0" height="25" rx="7.5" fill="#dcd5ea"/><text x="1425.0" y="444.4" font-size="23.8" font-weight="bold" text-anchor="middle">12s</text><rect x="1667.0" y="424.2" width="44.0" height="25" rx="7.5" fill="#dcd5ea"/><text x="1689.0" y="444.4" font-size="23.8" font-weight="bold" text-anchor="middle">17s</text><line x1="68.3" y1="552.5" x2="316.9" y2="530.3" stroke="#ffff00" stroke-width="5.5" stroke-dasharray="16 3.8" stroke-dashoffset="0"/><line x1="68.3" y1="573.0" x2="316.9" y2="548.4" stroke="#ffff00" stroke-width="5.5" stroke-dasharray="16 3.8" stroke-dashoffset="0"/><line x1="68.3" y1="618.6" x2="316.9" y2="596.7" stroke="#ffff00" stroke-width="5.5" stroke-dasharray="16 3.8" stroke-dashoffset="0"/><line x1="68.3" y1="640.4" x2="316.9" y2="619.0" stroke="#ffff00" stroke-width="5.5" stroke-dasharray="16 3.8" stroke-dashoffset="0"/><polygon points="67.1,484.7 141.0,484.7 135.0,466.3 176.5,489.5 135.0,512.7 141.0,494.3 67.1,494.3" fill="#ff0000" opacity="1"/><rect x="253.3" y="424.0" width="55.0" height="4.0" fill="#ffff00" /><g clip-path="url(#cp42)"><ellipse cx="380.0" cy="954.3" rx="12.0" ry="10.0" fill="#2a3cff" opacity="0.5" filter="url(#b5)"/></g><line x1="340.0" y1="859.7" x2="591.0" y2="942.3" stroke="#fff" stroke-width="5" stroke-dasharray="15.5 15.5" stroke-dashoffset="0"/><line x1="340.0" y1="882.6" x2="591.0" y2="965.4" stroke="#fff" stroke-width="5" stroke-dasharray="15.5 15.5" stroke-dashoffset="0"/><line x1="340.0" y1="948.6" x2="591.0" y2="1030.6" stroke="#fff" stroke-width="5" stroke-dasharray="15.5 15.5" stroke-dashoffset="0"/><line x1="340.0" y1="977.9" x2="591.0" y2="1060.3" stroke="#fff" stroke-width="5" stroke-dasharray="15.5 15.5" stroke-dashoffset="0"/><rect x="525.0" y="793.3" width="54.5" height="3.9" fill="#fff" /><g clip-path="url(#cp43)"><polygon points="635.0,965.6 650.0,968.8 669.6,975.0 689.1,982.8 705.5,990.6 721.7,996.9 728.2,1004.7 725.7,1011.7 708.6,1009.4 689.1,1007.8 669.6,1003.9 656.5,1000.0 653.3,989.1 635.7,982.8" fill="#1830ff" stroke="#1830ff" stroke-width="14.0" stroke-linejoin="round" opacity="0.9" filter="url(#b4)"/><polygon points="635.0,965.6 650.0,968.8 669.6,975.0 689.1,982.8 705.5,990.6 721.7,996.9 728.2,1004.7 725.7,1011.7 708.6,1009.4 689.1,1007.8 669.6,1003.9 656.5,1000.0 653.3,989.1 635.7,982.8" fill="#00b8ff" stroke="#00b8ff" stroke-width="7.0" stroke-linejoin="round" opacity="1" filter="url(#b2)"/><polygon points="635.0,965.6 650.0,968.8 669.6,975.0 689.1,982.8 705.5,990.6 721.7,996.9 728.2,1004.7 725.7,1011.7 708.6,1009.4 689.1,1007.8 669.6,1003.9 656.5,1000.0 653.3,989.1 635.7,982.8" fill="#20ff50" stroke="#20ff50" stroke-width="2.0" stroke-linejoin="round" opacity="1" filter="url(#b2)"/><ellipse cx="643.0" cy="974.3" rx="10.0" ry="9.0" fill="#c0ff20" opacity="1" filter="url(#b3)"/><polygon points="650.0,973.4 669.6,977.3 685.8,986.7 702.2,992.2 718.5,998.4 725.0,1007.0 708.6,1007.8 685.8,1004.7 653.3,985.2" fill="#ffe000" opacity="0.9" filter="url(#b2)"/><ellipse cx="676.7" cy="989.3" rx="17.0" ry="11.0" fill="#ff5a00" opacity="1" filter="url(#b3)" transform="rotate(30 676.7 989.3)"/><ellipse cx="678.4" cy="991.3" rx="9.0" ry="6.0" fill="#ffffff" opacity="0.85" filter="url(#b2)" transform="rotate(30 678.4 991.3)"/></g><line x1="603.5" y1="859.7" x2="854.5" y2="942.3" stroke="#fff" stroke-width="5" stroke-dasharray="15.5 15.5" stroke-dashoffset="0"/><line x1="603.5" y1="882.6" x2="854.5" y2="965.4" stroke="#fff" stroke-width="5" stroke-dasharray="15.5 15.5" stroke-dashoffset="0"/><line x1="603.5" y1="948.6" x2="854.5" y2="1030.6" stroke="#fff" stroke-width="5" stroke-dasharray="15.5 15.5" stroke-dashoffset="0"/><line x1="603.5" y1="977.9" x2="854.5" y2="1060.3" stroke="#fff" stroke-width="5" stroke-dasharray="15.5 15.5" stroke-dashoffset="0"/><rect x="788.5" y="793.3" width="54.5" height="3.9" fill="#fff" /><g clip-path="url(#cp44)"><ellipse cx="1008.5" cy="880.3" rx="16.0" ry="38.0" fill="#1e50ff" opacity="0.8" filter="url(#b6)" transform="rotate(-35 1008.5 880.3)"/><ellipse cx="1009.5" cy="884.3" rx="10.0" ry="22.0" fill="#10a0ff" opacity="0.7" filter="url(#b6)" transform="rotate(-35 1009.5 884.3)"/><polygon points="898.5,965.6 916.0,968.8 938.8,975.0 961.6,982.8 980.6,990.6 999.6,996.9 1007.2,1004.7 1004.2,1011.7 984.3,1009.4 961.6,1007.8 938.8,1003.9 923.6,1000.0 919.8,989.1 899.3,982.8" fill="#1830ff" stroke="#1830ff" stroke-width="14.0" stroke-linejoin="round" opacity="0.9" filter="url(#b4)"/><polygon points="898.5,965.6 916.0,968.8 938.8,975.0 961.6,982.8 980.6,990.6 999.6,996.9 1007.2,1004.7 1004.2,1011.7 984.3,1009.4 961.6,1007.8 938.8,1003.9 923.6,1000.0 919.8,989.1 899.3,982.8" fill="#00b8ff" stroke="#00b8ff" stroke-width="7.0" stroke-linejoin="round" opacity="1" filter="url(#b2)"/><polygon points="898.5,965.6 916.0,968.8 938.8,975.0 961.6,982.8 980.6,990.6 999.6,996.9 1007.2,1004.7 1004.2,1011.7 984.3,1009.4 961.6,1007.8 938.8,1003.9 923.6,1000.0 919.8,989.1 899.3,982.8" fill="#20ff50" stroke="#20ff50" stroke-width="2.0" stroke-linejoin="round" opacity="1" filter="url(#b2)"/><ellipse cx="906.5" cy="974.3" rx="10.0" ry="9.0" fill="#c0ff20" opacity="1" filter="url(#b3)"/><polygon points="916.0,973.4 938.8,977.3 957.8,986.7 976.8,992.2 995.8,998.4 1003.4,1007.0 984.3,1007.8 957.8,1004.7 919.8,985.2" fill="#ffe000" opacity="0.9" filter="url(#b2)"/><ellipse cx="947.2" cy="989.3" rx="17.0" ry="11.0" fill="#ff5a00" opacity="1" filter="url(#b3)" transform="rotate(30 947.2 989.3)"/><ellipse cx="949.1" cy="991.3" rx="9.0" ry="6.0" fill="#ffffff" opacity="0.85" filter="url(#b2)" transform="rotate(30 949.1 991.3)"/></g><line x1="867.5" y1="859.7" x2="1118.5" y2="942.3" stroke="#fff" stroke-width="5" stroke-dasharray="15.5 15.5" stroke-dashoffset="0"/><line x1="867.5" y1="882.6" x2="1118.5" y2="965.4" stroke="#fff" stroke-width="5" stroke-dasharray="15.5 15.5" stroke-dashoffset="0"/><line x1="867.5" y1="948.6" x2="1118.5" y2="1030.6" stroke="#fff" stroke-width="5" stroke-dasharray="15.5 15.5" stroke-dashoffset="0"/><line x1="867.5" y1="977.9" x2="1118.5" y2="1060.3" stroke="#fff" stroke-width="5" stroke-dasharray="15.5 15.5" stroke-dashoffset="0"/><rect x="1052.5" y="793.3" width="54.5" height="3.9" fill="#fff" /><g clip-path="url(#cp45)"><ellipse cx="1269.5" cy="879.3" rx="35.0" ry="27.0" fill="#1e50ff" opacity="0.9" filter="url(#b6)" transform="rotate(-30 1269.5 879.3)"/><ellipse cx="1269.5" cy="880.3" rx="24.0" ry="18.0" fill="#00c0d0" opacity="0.9" filter="url(#b6)" transform="rotate(-30 1269.5 880.3)"/><ellipse cx="1267.5" cy="879.3" rx="12.0" ry="9.0" fill="#40e870" opacity="1" filter="url(#b5)"/><polygon points="1161.5,965.6 1179.7,968.8 1203.3,975.0 1226.9,982.8 1246.7,990.6 1266.3,996.9 1274.2,1004.7 1271.1,1011.7 1250.5,1009.4 1226.9,1007.8 1203.3,1003.9 1187.5,1000.0 1183.6,989.1 1162.3,982.8" fill="#1830ff" stroke="#1830ff" stroke-width="14.0" stroke-linejoin="round" opacity="0.9" filter="url(#b4)"/><polygon points="1161.5,965.6 1179.7,968.8 1203.3,975.0 1226.9,982.8 1246.7,990.6 1266.3,996.9 1274.2,1004.7 1271.1,1011.7 1250.5,1009.4 1226.9,1007.8 1203.3,1003.9 1187.5,1000.0 1183.6,989.1 1162.3,982.8" fill="#00b8ff" stroke="#00b8ff" stroke-width="7.0" stroke-linejoin="round" opacity="1" filter="url(#b2)"/><polygon points="1161.5,965.6 1179.7,968.8 1203.3,975.0 1226.9,982.8 1246.7,990.6 1266.3,996.9 1274.2,1004.7 1271.1,1011.7 1250.5,1009.4 1226.9,1007.8 1203.3,1003.9 1187.5,1000.0 1183.6,989.1 1162.3,982.8" fill="#20ff50" stroke="#20ff50" stroke-width="2.0" stroke-linejoin="round" opacity="1" filter="url(#b2)"/><ellipse cx="1169.5" cy="974.3" rx="10.0" ry="9.0" fill="#c0ff20" opacity="1" filter="url(#b3)"/><polygon points="1179.7,973.4 1203.3,977.3 1222.9,986.7 1242.7,992.2 1262.4,998.4 1270.3,1007.0 1250.5,1007.8 1222.9,1004.7 1203.3,1001.6 1191.5,996.9 1183.6,985.2" fill="#ffe000" stroke="#ffe000" stroke-width="4.0" stroke-linejoin="round" opacity="1" filter="url(#b2)"/><polygon points="1179.7,973.4 1203.3,977.3 1222.9,986.7 1242.7,992.2 1262.4,998.4 1270.3,1007.0 1250.5,1007.8 1222.9,1004.7 1203.3,1001.6 1191.5,996.9 1183.6,985.2" fill="#ff6a00" opacity="1" filter="url(#b2)"/><ellipse cx="1209.5" cy="991.4" rx="12.0" ry="7.0" fill="#ffffff" opacity="0.9" filter="url(#b2)" transform="rotate(32 1209.5 991.4)"/><ellipse cx="1242.7" cy="1000.0" rx="5.0" ry="4.5" fill="#ffffff" opacity="0.8" filter="url(#b2)"/></g><line x1="1131.5" y1="859.7" x2="1382.5" y2="942.3" stroke="#fff" stroke-width="5" stroke-dasharray="15.5 15.5" stroke-dashoffset="0"/><line x1="1131.5" y1="882.6" x2="1382.5" y2="965.4" stroke="#fff" stroke-width="5" stroke-dasharray="15.5 15.5" stroke-dashoffset="0"/><line x1="1131.5" y1="948.6" x2="1382.5" y2="1030.6" stroke="#fff" stroke-width="5" stroke-dasharray="15.5 15.5" stroke-dashoffset="0"/><line x1="1131.5" y1="977.9" x2="1382.5" y2="1060.3" stroke="#fff" stroke-width="5" stroke-dasharray="15.5 15.5" stroke-dashoffset="0"/><rect x="1316.5" y="793.3" width="54.5" height="3.9" fill="#fff" /><g clip-path="url(#cp46)"><ellipse cx="1542.5" cy="889.3" rx="55.0" ry="40.0" fill="#2448ff" opacity="0.6" filter="url(#b12)" transform="rotate(-30 1542.5 889.3)"/><ellipse cx="1523.5" cy="872.3" rx="26.0" ry="16.0" fill="#1a80ff" opacity="0.55" filter="url(#b10)" transform="rotate(-30 1523.5 872.3)"/><polygon points="1425.5,965.6 1443.7,968.8 1467.3,975.0 1490.9,982.8 1510.7,990.6 1530.3,996.9 1538.2,1004.7 1535.1,1011.7 1514.5,1009.4 1490.9,1007.8 1467.3,1003.9 1451.5,1000.0 1447.6,989.1 1426.3,982.8" fill="#1830ff" stroke="#1830ff" stroke-width="14.0" stroke-linejoin="round" opacity="0.9" filter="url(#b4)"/><polygon points="1425.5,965.6 1443.7,968.8 1467.3,975.0 1490.9,982.8 1510.7,990.6 1530.3,996.9 1538.2,1004.7 1535.1,1011.7 1514.5,1009.4 1490.9,1007.8 1467.3,1003.9 1451.5,1000.0 1447.6,989.1 1426.3,982.8" fill="#00b8ff" stroke="#00b8ff" stroke-width="7.0" stroke-linejoin="round" opacity="1" filter="url(#b2)"/><polygon points="1425.5,965.6 1443.7,968.8 1467.3,975.0 1490.9,982.8 1510.7,990.6 1530.3,996.9 1538.2,1004.7 1535.1,1011.7 1514.5,1009.4 1490.9,1007.8 1467.3,1003.9 1451.5,1000.0 1447.6,989.1 1426.3,982.8" fill="#20ff50" stroke="#20ff50" stroke-width="2.0" stroke-linejoin="round" opacity="1" filter="url(#b2)"/><ellipse cx="1433.5" cy="974.3" rx="10.0" ry="9.0" fill="#c0ff20" opacity="1" filter="url(#b3)"/><polygon points="1443.7,973.4 1467.3,977.3 1486.9,986.7 1506.7,992.2 1526.4,998.4 1534.3,1007.0 1514.5,1007.8 1486.9,1004.7 1467.3,1001.6 1455.5,996.9 1447.6,985.2" fill="#ffe000" stroke="#ffe000" stroke-width="4.0" stroke-linejoin="round" opacity="1" filter="url(#b2)"/><polygon points="1443.7,973.4 1467.3,977.3 1486.9,986.7 1506.7,992.2 1526.4,998.4 1534.3,1007.0 1514.5,1007.8 1486.9,1004.7 1467.3,1001.6 1455.5,996.9 1447.6,985.2" fill="#ff6a00" opacity="1" filter="url(#b2)"/><ellipse cx="1473.5" cy="991.4" rx="13.2" ry="7.7" fill="#ffffff" opacity="0.9" filter="url(#b2)" transform="rotate(32 1473.5 991.4)"/><ellipse cx="1506.7" cy="1000.0" rx="5.5" ry="5.0" fill="#ffffff" opacity="0.8" filter="url(#b2)"/></g><line x1="1395.5" y1="859.7" x2="1646.5" y2="942.3" stroke="#fff" stroke-width="5" stroke-dasharray="15.5 15.5" stroke-dashoffset="0"/><line x1="1395.5" y1="882.6" x2="1646.5" y2="965.4" stroke="#fff" stroke-width="5" stroke-dasharray="15.5 15.5" stroke-dashoffset="0"/><line x1="1395.5" y1="948.6" x2="1646.5" y2="1030.6" stroke="#fff" stroke-width="5" stroke-dasharray="15.5 15.5" stroke-dashoffset="0"/><line x1="1395.5" y1="977.9" x2="1646.5" y2="1060.3" stroke="#fff" stroke-width="5" stroke-dasharray="15.5 15.5" stroke-dashoffset="0"/><rect x="1580.5" y="793.3" width="54.5" height="3.9" fill="#fff" /><g clip-path="url(#cp47)"><ellipse cx="1819.5" cy="891.3" rx="72.0" ry="42.0" fill="#2448ff" opacity="0.7" filter="url(#b8)" transform="rotate(-25 1819.5 891.3)"/><ellipse cx="1799.5" cy="879.3" rx="30.0" ry="18.0" fill="#1a70ff" opacity="0.6" filter="url(#b8)" transform="rotate(-25 1799.5 879.3)"/><ellipse cx="1867.5" cy="914.3" rx="18.0" ry="12.0" fill="#1a70ff" opacity="0.6" filter="url(#b6)" transform="rotate(-25 1867.5 914.3)"/><polygon points="1689.5,965.6 1707.7,968.8 1731.3,975.0 1754.9,982.8 1774.7,990.6 1794.3,996.9 1802.2,1004.7 1799.1,1011.7 1778.5,1009.4 1754.9,1007.8 1731.3,1003.9 1715.5,1000.0 1711.6,989.1 1690.3,982.8" fill="#1830ff" stroke="#1830ff" stroke-width="14.0" stroke-linejoin="round" opacity="0.9" filter="url(#b4)"/><polygon points="1689.5,965.6 1707.7,968.8 1731.3,975.0 1754.9,982.8 1774.7,990.6 1794.3,996.9 1802.2,1004.7 1799.1,1011.7 1778.5,1009.4 1754.9,1007.8 1731.3,1003.9 1715.5,1000.0 1711.6,989.1 1690.3,982.8" fill="#00b8ff" stroke="#00b8ff" stroke-width="7.0" stroke-linejoin="round" opacity="1" filter="url(#b2)"/><polygon points="1689.5,965.6 1707.7,968.8 1731.3,975.0 1754.9,982.8 1774.7,990.6 1794.3,996.9 1802.2,1004.7 1799.1,1011.7 1778.5,1009.4 1754.9,1007.8 1731.3,1003.9 1715.5,1000.0 1711.6,989.1 1690.3,982.8" fill="#20ff50" stroke="#20ff50" stroke-width="2.0" stroke-linejoin="round" opacity="1" filter="url(#b2)"/><ellipse cx="1697.5" cy="974.3" rx="10.0" ry="9.0" fill="#c0ff20" opacity="1" filter="url(#b3)"/><polygon points="1707.7,973.4 1731.3,977.3 1750.9,986.7 1770.7,992.2 1790.4,998.4 1798.3,1007.0 1778.5,1007.8 1750.9,1004.7 1731.3,1001.6 1719.5,996.9 1711.6,985.2" fill="#ffe000" stroke="#ffe000" stroke-width="4.0" stroke-linejoin="round" opacity="1" filter="url(#b2)"/><polygon points="1707.7,973.4 1731.3,977.3 1750.9,986.7 1770.7,992.2 1790.4,998.4 1798.3,1007.0 1778.5,1007.8 1750.9,1004.7 1731.3,1001.6 1719.5,996.9 1711.6,985.2" fill="#ff6a00" opacity="1" filter="url(#b2)"/><ellipse cx="1737.5" cy="991.4" rx="13.8" ry="8.0" fill="#ffffff" opacity="0.9" filter="url(#b2)" transform="rotate(32 1737.5 991.4)"/><ellipse cx="1770.7" cy="1000.0" rx="5.8" ry="5.2" fill="#ffffff" opacity="0.8" filter="url(#b2)"/><ellipse cx="1846.5" cy="1018.3" rx="8.0" ry="7.0" fill="#20d070" opacity="1" filter="url(#b3)"/><ellipse cx="1846.5" cy="1018.3" rx="4.0" ry="3.0" fill="#60ff40" opacity="1" filter="url(#b2)"/></g><line x1="1659.5" y1="859.7" x2="1910.5" y2="942.3" stroke="#fff" stroke-width="5" stroke-dasharray="15.5 15.5" stroke-dashoffset="0"/><line x1="1659.5" y1="882.6" x2="1910.5" y2="965.4" stroke="#fff" stroke-width="5" stroke-dasharray="15.5 15.5" stroke-dashoffset="0"/><line x1="1659.5" y1="948.6" x2="1910.5" y2="1030.6" stroke="#fff" stroke-width="5" stroke-dasharray="15.5 15.5" stroke-dashoffset="0"/><line x1="1659.5" y1="977.9" x2="1910.5" y2="1060.3" stroke="#fff" stroke-width="5" stroke-dasharray="15.5 15.5" stroke-dashoffset="0"/><rect x="1844.5" y="793.3" width="54.5" height="3.9" fill="#fff" /><rect x="612.5" y="791.1" width="42.5" height="25.4" rx="7.5" fill="#dcd5ea"/><text x="633.8" y="811.7" font-size="23.8" font-weight="bold" text-anchor="middle">0s</text><rect x="876.5" y="791.1" width="42.5" height="25.4" rx="7.5" fill="#dcd5ea"/><text x="897.8" y="811.7" font-size="23.8" font-weight="bold" text-anchor="middle">5s</text><rect x="1140.5" y="791.1" width="42.5" height="25.4" rx="7.5" fill="#dcd5ea"/><text x="1161.8" y="811.7" font-size="23.8" font-weight="bold" text-anchor="middle">9s</text><rect x="1404.5" y="791.1" width="44.0" height="25.4" rx="7.5" fill="#dcd5ea"/><text x="1426.5" y="811.7" font-size="23.8" font-weight="bold" text-anchor="middle">14s</text><rect x="1668.5" y="791.1" width="44.0" height="25.4" rx="7.5" fill="#dcd5ea"/><text x="1690.5" y="811.7" font-size="23.8" font-weight="bold" text-anchor="middle">18s</text><line x1="1792.0" y1="860.0" x2="1847.2" y2="882.9" stroke="#fff" stroke-width="4"/><polygon points="1862.0,889.0 1844.2,890.3 1850.3,875.5" fill="#fff" opacity="1"/><text x="1799" y="849.3" font-size="25.5" font-weight="normal" font-style="normal" fill="#fff" text-anchor="start" stroke="#fff" stroke-width="0.7">4 μm/s</text><line x1="67.2" y1="859.2" x2="318.4" y2="942.0" stroke="#ffff00" stroke-width="5.5" stroke-dasharray="16 3.8" stroke-dashoffset="0"/><line x1="67.2" y1="882.7" x2="318.4" y2="966.6" stroke="#ffff00" stroke-width="5.5" stroke-dasharray="16 3.8" stroke-dashoffset="0"/><line x1="67.2" y1="948.3" x2="318.4" y2="1030.3" stroke="#ffff00" stroke-width="5.5" stroke-dasharray="16 3.8" stroke-dashoffset="0"/><line x1="67.2" y1="984.2" x2="230.5" y2="1035.0" stroke="#ffff00" stroke-width="5.5" stroke-dasharray="16 3.8" stroke-dashoffset="0"/><polygon points="67.2,973.7 109.0,973.7 103.5,955.5 145.3,978.5 103.5,1001.5 109.0,983.3 67.2,983.3" fill="#ff0000" opacity="1"/><rect x="253.1" y="793.6" width="54.3" height="4.0" fill="#ffff00" /><text x="272.5" y="823.3" font-size="25.5" font-weight="normal" font-style="normal" fill="#ffff00" text-anchor="middle" stroke="#ffff00" stroke-width="0.8">30 μm</text><g clip-path="url(#cp48)"></g><line x1="340.1" y1="1177.3" x2="591.1" y2="1128.3" stroke="#fff" stroke-width="4.5" stroke-dasharray="15.5 15.5" stroke-dashoffset="0"/><line x1="340.1" y1="1199.9" x2="591.1" y2="1151.5" stroke="#fff" stroke-width="4.5" stroke-dasharray="15.5 15.5" stroke-dashoffset="0"/><line x1="340.1" y1="1277.9" x2="591.1" y2="1236.0" stroke="#fff" stroke-width="4.5" stroke-dasharray="15.5 15.5" stroke-dashoffset="0"/><line x1="340.1" y1="1305.3" x2="591.1" y2="1263.9" stroke="#fff" stroke-width="4.5" stroke-dasharray="15.5 15.5" stroke-dashoffset="0"/><rect x="531.1" y="1367.9" width="48.0" height="3.7" fill="#fff" /><g clip-path="url(#cp49)"><ellipse cx="728.8" cy="1269.0" rx="150.0" ry="35.0" fill="#2a40ff" opacity="0.45" filter="url(#b8)" transform="rotate(-10 728.8 1269.0)"/><ellipse cx="723.8" cy="1269.0" rx="130.0" ry="16.0" fill="#00a8ff" opacity="0.6" filter="url(#b5)" transform="rotate(-10 723.8 1269.0)"/><ellipse cx="606.8" cy="1284.4" rx="14.0" ry="12.0" fill="#00b4ff" opacity="1" filter="url(#b3)"/><ellipse cx="606.8" cy="1284.4" rx="10.1" ry="8.6" fill="#00ff80" opacity="1" filter="url(#b3)"/><ellipse cx="660.3" cy="1274.3" rx="22.0" ry="14.0" fill="#00b4ff" opacity="1" filter="url(#b3)"/><ellipse cx="660.3" cy="1274.3" rx="15.8" ry="10.1" fill="#00ff80" opacity="1" filter="url(#b3)"/><ellipse cx="660.3" cy="1274.3" rx="11.4" ry="7.3" fill="#60ff00" opacity="1" filter="url(#b3)"/><ellipse cx="660.3" cy="1274.3" rx="8.2" ry="5.2" fill="#ffff00" opacity="1" filter="url(#b3)"/><ellipse cx="660.3" cy="1274.3" rx="5.9" ry="3.8" fill="#ff9000" opacity="1" filter="url(#b3)"/><ellipse cx="724.0" cy="1272.7" rx="14.0" ry="10.0" fill="#00b4ff" opacity="1" filter="url(#b3)"/><ellipse cx="724.0" cy="1272.7" rx="10.1" ry="7.2" fill="#00ff80" opacity="1" filter="url(#b3)"/><ellipse cx="760.8" cy="1264.3" rx="18.0" ry="12.0" fill="#00b4ff" opacity="1" filter="url(#b3)"/><ellipse cx="760.8" cy="1264.3" rx="13.0" ry="8.6" fill="#00ff80" opacity="1" filter="url(#b3)"/><ellipse cx="807.6" cy="1257.6" rx="15.0" ry="10.0" fill="#00b4ff" opacity="1" filter="url(#b3)"/><ellipse cx="807.6" cy="1257.6" rx="10.8" ry="7.2" fill="#00ff80" opacity="1" filter="url(#b3)"/><ellipse cx="830.8" cy="1254.3" rx="8.0" ry="7.0" fill="#000" opacity="1" filter="url(#b2)"/></g><line x1="603.8" y1="1177.3" x2="854.8" y2="1128.3" stroke="#fff" stroke-width="4.5" stroke-dasharray="15.5 15.5" stroke-dashoffset="0"/><line x1="603.8" y1="1199.9" x2="854.8" y2="1151.5" stroke="#fff" stroke-width="4.5" stroke-dasharray="15.5 15.5" stroke-dashoffset="0"/><line x1="603.8" y1="1277.9" x2="854.8" y2="1236.0" stroke="#fff" stroke-width="4.5" stroke-dasharray="15.5 15.5" stroke-dashoffset="0"/><line x1="603.8" y1="1305.3" x2="854.8" y2="1263.9" stroke="#fff" stroke-width="4.5" stroke-dasharray="15.5 15.5" stroke-dashoffset="0"/><rect x="794.8" y="1367.9" width="48.0" height="3.7" fill="#fff" /><g clip-path="url(#cp50)"><ellipse cx="942.9" cy="1184.0" rx="40.0" ry="55.0" fill="#2a60ff" opacity="0.55" filter="url(#b12)"/><ellipse cx="942.9" cy="1199.0" rx="25.0" ry="30.0" fill="#10a0ff" opacity="0.35" filter="url(#b12)"/><ellipse cx="917.9" cy="1257.0" rx="62.0" ry="44.0" fill="#2a40ff" opacity="0.85" filter="url(#b8)"/><ellipse cx="915.9" cy="1257.0" rx="52.0" ry="36.0" fill="#00b0ff" opacity="0.85" filter="url(#b6)"/><ellipse cx="912.9" cy="1259.0" rx="44.0" ry="30.0" fill="#10e080" opacity="0.9" filter="url(#b5)"/><ellipse cx="917.9" cy="1267.0" rx="36.0" ry="18.0" fill="#60ff30" opacity="0.8" filter="url(#b4)"/><ellipse cx="950.5" cy="1274.0" rx="10.0" ry="8.0" fill="#e8ff00" opacity="1" filter="url(#b3)"/><ellipse cx="907.9" cy="1278.5" rx="8.0" ry="6.0" fill="#ffd000" opacity="1" filter="url(#b2)"/><ellipse cx="907.9" cy="1278.5" rx="4.5" ry="3.5" fill="#ff2000" opacity="1" filter="url(#b1.5)"/><ellipse cx="1007.9" cy="1264.0" rx="40.0" ry="18.0" fill="#1a70ff" opacity="0.6" filter="url(#b6)" transform="rotate(-10 1007.9 1264.0)"/><ellipse cx="1081.9" cy="1258.0" rx="24.0" ry="12.0" fill="#10b0c0" opacity="0.9" filter="url(#b4)" transform="rotate(-10 1081.9 1258.0)"/><ellipse cx="1081.9" cy="1258.0" rx="16.0" ry="7.0" fill="#30f070" opacity="0.9" filter="url(#b3)" transform="rotate(-10 1081.9 1258.0)"/></g><line x1="867.9" y1="1177.3" x2="1118.9" y2="1128.3" stroke="#fff" stroke-width="4.5" stroke-dasharray="15.5 15.5" stroke-dashoffset="0"/><line x1="867.9" y1="1199.9" x2="1118.9" y2="1151.5" stroke="#fff" stroke-width="4.5" stroke-dasharray="15.5 15.5" stroke-dashoffset="0"/><line x1="867.9" y1="1277.9" x2="1118.9" y2="1236.0" stroke="#fff" stroke-width="4.5" stroke-dasharray="15.5 15.5" stroke-dashoffset="0"/><line x1="867.9" y1="1305.3" x2="1118.9" y2="1263.9" stroke="#fff" stroke-width="4.5" stroke-dasharray="15.5 15.5" stroke-dashoffset="0"/><rect x="1058.9" y="1367.9" width="48.0" height="3.7" fill="#fff" /><rect x="348.1" y="1348.3" width="60.0" height="24.1" rx="7.5" fill="#dcd5ea"/><text x="378.1" y="1367.8" font-size="23.8" font-weight="bold" text-anchor="middle">650s</text><rect x="611.8" y="1348.3" width="60.0" height="24.1" rx="7.5" fill="#dcd5ea"/><text x="641.8" y="1367.8" font-size="23.8" font-weight="bold" text-anchor="middle">700s</text><rect x="875.9" y="1348.3" width="60.0" height="24.1" rx="7.5" fill="#dcd5ea"/><text x="905.9" y="1367.8" font-size="23.8" font-weight="bold" text-anchor="middle">750s</text><polygon points="941.6,1226.8 961.7,1170.6 987.8,1187.3" fill="#fff" opacity="1"/><polygon points="964.3,1263.6 985.1,1207.4 1010.9,1224.1" fill="#999" opacity="1"/><line x1="64.8" y1="1174.8" x2="315.6" y2="1126.7" stroke="#ffff00" stroke-width="5.5" stroke-dasharray="16 3.8" stroke-dashoffset="0"/><line x1="64.8" y1="1196.3" x2="315.6" y2="1149.4" stroke="#ffff00" stroke-width="5.5" stroke-dasharray="16 3.8" stroke-dashoffset="0"/><line x1="64.8" y1="1274.4" x2="315.6" y2="1235.3" stroke="#ffff00" stroke-width="5.5" stroke-dasharray="16 3.8" stroke-dashoffset="0"/><line x1="64.8" y1="1304.8" x2="315.6" y2="1262.7" stroke="#ffff00" stroke-width="5.5" stroke-dasharray="16 3.8" stroke-dashoffset="0"/><polygon points="61.8,1241.1 103.6,1264.4 61.8,1287.5 67.9,1269.2 62.9,1269.2 62.9,1259.3 67.9,1259.3" fill="#ff0000" opacity="1"/><rect x="255.9" y="1364.2" width="48.0" height="4.0" fill="#ffff00" /><text x="270.5" y="1356.4" font-size="25.5" font-weight="normal" font-style="normal" fill="#ffff00" text-anchor="middle" stroke="#ffff00" stroke-width="0.8">20 μm</text><g clip-path="url(#cp51)"></g><line x1="340.1" y1="1587.3" x2="588.1" y2="1616.7" stroke="#fff" stroke-width="4.5" stroke-dasharray="15.5 15.5" stroke-dashoffset="0"/><line x1="340.1" y1="1608.4" x2="588.1" y2="1641.0" stroke="#fff" stroke-width="4.5" stroke-dasharray="15.5 15.5" stroke-dashoffset="0"/><line x1="340.1" y1="1660.1" x2="588.1" y2="1694.1" stroke="#fff" stroke-width="4.5" stroke-dasharray="15.5 15.5" stroke-dashoffset="0"/><line x1="340.1" y1="1684.5" x2="588.1" y2="1718.2" stroke="#fff" stroke-width="4.5" stroke-dasharray="15.5 15.5" stroke-dashoffset="0"/><rect x="535.7" y="1473.4" width="43.2" height="7.5" fill="#fff" /><g clip-path="url(#cp52)"><ellipse cx="824.8" cy="1706.4" rx="35.0" ry="22.0" fill="#2a50ff" opacity="0.9" filter="url(#b5)"/><ellipse cx="825.8" cy="1707.4" rx="27.0" ry="15.0" fill="#20e070" opacity="1" filter="url(#b4)"/><ellipse cx="825.8" cy="1707.4" rx="18.0" ry="10.0" fill="#d0ff00" opacity="1" filter="url(#b4)"/><ellipse cx="810.8" cy="1703.0" rx="6.0" ry="5.0" fill="#ff4000" opacity="1" filter="url(#b2)"/><ellipse cx="847.8" cy="1706.4" rx="6.0" ry="5.0" fill="#ff4000" opacity="1" filter="url(#b2)"/><ellipse cx="618.8" cy="1677.4" rx="18.0" ry="8.0" fill="#10c0c0" opacity="1" filter="url(#b4)"/><ellipse cx="613.8" cy="1676.4" rx="8.0" ry="5.0" fill="#40ff60" opacity="1" filter="url(#b3)"/><ellipse cx="663.8" cy="1681.4" rx="25.0" ry="8.0" fill="#2a60ff" opacity="0.7" filter="url(#b5)"/><ellipse cx="731.8" cy="1686.4" rx="5.0" ry="4.0" fill="#000" opacity="1" filter="url(#b1)"/><ellipse cx="745.8" cy="1688.4" rx="5.0" ry="4.0" fill="#000" opacity="1" filter="url(#b1)"/><ellipse cx="758.8" cy="1690.4" rx="5.0" ry="4.0" fill="#000" opacity="1" filter="url(#b1)"/></g><line x1="603.8" y1="1587.3" x2="851.8" y2="1616.7" stroke="#fff" stroke-width="4.5" stroke-dasharray="15.5 15.5" stroke-dashoffset="0"/><line x1="603.8" y1="1608.4" x2="851.8" y2="1641.0" stroke="#fff" stroke-width="4.5" stroke-dasharray="15.5 15.5" stroke-dashoffset="0"/><line x1="603.8" y1="1660.1" x2="851.8" y2="1694.1" stroke="#fff" stroke-width="4.5" stroke-dasharray="15.5 15.5" stroke-dashoffset="0"/><line x1="603.8" y1="1684.5" x2="851.8" y2="1718.2" stroke="#fff" stroke-width="4.5" stroke-dasharray="15.5 15.5" stroke-dashoffset="0"/><rect x="799.4" y="1473.4" width="43.2" height="7.5" fill="#fff" /><g clip-path="url(#cp53)"><ellipse cx="987.9" cy="1621.4" rx="90.0" ry="60.0" fill="#2a60ff" opacity="0.5" filter="url(#b12)"/><ellipse cx="987.9" cy="1651.4" rx="60.0" ry="28.0" fill="#10a0e0" opacity="0.6" filter="url(#b8)"/><ellipse cx="989.9" cy="1653.4" rx="35.0" ry="16.0" fill="#20d0a0" opacity="0.6" filter="url(#b6)"/><ellipse cx="1043.9" cy="1700.4" rx="14.0" ry="8.0" fill="#30e070" opacity="1" filter="url(#b3)"/><ellipse cx="1043.9" cy="1700.4" rx="7.0" ry="4.0" fill="#c0ff20" opacity="1" filter="url(#b2)"/><ellipse cx="891.9" cy="1686.1" rx="6.0" ry="5.0" fill="#30e070" opacity="1" filter="url(#b2)"/><ellipse cx="927.9" cy="1688.4" rx="6.0" ry="5.0" fill="#30e070" opacity="1" filter="url(#b2)"/><ellipse cx="963.9" cy="1681.4" rx="5.0" ry="4.5" fill="#000" opacity="1" filter="url(#b1)"/><ellipse cx="994.9" cy="1692.4" rx="5.0" ry="4.5" fill="#000" opacity="1" filter="url(#b1)"/><ellipse cx="1017.9" cy="1701.4" rx="5.0" ry="4.5" fill="#000" opacity="1" filter="url(#b1)"/><ellipse cx="1039.9" cy="1705.8" rx="5.0" ry="4.5" fill="#000" opacity="1" filter="url(#b1)"/><ellipse cx="1077.9" cy="1703.4" rx="5.0" ry="4.5" fill="#000" opacity="1" filter="url(#b1)"/><ellipse cx="1106.9" cy="1703.4" rx="5.0" ry="4.5" fill="#000" opacity="1" filter="url(#b1)"/></g><line x1="867.9" y1="1587.3" x2="1115.9" y2="1616.7" stroke="#fff" stroke-width="4.5" stroke-dasharray="15.5 15.5" stroke-dashoffset="0"/><line x1="867.9" y1="1608.4" x2="1115.9" y2="1641.0" stroke="#fff" stroke-width="4.5" stroke-dasharray="15.5 15.5" stroke-dashoffset="0"/><line x1="867.9" y1="1660.1" x2="1115.9" y2="1694.1" stroke="#fff" stroke-width="4.5" stroke-dasharray="15.5 15.5" stroke-dashoffset="0"/><line x1="867.9" y1="1684.5" x2="1115.9" y2="1718.2" stroke="#fff" stroke-width="4.5" stroke-dasharray="15.5 15.5" stroke-dashoffset="0"/><rect x="1063.5" y="1473.4" width="43.2" height="7.5" fill="#fff" /><rect x="345.1" y="1476.3" width="72.4" height="24.1" rx="7.5" fill="#dcd5ea"/><text x="381.3" y="1495.8" font-size="23.8" font-weight="bold" text-anchor="middle">3030s</text><rect x="608.8" y="1476.3" width="72.4" height="24.1" rx="7.5" fill="#dcd5ea"/><text x="645.0" y="1495.8" font-size="23.8" font-weight="bold" text-anchor="middle">3430s</text><rect x="872.9" y="1476.3" width="72.4" height="24.1" rx="7.5" fill="#dcd5ea"/><text x="909.1" y="1495.8" font-size="23.8" font-weight="bold" text-anchor="middle">3600s</text><polygon points="1006.8,1638.5 1026.9,1580.9 1053.0,1599.3" fill="#fff" opacity="1"/><polygon points="1053.7,1684.7 1074.8,1627.7 1100.6,1646.2" fill="#999" opacity="1"/><line x1="64.8" y1="1587.0" x2="312.5" y2="1617.5" stroke="#ffff00" stroke-width="5.5" stroke-dasharray="16 3.8" stroke-dashoffset="0"/><line x1="64.8" y1="1606.6" x2="312.5" y2="1640.9" stroke="#ffff00" stroke-width="5.5" stroke-dasharray="16 3.8" stroke-dashoffset="0"/><line x1="64.8" y1="1659.3" x2="312.5" y2="1694.5" stroke="#ffff00" stroke-width="5.5" stroke-dasharray="16 3.8" stroke-dashoffset="0"/><line x1="64.8" y1="1682.7" x2="312.5" y2="1717.9" stroke="#ffff00" stroke-width="5.5" stroke-dasharray="16 3.8" stroke-dashoffset="0"/><polygon points="64.8,1666.9 78.0,1666.9 72.3,1649.5 113.3,1671.3 72.3,1693.1 78.0,1675.7 64.8,1675.7" fill="#ff0000" opacity="1"/><rect x="266.4" y="1478.4" width="35.2" height="4.0" fill="#ffff00" /><text x="269.5" y="1505.8" font-size="25.5" font-weight="normal" font-style="normal" fill="#ffff00" text-anchor="middle" stroke="#ffff00" stroke-width="0.8">20 μm</text><text transform="translate(2.7,60) scale(0.88,1)" font-size="70" font-weight="bold">a</text><text x="66.5" y="60.6" font-size="44" font-weight="bold" font-style="italic">Trpa1<tspan dy="-8.3" font-size="33.5">+/+</tspan></text><text x="196.1" y="103" font-size="30.1" font-weight="bold" font-style="italic" fill="#000" text-anchor="middle" >Puff on HeC</text><text x="197.8" y="409" font-size="30.2" font-weight="bold" font-style="italic" fill="#000" text-anchor="middle" >Puff on KoC</text><text x="59" y="198.2" font-size="25.6" font-weight="bold" font-style="normal" fill="#000" text-anchor="end" >KoC</text><text x="59" y="263.4" font-size="25.6" font-weight="bold" font-style="normal" fill="#000" text-anchor="end" >IHC</text><text x="59" y="295.8" font-size="25.6" font-weight="bold" font-style="normal" fill="#000" text-anchor="end" >OHC</text><text x="59" y="333.7" font-size="25.6" font-weight="bold" font-style="normal" fill="#000" text-anchor="end" >HeC</text><text x="58" y="503.8" font-size="25.6" font-weight="bold" font-style="normal" fill="#000" text-anchor="end" >KoC</text><text x="58" y="569.2" font-size="25.6" font-weight="bold" font-style="normal" fill="#000" text-anchor="end" >IHC</text><text x="58" y="602.4" font-size="25.6" font-weight="bold" font-style="normal" fill="#000" text-anchor="end" >OHC</text><text x="58" y="639.4" font-size="25.6" font-weight="bold" font-style="normal" fill="#000" text-anchor="end" >HeC</text><rect x="620.0" y="94.2" width="1272.0" height="5.6" fill="#0000f5" /><text x="1249.5" y="85" font-size="30.5" font-weight="bold" font-style="normal" fill="#0000f5" text-anchor="middle" >4-HNE</text><rect x="620.0" y="401.9" width="1272.0" height="5.6" fill="#0000f5" /><text x="1249.5" y="392.5" font-size="30.5" font-weight="bold" font-style="normal" fill="#0000f5" text-anchor="middle" >4-HNE</text><rect x="620.0" y="765.9" width="1271.4" height="5.6" fill="#0000f5" /><text x="1260.8" y="758.7" font-size="30.5" font-weight="bold" font-style="normal" fill="#0000f5" text-anchor="middle" >4-HNE</text><rect x="615.5" y="1112.2" width="216.3" height="5.6" fill="#0000f5" /><text x="722.6" y="1107" font-size="30.5" font-weight="bold" font-style="normal" fill="#0000f5" text-anchor="middle" >4-HNE</text><rect x="615.5" y="1456.2" width="216.3" height="5.6" fill="#0000f5" /><text x="722.6" y="1450.3" font-size="30.5" font-weight="bold" font-style="normal" fill="#0000f5" text-anchor="middle" >4-HNE</text><text x="0.5" y="735" font-size="68" font-weight="bold" font-style="normal" fill="#000" text-anchor="start" >b</text><text x="63" y="731.5" font-size="43" font-weight="bold" font-style="italic">Trpa1<tspan dy="-8" font-size="34">+/+</tspan><tspan dy="8" font-style="normal" font-size="40"> (+ </tspan><tspan font-style="normal" font-size="40" fill="#7a10ff">PPADS</tspan><tspan font-style="normal" font-size="40">)</tspan></text><text x="190.6" y="771.3" font-size="30.1" font-weight="bold" font-style="italic" fill="#000" text-anchor="middle" >Puff on HeC</text><text x="57" y="816.6" font-size="25.6" font-weight="bold" font-style="normal" fill="#000" text-anchor="end" >KoC</text><text x="57" y="875.5" font-size="25.6" font-weight="bold" font-style="normal" fill="#000" text-anchor="end" >IHC</text><text x="57" y="920.7" font-size="25.6" font-weight="bold" font-style="normal" fill="#000" text-anchor="end" >OHC</text><text x="57" y="967.6" font-size="25.6" font-weight="bold" font-style="normal" fill="#000" text-anchor="end" >HeC</text><text x="1.7" y="1107" font-size="68" font-weight="bold" font-style="normal" fill="#000" text-anchor="start" >c</text><text x="64" y="1104.5" font-size="43" font-weight="bold" font-style="italic">Trpa1<tspan dy="-8" font-size="34">+/+</tspan></text><text x="57" y="1157" font-size="25.6" font-weight="bold" font-style="normal" fill="#000" text-anchor="end" >KoC</text><text x="57" y="1193" font-size="25.6" font-weight="bold" font-style="normal" fill="#000" text-anchor="end" >PC</text><text x="57" y="1230" font-size="25.6" font-weight="bold" font-style="normal" fill="#000" text-anchor="end" >DC/</text><text x="57" y="1257" font-size="25.6" font-weight="bold" font-style="normal" fill="#000" text-anchor="end" >OHC</text><text x="57" y="1301" font-size="25.6" font-weight="bold" font-style="normal" fill="#000" text-anchor="end" >HeC</text><text x="57" y="1347" font-size="25.6" font-weight="bold" font-style="normal" fill="#000" text-anchor="end" >CC</text><text x="0.9" y="1443" font-size="68" font-weight="bold" font-style="normal" fill="#000" text-anchor="start" >e</text><text x="63" y="1451" font-size="43" font-weight="bold" font-style="italic">Trpa1<tspan dy="-8" font-size="34">+/+</tspan><tspan dy="8" font-style="normal" font-size="40"> (+ </tspan><tspan font-style="normal" font-size="40" fill="#7a10ff">PPADS</tspan><tspan font-style="normal" font-size="40">)</tspan></text><text x="57" y="1543" font-size="25.6" font-weight="bold" font-style="normal" fill="#000" text-anchor="end" >KoC</text><text x="57" y="1603" font-size="25.6" font-weight="bold" font-style="normal" fill="#000" text-anchor="end" >PC</text><text x="57" y="1631" font-size="25.6" font-weight="bold" font-style="normal" fill="#000" text-anchor="end" >DC/</text><text x="57" y="1657" font-size="25.6" font-weight="bold" font-style="normal" fill="#000" text-anchor="end" >OHC</text><text x="57" y="1684" font-size="25.6" font-weight="bold" font-style="normal" fill="#000" text-anchor="end" >HeC</text><text x="57" y="1710" font-size="25.6" font-weight="bold" font-style="normal" fill="#000" text-anchor="end" >CC</text><rect x="1928.0" y="321.0" width="18.0" height="143.0" fill="url(#cmap)" /><text x="1938.5" y="310.7" font-size="26.5" font-weight="bold" font-style="normal" fill="#000" text-anchor="middle" >5.0</text><text x="1938.5" y="494" font-size="26.5" font-weight="bold" font-style="normal" fill="#000" text-anchor="middle" >1.0</text><text transform="translate(1977.5,409.5) rotate(-90)" font-size="26.5" font-weight="bold">R/R<tspan font-size="18" dy="5">0</tspan></text><rect x="1929.8" y="843.4" width="17.6" height="141.8" fill="url(#cmap)" /><text x="1940.1" y="831.9" font-size="26.5" font-weight="bold" font-style="normal" fill="#000" text-anchor="middle" >2.5</text><text x="1940.1" y="1016" font-size="26.5" font-weight="bold" font-style="normal" fill="#000" text-anchor="middle" >1.0</text><text transform="translate(1980,931.5) rotate(-90)" font-size="26.5" font-weight="bold">R/R<tspan font-size="18" dy="5">0</tspan></text><rect x="1138.0" y="1180.2" width="18.0" height="142.2" fill="url(#cmap)" /><text x="1148.5" y="1169.2" font-size="26.5" font-weight="bold" font-style="normal" fill="#000" text-anchor="middle" >2.0</text><text x="1148.5" y="1352" font-size="26.5" font-weight="bold" font-style="normal" fill="#000" text-anchor="middle" >1.0</text><text transform="translate(1188.2,1267.7) rotate(-90)" font-size="26.5" font-weight="bold">R/R<tspan font-size="18" dy="5">0</tspan></text><rect x="1136.3" y="1519.2" width="18.2" height="142.7" fill="url(#cmap)" /><text x="1146.9" y="1508.1" font-size="26.5" font-weight="bold" font-style="normal" fill="#000" text-anchor="middle" >0.2</text><text x="1146.9" y="1691.4" font-size="26.5" font-weight="bold" font-style="normal" fill="#000" text-anchor="middle" >0.0</text><text transform="translate(1186.2,1606.6) rotate(-90)" font-size="26.5" font-weight="bold">R-R<tspan font-size="18" dy="5">0</tspan></text><text x="1203" y="1106.8" font-size="66" font-weight="bold" font-style="normal" fill="#000" text-anchor="start" >d</text><line x1="1353.2" y1="1108.3" x2="1353.2" y2="1335.1" stroke="#8c8c8c" stroke-width="3.2" /><line x1="1853.8" y1="1108.3" x2="1853.8" y2="1335.1" stroke="#8c8c8c" stroke-width="3.2" /><line x1="1346.2" y1="1108.3" x2="1353.2" y2="1108.3" stroke="#8c8c8c" stroke-width="2.5" /><text x="1339.0" y="1115.5" font-size="20.4" font-weight="bold" font-style="normal" fill="#000" text-anchor="end">1.5</text><line x1="1346.2" y1="1145.6" x2="1353.2" y2="1145.6" stroke="#8c8c8c" stroke-width="2.5" /><text x="1339.0" y="1152.8" font-size="20.4" font-weight="bold" font-style="normal" fill="#000" text-anchor="end">1.4</text><line x1="1346.2" y1="1182.9" x2="1353.2" y2="1182.9" stroke="#8c8c8c" stroke-width="2.5" /><text x="1339.0" y="1190.1" font-size="20.4" font-weight="bold" font-style="normal" fill="#000" text-anchor="end">1.3</text><line x1="1346.2" y1="1220.2" x2="1353.2" y2="1220.2" stroke="#8c8c8c" stroke-width="2.5" /><text x="1339.0" y="1227.4" font-size="20.4" font-weight="bold" font-style="normal" fill="#000" text-anchor="end">1.2</text><line x1="1346.2" y1="1257.5" x2="1353.2" y2="1257.5" stroke="#8c8c8c" stroke-width="2.5" /><text x="1339.0" y="1264.7" font-size="20.4" font-weight="bold" font-style="normal" fill="#000" text-anchor="end">1.1</text><line x1="1346.2" y1="1294.8" x2="1353.2" y2="1294.8" stroke="#8c8c8c" stroke-width="2.5" /><text x="1339.0" y="1302.0" font-size="20.4" font-weight="bold" font-style="normal" fill="#000" text-anchor="end">1.0</text><line x1="1346.2" y1="1332.1" x2="1353.2" y2="1332.1" stroke="#8c8c8c" stroke-width="2.5" /><text x="1339.0" y="1339.3" font-size="20.4" font-weight="bold" font-style="normal" fill="#000" text-anchor="end">0.9</text><line x1="1853.8" y1="1108.3" x2="1860.8" y2="1108.3" stroke="#8c8c8c" stroke-width="2.5" /><text x="1866.0" y="1115.5" font-size="20.4" font-weight="bold" font-style="normal" fill="#8c8c8c" text-anchor="start">2.4</text><line x1="1853.8" y1="1136.3" x2="1860.8" y2="1136.3" stroke="#8c8c8c" stroke-width="2.5" /><text x="1866.0" y="1143.5" font-size="20.4" font-weight="bold" font-style="normal" fill="#8c8c8c" text-anchor="start">2.2</text><line x1="1853.8" y1="1164.2" x2="1860.8" y2="1164.2" stroke="#8c8c8c" stroke-width="2.5" /><text x="1866.0" y="1171.5" font-size="20.4" font-weight="bold" font-style="normal" fill="#8c8c8c" text-anchor="start">2.0</text><line x1="1853.8" y1="1192.2" x2="1860.8" y2="1192.2" stroke="#8c8c8c" stroke-width="2.5" /><text x="1866.0" y="1199.4" font-size="20.4" font-weight="bold" font-style="normal" fill="#8c8c8c" text-anchor="start">1.8</text><line x1="1853.8" y1="1220.2" x2="1860.8" y2="1220.2" stroke="#8c8c8c" stroke-width="2.5" /><text x="1866.0" y="1227.4" font-size="20.4" font-weight="bold" font-style="normal" fill="#8c8c8c" text-anchor="start">1.6</text><line x1="1853.8" y1="1248.2" x2="1860.8" y2="1248.2" stroke="#8c8c8c" stroke-width="2.5" /><text x="1866.0" y="1255.4" font-size="20.4" font-weight="bold" font-style="normal" fill="#8c8c8c" text-anchor="start">1.4</text><line x1="1853.8" y1="1276.1" x2="1860.8" y2="1276.1" stroke="#8c8c8c" stroke-width="2.5" /><text x="1866.0" y="1283.3" font-size="20.4" font-weight="bold" font-style="normal" fill="#8c8c8c" text-anchor="start">1.2</text><line x1="1853.8" y1="1304.1" x2="1860.8" y2="1304.1" stroke="#8c8c8c" stroke-width="2.5" /><text x="1866.0" y="1311.3" font-size="20.4" font-weight="bold" font-style="normal" fill="#8c8c8c" text-anchor="start">1.0</text><line x1="1853.8" y1="1332.1" x2="1860.8" y2="1332.1" stroke="#8c8c8c" stroke-width="2.5" /><text x="1866.0" y="1339.3" font-size="20.4" font-weight="bold" font-style="normal" fill="#8c8c8c" text-anchor="start">0.8</text><line x1="1346.0" y1="1332.1" x2="1497.0" y2="1332.1" stroke="#8c8c8c" stroke-width="3.2" /><line x1="1513.0" y1="1332.1" x2="1686.0" y2="1332.1" stroke="#8c8c8c" stroke-width="3.2" /><line x1="1703.0" y1="1332.1" x2="1853.8" y2="1332.1" stroke="#8c8c8c" stroke-width="3.2" /><line x1="1494.0" y1="1336.1" x2="1503.0" y2="1328.1" stroke="#8c8c8c" stroke-width="2.8" /><line x1="1503.5" y1="1336.1" x2="1512.5" y2="1328.1" stroke="#8c8c8c" stroke-width="2.8" /><line x1="1684.0" y1="1336.1" x2="1693.0" y2="1328.1" stroke="#8c8c8c" stroke-width="2.8" /><line x1="1693.5" y1="1336.1" x2="1702.5" y2="1328.1" stroke="#8c8c8c" stroke-width="2.8" /><line x1="1406.5" y1="1332.1" x2="1406.5" y2="1337.1" stroke="#8c8c8c" stroke-width="2.5" /><line x1="1460.2" y1="1332.1" x2="1460.2" y2="1337.1" stroke="#8c8c8c" stroke-width="2.5" /><line x1="1546.4" y1="1332.1" x2="1546.4" y2="1337.1" stroke="#8c8c8c" stroke-width="2.5" /><line x1="1600.3" y1="1332.1" x2="1600.3" y2="1337.1" stroke="#8c8c8c" stroke-width="2.5" /><line x1="1736.0" y1="1332.1" x2="1736.0" y2="1337.1" stroke="#8c8c8c" stroke-width="2.5" /><line x1="1789.4" y1="1332.1" x2="1789.4" y2="1337.1" stroke="#8c8c8c" stroke-width="2.5" /><line x1="1843.8" y1="1332.1" x2="1843.8" y2="1337.1" stroke="#8c8c8c" stroke-width="2.5" /><text x="1461.2" y="1356.0" font-size="19" font-weight="bold" font-style="normal" fill="#000" text-anchor="middle">100</text><text x="1600.5" y="1356.0" font-size="19" font-weight="bold" font-style="normal" fill="#000" text-anchor="middle">300</text><text x="1787.0" y="1356.0" font-size="19" font-weight="bold" font-style="normal" fill="#000" text-anchor="middle">700</text><text x="1599.0" y="1381.5" font-size="26.5" font-weight="bold" font-style="normal" fill="#000" text-anchor="middle">Time (s)</text><text x="0" y="0" transform="translate(1253.0,1217.0) rotate(-90)" font-size="28.5" font-weight="bold" font-style="normal" fill="#000" text-anchor="middle" textLength="165" lengthAdjust="spacingAndGlyphs">Deiters' cell</text><text transform="translate(1294.5,1218.5) rotate(-90)" font-size="28.5" font-weight="bold" text-anchor="middle">(R/R<tspan font-size="19" dy="5">0</tspan><tspan dy="-5">)</tspan></text><text x="0" y="0" transform="translate(1935.5,1215.0) rotate(-90)" font-size="28.5" font-weight="bold" font-style="normal" fill="#8c8c8c" text-anchor="middle" textLength="192" lengthAdjust="spacingAndGlyphs">Hensen's cell</text><text transform="translate(1976.5,1218.5) rotate(-90)" font-size="28.5" font-weight="bold" fill="#8c8c8c" text-anchor="middle">(R/R<tspan font-size="19" dy="5">0</tspan><tspan dy="-5">)</tspan></text><text x="1398.0" y="1110.0" font-size="24.5" font-weight="bold" font-style="normal" fill="#0000f5" text-anchor="middle">4-HNE</text><line x1="1361.0" y1="1118.1" x2="1429.0" y2="1118.1" stroke="#0000f5" stroke-width="5.4" stroke-linecap="round"/><text x="1584.5" y="1110.0" font-size="24.5" font-weight="bold" font-style="normal" fill="#0000f5" text-anchor="middle">4-HNE</text><line x1="1549.3" y1="1118.1" x2="1618.6" y2="1118.1" stroke="#0000f5" stroke-width="5.4" stroke-linecap="round"/><text x="1769.0" y="1110.0" font-size="24.5" font-weight="bold" font-style="normal" fill="#0000f5" text-anchor="middle">4-HNE</text><line x1="1736.0" y1="1118.1" x2="1802.0" y2="1118.1" stroke="#0000f5" stroke-width="5.4" stroke-linecap="round"/><polyline points="1352.2,1302.7 1353.5,1301.3 1354.9,1301.9 1356.3,1301.8 1357.6,1302.9 1359.0,1302.8 1360.3,1303.3 1361.7,1301.5 1363.1,1302.2 1364.4,1301.3 1365.8,1301.8 1367.1,1301.8 1368.4,1300.0 1369.7,1299.8 1371.0,1300.2 1372.2,1299.3 1373.5,1297.9 1374.8,1298.1 1376.0,1297.7 1377.1,1295.1 1378.2,1296.0 1379.4,1294.9 1380.5,1293.3 1381.6,1292.0 1382.8,1293.0 1383.9,1290.7 1384.9,1289.2 1385.9,1288.2 1386.9,1288.8 1387.9,1287.3 1388.9,1286.7 1389.9,1285.6 1390.9,1284.1 1392.0,1284.1 1393.0,1281.7 1393.3,1280.7 1393.7,1280.0 1394.0,1278.1 1394.4,1277.3 1394.7,1275.2 1395.1,1274.1 1395.4,1271.2 1395.7,1270.3 1396.1,1269.0 1396.4,1267.1 1396.8,1266.1 1397.1,1264.4 1397.5,1263.4 1397.8,1262.8 1398.1,1260.8 1398.3,1259.4 1398.6,1257.6 1398.9,1256.3 1399.2,1256.4 1399.5,1254.3 1399.8,1252.8 1400.0,1250.4 1400.3,1250.3 1400.6,1247.6 1400.9,1246.6 1401.2,1246.6 1401.5,1244.4 1401.7,1242.8 1402.0,1241.7 1402.4,1240.6 1402.7,1239.1 1403.1,1236.4 1403.4,1234.6 1403.8,1233.9 1404.1,1232.4 1404.5,1230.8 1404.8,1231.1 1405.2,1229.5 1405.5,1226.9 1405.9,1226.3 1406.2,1224.3 1406.6,1224.1 1406.8,1221.7 1407.0,1219.9 1407.2,1218.5 1407.5,1217.8 1407.7,1215.8 1407.9,1215.2 1408.1,1214.5 1408.4,1212.0 1408.6,1210.2 1408.8,1210.7 1409.0,1208.2 1409.3,1205.9 1409.5,1204.4 1409.7,1203.2 1410.0,1203.0 1410.2,1202.0 1410.4,1199.8 1410.6,1197.7 1410.9,1197.0 1411.1,1197.1 1411.4,1194.6 1411.6,1194.2 1411.9,1192.5 1412.2,1189.2 1412.5,1189.4 1412.8,1187.8 1413.1,1186.1 1413.3,1184.1 1413.6,1183.5 1413.9,1180.9 1414.2,1180.2 1414.5,1178.8 1414.8,1178.6 1415.0,1177.0 1415.3,1174.2 1415.6,1173.3 1416.1,1171.2 1416.5,1171.5 1417.0,1170.0 1417.4,1167.4 1417.9,1166.8 1418.3,1165.4 1418.8,1163.0 1419.2,1163.0 1419.7,1161.1 1420.1,1160.3 1420.8,1158.5 1421.4,1156.0 1422.1,1155.4 1422.7,1153.4 1423.4,1154.2 1424.0,1152.8 1424.7,1151.4 1425.2,1148.8 1425.8,1146.8 1426.4,1147.2 1426.9,1146.0 1427.5,1142.6 1428.1,1142.1 1428.6,1139.7 1429.2,1139.9 1430.0,1138.8 1430.7,1136.2 1431.5,1135.8 1432.2,1134.9 1433.0,1133.1 1433.7,1133.3 1434.9,1133.5 1436.0,1134.1 1437.1,1136.0 1438.3,1137.5 1439.0,1137.5 1439.8,1138.9 1440.5,1141.5 1441.3,1141.9 1442.0,1142.6 1442.8,1143.9 1444.1,1143.6 1445.4,1144.5 1446.7,1145.4 1448.0,1146.6 1449.3,1146.4 1450.6,1147.1 1451.9,1147.4 1452.8,1149.6 1453.8,1149.7 1454.8,1152.2 1455.7,1153.1 1456.7,1152.2 1457.7,1153.6 1458.7,1155.5 1459.6,1155.5 1460.6,1156.3 1461.6,1159.1 1462.5,1159.2 1463.5,1159.9 1464.5,1161.6 1465.5,1162.6 1466.8,1161.6 1468.2,1161.8 1469.5,1162.9 1470.9,1163.3 1472.3,1163.8 1473.6,1164.7" fill="none" stroke="#999999" stroke-width="7" stroke-linejoin="round" stroke-linecap="round" /><polyline points="1540.2,1277.9 1541.7,1278.5 1543.1,1276.4 1544.5,1277.0 1546.0,1276.8 1547.4,1277.9 1548.9,1276.4 1550.3,1276.2 1551.8,1276.7 1553.2,1276.6 1554.6,1276.2 1556.1,1276.0 1557.4,1277.2 1558.8,1275.7 1560.2,1276.3 1561.5,1275.2 1562.9,1273.8 1564.2,1275.5 1565.6,1274.8 1567.0,1274.7 1568.3,1274.3 1569.7,1273.7 1570.8,1271.4 1571.9,1271.2 1573.1,1269.8 1574.2,1269.3 1575.3,1267.7 1576.5,1267.6 1577.6,1268.1 1578.7,1265.6 1579.3,1265.5 1579.9,1263.4 1580.4,1262.0 1581.0,1261.9 1581.6,1260.7 1582.1,1258.4 1582.7,1257.4 1583.3,1254.8 1583.8,1253.8 1584.4,1254.0 1585.0,1251.8 1585.5,1250.4 1586.0,1249.6 1586.5,1246.7 1587.0,1246.6 1587.5,1245.1 1588.0,1244.6 1588.4,1241.8 1588.9,1242.3 1589.4,1239.0 1589.9,1237.9 1590.4,1237.6 1590.9,1236.5 1591.4,1234.2 1591.8,1232.6 1592.3,1233.1 1592.9,1230.3 1593.5,1229.8 1594.0,1228.5 1594.6,1226.7 1595.2,1225.8 1595.7,1224.3 1596.3,1223.9 1596.9,1220.9 1597.4,1220.8 1598.0,1218.4 1598.6,1217.4 1599.1,1216.7 1600.5,1215.2 1601.8,1214.6 1603.2,1215.0 1604.6,1212.8 1605.9,1213.1 1607.4,1214.1 1608.9,1213.8 1610.4,1211.5 1612.0,1211.6 1613.5,1211.5 1615.0,1212.8 1616.3,1213.1 1617.7,1213.6 1619.1,1212.9 1620.4,1212.8 1621.8,1214.8 1622.9,1215.3 1624.0,1215.8 1625.2,1217.4 1626.3,1217.4 1627.4,1216.7 1628.6,1219.3 1630.1,1217.8 1631.6,1218.2 1633.1,1218.4 1634.6,1216.2 1636.1,1215.8 1637.6,1215.4 1638.9,1216.9 1640.2,1216.7 1641.5,1217.9 1642.8,1218.6 1644.1,1217.9 1645.4,1219.3 1646.7,1219.0 1648.2,1219.9 1649.7,1221.3 1651.2,1221.6 1652.7,1220.4 1654.2,1221.6 1655.8,1221.7 1657.3,1221.4 1658.8,1223.4 1660.3,1223.4 1661.8,1222.9 1663.3,1224.3 1664.8,1224.1" fill="none" stroke="#999999" stroke-width="7" stroke-linejoin="round" stroke-linecap="round" /><polyline points="1723.7,1295.5 1725.1,1294.0 1726.4,1293.7 1727.8,1295.1 1729.2,1294.7 1730.5,1293.5 1731.9,1293.7 1733.2,1292.6 1734.6,1291.2 1736.0,1290.7 1737.3,1290.6 1738.8,1292.4 1740.3,1292.5 1741.8,1293.0 1743.4,1293.5 1744.9,1292.3 1746.4,1292.8 1747.9,1292.1 1749.4,1293.2 1750.9,1293.1 1752.4,1291.6 1753.9,1291.7 1755.4,1290.3 1756.7,1291.4 1758.0,1290.6 1759.3,1290.2 1760.6,1289.2 1761.9,1288.7 1763.2,1286.1 1764.5,1287.1 1765.8,1285.5 1767.1,1286.2 1768.4,1285.3 1769.7,1284.8 1771.0,1284.0 1772.3,1282.1 1773.6,1282.7 1775.1,1280.8 1776.6,1282.1 1778.1,1281.7 1779.6,1279.9 1781.1,1280.9 1782.6,1279.7 1783.9,1278.7 1785.2,1279.1 1786.5,1277.2 1787.8,1276.1 1789.1,1275.8 1790.4,1275.5 1791.7,1276.0 1792.8,1275.4 1794.0,1273.0 1795.1,1273.0 1796.2,1271.6 1797.4,1272.1 1798.5,1270.2 1799.6,1270.3 1800.8,1267.6 1801.4,1268.2 1802.0,1265.1 1802.7,1265.6 1803.3,1262.7 1804.0,1261.1 1804.6,1260.5 1805.3,1259.9 1805.9,1257.6 1806.6,1257.0 1807.2,1255.5 1807.9,1253.9 1808.5,1253.1 1809.2,1251.0 1809.8,1250.8 1810.9,1248.0 1812.1,1249.0 1813.2,1247.0 1814.3,1246.3 1815.6,1247.0 1816.9,1247.5 1818.2,1247.4 1819.5,1247.4 1820.8,1249.4 1822.1,1249.3 1823.4,1249.9 1824.5,1251.8 1825.7,1252.3 1826.8,1252.1 1827.9,1252.9 1829.1,1253.9 1830.2,1254.6 1830.9,1255.7 1831.5,1256.6 1832.1,1258.5 1832.8,1261.0 1833.4,1261.7 1834.1,1263.5 1834.7,1264.2 1835.4,1264.7 1836.0,1266.6 1836.7,1266.6 1837.3,1268.6 1838.0,1270.2 1838.6,1271.8 1839.3,1273.3 1840.2,1273.9 1841.2,1274.8 1842.2,1275.2 1843.1,1276.8 1844.1,1278.7 1845.1,1279.5 1846.1,1279.0 1847.9,1278.8 1849.7,1279.8" fill="none" stroke="#999999" stroke-width="7" stroke-linejoin="round" stroke-linecap="round" /><polyline points="1354.4,1291.6 1355.4,1289.5 1356.4,1290.3 1357.4,1289.1 1358.3,1287.8 1359.3,1285.2 1360.3,1284.2 1361.2,1282.6 1362.8,1282.6 1364.3,1282.7 1365.8,1283.3 1366.3,1279.2 1366.8,1279.1 1367.3,1278.6 1367.8,1275.7 1368.4,1276.3 1368.9,1274.2 1369.4,1272.0 1369.6,1272.1 1369.9,1268.4 1370.1,1269.7 1370.4,1268.4 1370.6,1264.6 1370.9,1264.3 1371.1,1262.0 1371.3,1263.5 1371.6,1260.5 1371.8,1257.4 1372.1,1256.7 1372.3,1257.5 1372.6,1254.7 1373.3,1254.4 1374.1,1252.4 1374.8,1252.1 1375.1,1252.0 1375.3,1254.7 1375.5,1255.8 1375.7,1256.1 1376.0,1257.9 1376.2,1258.5 1376.4,1261.0 1376.6,1261.4 1376.9,1264.0 1377.1,1264.8 1377.3,1265.2 1377.4,1265.8 1377.6,1267.2 1377.8,1270.0 1378.0,1271.8 1378.1,1272.3 1378.3,1274.1 1378.5,1274.2 1378.7,1274.9 1378.8,1277.1 1379.0,1278.4 1379.2,1280.0 1379.4,1282.2 1380.5,1279.6 1381.6,1278.8 1382.8,1279.3 1383.9,1278.2 1384.3,1274.6 1384.8,1274.4 1385.3,1273.6 1385.7,1271.7 1386.2,1269.6 1386.6,1269.0 1387.1,1269.4 1387.5,1266.9 1388.0,1266.0 1388.4,1265.2 1389.6,1266.0 1390.7,1265.7 1391.8,1265.5 1393.0,1267.9 1394.5,1270.1 1396.0,1271.2 1397.5,1272.3 1399.0,1271.2 1400.5,1273.1 1402.0,1273.1 1403.5,1273.7 1405.0,1272.7 1406.6,1273.1 1408.1,1274.2 1409.6,1273.1 1411.1,1274.6 1412.6,1276.1 1414.1,1275.3 1415.6,1274.7 1417.1,1276.0 1418.6,1275.0 1420.1,1277.0 1421.7,1274.9 1423.2,1276.2 1424.7,1276.8 1426.2,1274.9 1427.7,1277.1 1429.2,1275.3 1430.3,1275.5 1431.5,1273.1 1432.6,1273.4 1433.7,1271.9 1434.6,1271.2 1435.4,1271.6 1436.3,1269.1 1437.1,1269.3 1438.0,1268.5 1438.8,1265.3 1439.7,1263.5 1440.5,1262.2 1442.0,1263.7 1443.6,1265.1 1445.1,1262.4 1445.4,1265.0 1445.7,1266.9 1446.0,1267.8 1446.4,1269.6 1446.7,1271.7 1447.0,1270.4 1447.3,1271.2 1448.5,1272.8 1449.6,1273.9 1450.7,1277.0 1451.9,1277.7 1453.0,1275.7 1454.1,1276.7 1455.3,1276.2 1456.4,1273.3 1457.5,1274.1 1458.7,1273.9 1459.4,1272.7 1460.2,1276.4 1460.9,1278.0 1461.7,1276.1 1462.4,1276.9 1463.2,1279.1 1464.7,1280.8 1466.2,1282.2 1467.7,1280.5 1469.2,1282.0 1470.7,1280.1 1472.3,1282.7" fill="none" stroke="#000" stroke-width="8" stroke-linejoin="miter" stroke-linecap="round" /><polyline points="1542.5,1293.8 1544.0,1292.3 1545.5,1295.1 1547.0,1295.8 1548.5,1295.2 1550.0,1293.9 1551.5,1297.4 1553.1,1296.8 1554.6,1295.4 1556.1,1295.8 1557.6,1295.7 1559.1,1296.4 1560.6,1295.9 1562.1,1297.5 1563.6,1297.1 1565.1,1294.2 1566.6,1297.0 1568.2,1295.5 1569.7,1295.9 1571.0,1294.6 1572.3,1292.8 1573.6,1293.0 1574.8,1293.0 1576.1,1289.7 1577.4,1290.8 1578.7,1289.0 1580.0,1288.1 1581.3,1287.3 1582.6,1287.7 1583.9,1285.4 1585.2,1286.9 1586.5,1286.1 1587.8,1282.8 1588.9,1284.8 1590.1,1281.7 1591.2,1281.6 1592.3,1281.3 1593.5,1279.6 1594.6,1277.5 1595.7,1279.6 1596.9,1276.3 1598.2,1275.8 1599.4,1277.3 1600.7,1275.0 1602.0,1276.3 1603.3,1275.0 1604.6,1272.8 1605.9,1271.2 1607.2,1273.9 1608.5,1270.2 1609.8,1271.8 1611.1,1270.3 1612.4,1270.7 1613.7,1269.8 1615.0,1269.0 1616.5,1268.0 1618.0,1268.7 1619.5,1265.8 1621.0,1265.9 1622.5,1267.2 1624.0,1265.5 1625.6,1266.1 1627.1,1265.3 1628.6,1265.1 1630.1,1264.4 1631.6,1265.2 1633.1,1263.3 1634.6,1264.3 1636.1,1262.3 1637.6,1261.9 1639.1,1261.0 1640.7,1260.9 1642.2,1260.3 1643.7,1262.1 1645.2,1263.3 1646.7,1261.6 1648.2,1262.1 1649.7,1263.5 1651.2,1264.7 1652.6,1265.9 1654.0,1264.5 1655.5,1263.9 1656.9,1263.5 1658.3,1264.0 1659.7,1264.4 1661.1,1264.5 1662.5,1264.1 1663.9,1266.3" fill="none" stroke="#000" stroke-width="8" stroke-linejoin="miter" stroke-linecap="round" /><polyline points="1726.0,1312.9 1727.1,1314.7 1728.3,1312.4 1729.4,1312.2 1730.5,1309.4 1731.7,1311.3 1732.8,1309.2 1734.3,1310.2 1735.8,1308.7 1737.3,1308.0 1738.8,1307.5 1740.3,1306.2 1741.8,1305.3 1743.4,1308.5 1744.9,1306.9 1746.4,1308.1 1747.9,1306.6 1749.4,1305.4 1750.9,1307.4 1752.4,1304.9 1753.9,1304.9 1755.4,1306.0 1757.0,1304.7 1758.5,1306.8 1760.0,1303.3 1761.3,1305.0 1762.6,1303.8 1763.9,1303.8 1765.2,1301.1 1766.4,1301.5 1767.7,1300.6 1769.0,1299.9 1769.9,1300.3 1770.7,1299.7 1771.6,1296.0 1772.4,1296.1 1773.3,1294.9 1774.1,1294.2 1775.0,1293.8 1775.8,1290.0 1776.4,1288.8 1777.1,1289.2 1777.7,1286.1 1778.3,1285.0 1778.9,1283.4 1779.5,1281.9 1780.2,1282.3 1780.8,1281.5 1781.4,1279.2 1782.0,1277.8 1782.6,1278.2 1783.2,1277.0 1783.9,1274.9 1784.5,1274.5 1785.1,1274.1 1785.7,1272.4 1786.3,1270.5 1787.0,1269.4 1787.6,1269.2 1788.2,1266.1 1788.8,1265.3 1789.4,1264.4 1790.3,1264.2 1791.1,1262.8 1792.0,1258.9 1792.8,1258.2 1793.7,1257.5 1794.5,1258.0 1795.4,1256.2 1796.2,1254.1 1797.0,1252.3 1797.7,1253.3 1798.5,1252.2 1799.2,1251.9 1800.0,1249.2 1800.8,1248.0 1801.5,1245.4 1802.3,1244.1 1803.0,1244.4 1803.8,1242.9 1804.5,1241.5 1805.3,1239.8 1806.1,1241.8 1807.0,1240.2 1807.8,1238.1 1808.7,1238.3 1809.5,1237.4 1810.4,1235.1 1811.2,1232.5 1812.1,1230.5 1812.9,1232.0 1813.8,1229.8 1814.6,1229.3 1815.5,1229.2 1816.3,1225.4 1817.2,1225.7 1818.0,1224.7 1818.9,1223.1 1819.5,1220.3 1820.2,1220.0 1820.8,1218.6 1821.5,1218.6 1822.1,1217.9 1822.8,1214.7 1823.4,1214.8 1824.1,1212.0 1824.7,1213.1 1825.3,1211.3 1826.0,1209.1 1826.6,1207.4 1827.3,1205.6 1827.9,1204.4 1828.5,1205.3 1829.1,1201.8 1829.6,1200.8 1830.2,1201.1 1830.8,1198.5 1831.3,1196.7 1831.9,1194.8 1832.5,1192.5 1833.8,1192.7 1835.2,1193.7 1836.5,1192.8 1837.9,1192.8 1839.3,1190.3 1840.6,1191.6 1842.0,1193.0 1843.3,1191.2 1844.7,1192.1 1846.1,1190.0" fill="none" stroke="#000" stroke-width="8" stroke-linejoin="miter" stroke-linecap="round" /><line x1="1736.0" y1="1372.6" x2="1736.0" y2="1347.0" stroke="#000" stroke-width="3" /><polygon points="1736.0,1341.0 1730.0,1351.0 1742.0,1351.0" fill="#000" opacity="1"/><line x1="1789.4" y1="1384.0" x2="1789.4" y2="1367.0" stroke="#000" stroke-width="3" /><polygon points="1789.4,1361.0 1783.4,1371.0 1795.4,1371.0" fill="#000" opacity="1"/><line x1="1843.8" y1="1372.6" x2="1843.8" y2="1347.0" stroke="#000" stroke-width="3" /><polygon points="1843.8,1341.0 1837.8,1351.0 1849.8,1351.0" fill="#000" opacity="1"/><text x="1201" y="1443.6" font-size="69" font-weight="bold" font-style="normal" fill="#000" text-anchor="start" >f</text><line x1="1353.2" y1="1445.3" x2="1353.2" y2="1671.2" stroke="#8c8c8c" stroke-width="3.2" /><line x1="1853.8" y1="1445.3" x2="1853.8" y2="1671.2" stroke="#8c8c8c" stroke-width="3.2" /><line x1="1346.2" y1="1445.3" x2="1353.2" y2="1445.3" stroke="#8c8c8c" stroke-width="2.5" /><text x="1339.0" y="1452.5" font-size="20.4" font-weight="bold" font-style="normal" fill="#000" text-anchor="end">0.08</text><line x1="1346.2" y1="1487.4" x2="1353.2" y2="1487.4" stroke="#8c8c8c" stroke-width="2.5" /><text x="1339.0" y="1494.6" font-size="20.4" font-weight="bold" font-style="normal" fill="#000" text-anchor="end">0.06</text><line x1="1346.2" y1="1530.5" x2="1353.2" y2="1530.5" stroke="#8c8c8c" stroke-width="2.5" /><text x="1339.0" y="1537.7" font-size="20.4" font-weight="bold" font-style="normal" fill="#000" text-anchor="end">0.04</text><line x1="1346.2" y1="1572.6" x2="1353.2" y2="1572.6" stroke="#8c8c8c" stroke-width="2.5" /><text x="1339.0" y="1579.8" font-size="20.4" font-weight="bold" font-style="normal" fill="#000" text-anchor="end">0.02</text><line x1="1346.2" y1="1614.8" x2="1353.2" y2="1614.8" stroke="#8c8c8c" stroke-width="2.5" /><text x="1339.0" y="1622.0" font-size="20.4" font-weight="bold" font-style="normal" fill="#000" text-anchor="end">0</text><line x1="1346.2" y1="1658.3" x2="1353.2" y2="1658.3" stroke="#8c8c8c" stroke-width="2.5" /><text x="1339.0" y="1665.5" font-size="20.4" font-weight="bold" font-style="normal" fill="#000" text-anchor="end">-0.02</text><line x1="1853.8" y1="1445.3" x2="1860.8" y2="1445.3" stroke="#8c8c8c" stroke-width="2.5" /><text x="1866.0" y="1452.5" font-size="20.4" font-weight="bold" font-style="normal" fill="#8c8c8c" text-anchor="start">0.4</text><line x1="1853.8" y1="1495.2" x2="1860.8" y2="1495.2" stroke="#8c8c8c" stroke-width="2.5" /><text x="1866.0" y="1502.4" font-size="20.4" font-weight="bold" font-style="normal" fill="#8c8c8c" text-anchor="start">0.3</text><line x1="1853.8" y1="1545.0" x2="1860.8" y2="1545.0" stroke="#8c8c8c" stroke-width="2.5" /><text x="1866.0" y="1552.2" font-size="20.4" font-weight="bold" font-style="normal" fill="#8c8c8c" text-anchor="start">0.2</text><line x1="1853.8" y1="1593.9" x2="1860.8" y2="1593.9" stroke="#8c8c8c" stroke-width="2.5" /><text x="1866.0" y="1601.1" font-size="20.4" font-weight="bold" font-style="normal" fill="#8c8c8c" text-anchor="start">0.1</text><line x1="1853.8" y1="1643.3" x2="1860.8" y2="1643.3" stroke="#8c8c8c" stroke-width="2.5" /><text x="1866.0" y="1650.5" font-size="20.4" font-weight="bold" font-style="normal" fill="#8c8c8c" text-anchor="start">0</text><line x1="1353.2" y1="1668.2" x2="1470.0" y2="1668.2" stroke="#8c8c8c" stroke-width="3.2" /><line x1="1483.0" y1="1668.2" x2="1853.8" y2="1668.2" stroke="#8c8c8c" stroke-width="3.2" /><line x1="1467.0" y1="1672.2" x2="1476.0" y2="1664.2" stroke="#8c8c8c" stroke-width="2.8" /><line x1="1476.0" y1="1672.2" x2="1485.0" y2="1664.2" stroke="#8c8c8c" stroke-width="2.8" /><line x1="1434.6" y1="1668.2" x2="1434.6" y2="1673.2" stroke="#8c8c8c" stroke-width="2.5" /><line x1="1500.3" y1="1668.2" x2="1500.3" y2="1673.2" stroke="#8c8c8c" stroke-width="2.5" /><line x1="1578.7" y1="1668.2" x2="1578.7" y2="1673.2" stroke="#8c8c8c" stroke-width="2.5" /><line x1="1660.3" y1="1668.2" x2="1660.3" y2="1673.2" stroke="#8c8c8c" stroke-width="2.5" /><line x1="1740.9" y1="1668.2" x2="1740.9" y2="1673.2" stroke="#8c8c8c" stroke-width="2.5" /><line x1="1820.2" y1="1668.2" x2="1820.2" y2="1673.2" stroke="#8c8c8c" stroke-width="2.5" /><text x="1352.2" y="1694.0" font-size="19" font-weight="bold" font-style="normal" fill="#000" text-anchor="middle">0</text><text x="1434.6" y="1694.0" font-size="19" font-weight="bold" font-style="normal" fill="#000" text-anchor="middle">500</text><text x="1578.7" y="1694.0" font-size="19" font-weight="bold" font-style="normal" fill="#000" text-anchor="middle">2000</text><text x="1740.9" y="1694.0" font-size="19" font-weight="bold" font-style="normal" fill="#000" text-anchor="middle">3000</text><text x="1599.0" y="1720.0" font-size="26.5" font-weight="bold" font-style="normal" fill="#000" text-anchor="middle">Time (s)</text><text x="0" y="0" transform="translate(1248.5,1553.0) rotate(-90)" font-size="28.5" font-weight="bold" font-style="normal" fill="#000" text-anchor="middle" textLength="165" lengthAdjust="spacingAndGlyphs">Deiters' cell</text><text transform="translate(1289,1553) rotate(-90)" font-size="28.5" font-weight="bold" text-anchor="middle">(R-R<tspan font-size="19" dy="5">0</tspan><tspan dy="-5">)</tspan></text><text x="0" y="0" transform="translate(1935.5,1551.0) rotate(-90)" font-size="28.5" font-weight="bold" font-style="normal" fill="#8c8c8c" text-anchor="middle" textLength="192" lengthAdjust="spacingAndGlyphs">Hensen's cell</text><text transform="translate(1975.5,1553) rotate(-90)" font-size="28.5" font-weight="bold" fill="#8c8c8c" text-anchor="middle">(R-R<tspan font-size="19" dy="5">0</tspan><tspan dy="-5">)</tspan></text><text x="1400.7" y="1452.0" font-size="24.5" font-weight="bold" font-style="normal" fill="#0000f5" text-anchor="middle">4-HNE</text><line x1="1383.9" y1="1458.0" x2="1423.8" y2="1458.0" stroke="#0000f5" stroke-width="5.4" stroke-linecap="round"/><text x="1550.2" y="1452.0" font-size="24.5" font-weight="bold" font-style="normal" fill="#0000f5" text-anchor="middle">4-HNE</text><line x1="1531.2" y1="1458.0" x2="1570.6" y2="1458.0" stroke="#0000f5" stroke-width="5.4" stroke-linecap="round"/><text x="1673.9" y="1452.0" font-size="24.5" font-weight="bold" font-style="normal" fill="#0000f5" text-anchor="middle">4-HNE</text><line x1="1654.4" y1="1458.0" x2="1694.3" y2="1458.0" stroke="#0000f5" stroke-width="5.4" stroke-linecap="round"/><text x="1798.5" y="1452.0" font-size="24.5" font-weight="bold" font-style="normal" fill="#0000f5" text-anchor="middle">4-HNE</text><line x1="1779.0" y1="1458.0" x2="1818.0" y2="1458.0" stroke="#0000f5" stroke-width="5.4" stroke-linecap="round"/><polyline points="1352.2,1643.7 1353.6,1643.1 1355.0,1642.4 1356.4,1642.5 1357.8,1643.9 1359.2,1644.3 1360.5,1643.4 1361.9,1646.2 1363.3,1646.3 1364.7,1645.4 1366.1,1644.9 1367.5,1647.1 1368.9,1646.6 1370.3,1647.5 1371.7,1646.8 1373.1,1646.0 1374.6,1647.4 1376.0,1647.7 1377.4,1645.5 1378.8,1646.2 1380.2,1645.6 1381.6,1647.0 1383.0,1645.7 1384.5,1646.6 1385.9,1646.4 1387.3,1644.6 1388.7,1645.9 1390.1,1644.7 1391.5,1646.0 1393.0,1644.7 1393.7,1644.3 1394.5,1641.5 1395.3,1640.2 1396.1,1639.7 1396.8,1639.6 1397.6,1636.9 1398.4,1634.7 1398.5,1634.3 1398.6,1632.4 1398.6,1631.6 1398.7,1630.2 1398.8,1628.6 1398.9,1626.9 1398.9,1625.1 1399.0,1625.1 1399.1,1623.4 1399.2,1621.1 1399.3,1621.2 1399.3,1617.8 1399.4,1618.4 1399.5,1616.9 1399.6,1615.8 1399.7,1613.2 1399.7,1612.6 1399.8,1611.7 1399.9,1610.7 1400.0,1608.0 1400.1,1605.4 1400.1,1605.3 1400.2,1604.1 1400.2,1603.5 1400.3,1602.2 1400.3,1599.7 1400.4,1598.5 1400.4,1597.0 1400.4,1596.3 1400.5,1594.1 1400.5,1593.4 1400.5,1590.7 1400.6,1590.2 1400.6,1590.2 1400.6,1587.1 1400.7,1586.7 1400.7,1585.3 1400.8,1584.5 1400.8,1583.1 1400.8,1581.8 1400.9,1579.1 1400.9,1577.6 1400.9,1577.3 1401.0,1576.1 1401.0,1575.0 1401.0,1571.4 1401.1,1570.1 1401.1,1570.3 1401.2,1569.7 1401.2,1568.5 1401.2,1566.5 1401.3,1564.3 1401.3,1562.0 1401.3,1562.1 1401.4,1561.4 1401.4,1558.9 1401.4,1558.2 1401.5,1557.4 1401.5,1553.7 1401.5,1554.4 1401.6,1551.7 1401.6,1550.5 1401.7,1548.6 1401.7,1548.2 1401.7,1547.0 1401.8,1546.2 1401.8,1543.2 1401.8,1541.6 1401.9,1542.4 1401.9,1540.3 1401.9,1537.9 1402.0,1538.4 1402.0,1535.0 1402.3,1534.4 1402.6,1532.4 1402.9,1531.0 1403.2,1528.9 1403.4,1529.7 1403.7,1528.5 1404.0,1526.5 1404.3,1523.7 1404.6,1523.0 1404.9,1521.4 1405.1,1520.6 1405.4,1519.3 1405.7,1517.3 1406.0,1515.4 1406.3,1515.6 1406.6,1512.5 1406.9,1511.6 1407.3,1510.6 1407.7,1508.6 1408.1,1508.2 1408.4,1506.9 1408.8,1506.7 1409.2,1503.5 1409.6,1504.0 1410.0,1501.8 1410.3,1499.4 1410.7,1498.9 1411.1,1497.9 1412.6,1497.7 1414.1,1495.4 1415.6,1496.6 1417.1,1495.9 1418.6,1496.6 1420.1,1494.6 1421.0,1497.1 1421.8,1497.7 1422.7,1498.1 1423.5,1500.1 1424.4,1501.1 1425.2,1502.4 1426.1,1503.7 1426.9,1504.6 1427.3,1506.5 1427.6,1507.4 1428.0,1509.5 1428.3,1510.2 1428.7,1510.7 1429.0,1512.4 1429.4,1514.2 1429.7,1516.0 1430.1,1515.6 1430.4,1517.6 1430.8,1520.2 1431.1,1520.1 1431.5,1521.3 1431.7,1523.8 1431.9,1526.3 1432.2,1526.5 1432.4,1528.9 1432.6,1530.0 1432.8,1529.8 1433.1,1532.7 1433.3,1533.2 1433.5,1535.4 1433.7,1536.6 1434.0,1536.9 1434.2,1537.6 1434.4,1541.3 1434.6,1540.4 1434.9,1544.0 1435.1,1545.1 1435.3,1546.1 1435.6,1548.1 1435.8,1549.4 1436.0,1550.4 1436.3,1550.6 1436.6,1553.1 1436.9,1552.5 1437.1,1555.3 1437.4,1556.5 1437.7,1558.5 1438.0,1559.9 1438.3,1561.1 1438.6,1563.1 1438.8,1564.9 1439.1,1564.0 1439.4,1565.8 1439.7,1566.6 1440.0,1570.4 1440.3,1570.9 1440.5,1573.3 1441.2,1572.7 1441.8,1573.5 1442.4,1576.8 1443.0,1578.2 1443.6,1577.8 1444.2,1579.3 1444.9,1579.9 1445.5,1583.3 1446.1,1582.8 1446.7,1584.5 1447.3,1584.7 1448.7,1587.3 1450.0,1585.7 1451.4,1587.0 1452.8,1588.0 1454.1,1588.7" fill="none" stroke="#999999" stroke-width="7.5" stroke-linejoin="round" stroke-linecap="round" /><polyline points="1499.4,1639.1 1500.8,1637.6 1502.2,1638.4 1503.6,1636.7 1504.9,1637.3 1506.3,1636.4 1507.7,1637.4 1509.1,1637.1 1510.4,1638.5 1511.8,1635.9 1513.2,1636.7 1514.6,1636.8 1515.9,1638.1 1517.3,1637.8 1518.7,1635.7 1520.1,1637.2 1521.4,1636.7 1522.8,1637.8 1524.2,1636.0 1525.6,1636.1 1526.9,1635.4 1528.3,1635.2 1529.7,1637.0 1531.1,1635.9 1532.4,1636.4 1533.8,1636.2 1535.2,1636.0 1536.6,1634.4 1538.0,1636.4 1538.4,1633.6 1538.9,1632.0 1539.4,1631.9 1539.9,1629.3 1540.4,1629.9 1540.9,1627.1 1541.4,1625.8 1541.8,1626.3 1542.3,1623.5 1542.8,1621.7 1543.3,1622.5 1543.8,1618.7 1544.3,1619.8 1544.7,1616.5 1544.8,1615.1 1544.9,1614.1 1545.0,1612.5 1545.0,1612.4 1545.1,1609.4 1545.2,1608.0 1545.3,1608.7 1545.3,1605.8 1545.4,1604.7 1545.5,1602.9 1545.6,1601.2 1545.6,1601.7 1545.7,1599.8 1545.8,1599.0 1545.9,1596.9 1545.9,1596.3 1546.0,1594.2 1546.1,1591.8 1546.1,1591.5 1546.2,1591.3 1546.3,1587.5 1546.4,1588.1 1546.4,1587.0 1546.5,1584.7 1546.6,1583.1 1546.7,1583.1 1546.7,1579.3 1546.8,1579.1 1546.9,1577.5 1547.0,1576.9 1547.0,1575.0 1547.1,1574.8 1547.2,1571.1 1547.3,1569.8 1547.3,1569.8 1547.4,1567.0 1547.5,1566.2 1547.6,1565.8 1547.6,1564.2 1547.7,1562.2 1547.8,1562.7 1547.8,1560.0 1547.9,1558.5 1548.0,1557.5 1548.1,1554.8 1548.2,1555.0 1548.2,1554.1 1548.3,1552.1 1548.4,1551.1 1548.5,1549.6 1548.6,1546.8 1548.7,1546.1 1548.7,1544.1 1548.8,1543.0 1548.9,1542.0 1549.0,1540.5 1549.1,1538.3 1549.2,1537.8 1549.2,1537.1 1549.3,1534.9 1549.4,1532.9 1549.5,1533.6 1549.6,1529.9 1549.7,1530.7 1549.7,1527.3 1549.8,1525.9 1549.9,1526.3 1550.0,1525.1 1550.1,1523.0 1550.1,1521.7 1550.2,1520.3 1550.3,1518.3 1550.4,1516.4 1550.5,1515.6 1550.6,1515.1 1550.6,1514.0 1550.9,1512.9 1551.1,1511.2 1551.3,1510.5 1551.5,1508.1 1551.8,1506.1 1552.0,1505.3 1552.2,1503.0 1552.5,1502.8 1552.7,1500.3 1552.9,1498.6 1553.1,1499.3 1553.4,1496.6 1553.6,1496.3 1553.8,1494.4 1554.0,1493.7 1554.3,1492.5 1554.5,1491.5 1554.7,1489.7 1554.9,1487.8 1555.2,1486.5 1555.8,1483.5 1556.4,1484.7 1557.0,1483.2 1557.6,1480.4 1558.2,1478.9 1558.8,1479.1 1559.4,1476.8 1560.0,1475.6 1560.6,1473.4 1562.0,1476.3 1563.3,1476.1 1564.7,1476.2 1566.0,1476.1 1566.3,1478.8 1566.5,1478.6 1566.7,1481.9 1567.0,1481.9 1567.2,1483.9 1567.4,1485.1 1567.6,1486.6 1567.9,1489.0 1568.1,1490.5 1568.3,1491.4 1568.5,1491.5 1568.8,1492.8 1569.0,1494.5 1569.2,1497.2 1569.4,1498.7 1569.7,1499.1 1569.8,1501.5 1569.9,1502.4 1570.0,1503.6 1570.1,1504.6 1570.2,1507.2 1570.3,1506.9 1570.4,1509.1 1570.5,1510.1 1570.7,1512.5 1570.8,1513.4 1570.9,1515.2 1571.0,1514.9 1571.1,1517.2 1571.2,1519.2 1571.3,1518.9 1571.4,1521.1 1571.5,1522.2 1571.6,1523.4 1571.8,1525.1 1571.9,1526.7 1572.0,1527.2 1572.1,1530.6 1572.2,1530.4 1572.3,1532.3 1572.4,1534.6 1572.5,1535.4 1572.6,1537.7 1572.7,1539.0 1572.9,1538.3 1573.0,1541.9 1573.1,1541.0 1573.2,1542.3 1573.3,1546.1 1573.4,1547.4 1573.5,1547.9 1573.6,1549.3 1573.7,1551.1 1573.8,1551.6 1573.9,1552.2 1574.0,1553.3 1574.1,1555.5 1574.2,1558.2 1574.3,1559.0 1574.4,1561.0 1574.4,1562.6 1574.5,1561.7 1574.6,1565.2 1574.7,1564.9 1574.8,1567.2 1574.9,1568.4 1575.0,1569.4 1575.1,1570.6 1575.2,1572.0 1575.3,1573.4 1575.4,1574.3 1575.5,1576.6 1575.6,1576.9 1575.7,1579.3 1575.8,1581.8 1575.9,1581.7 1576.0,1584.1 1576.1,1585.7 1576.2,1587.0 1576.3,1586.8 1576.4,1588.0 1576.5,1589.5 1576.8,1591.9 1577.1,1593.7 1577.5,1594.8 1577.8,1594.9 1578.2,1597.8 1578.5,1598.4 1578.8,1600.5 1579.2,1601.9 1579.5,1602.4 1579.9,1605.0 1580.2,1605.4 1580.5,1607.0 1580.9,1608.3 1581.2,1610.3 1581.6,1611.0 1581.9,1611.1 1582.2,1612.2 1582.6,1614.6 1582.9,1615.6 1583.3,1616.9 1584.6,1616.9 1585.9,1618.8 1587.1,1618.9 1588.4,1619.9 1589.7,1619.5 1591.0,1622.3 1592.3,1620.9 1593.8,1623.4 1595.3,1623.7 1596.9,1623.5 1598.4,1623.6 1599.9,1623.8 1601.4,1624.4" fill="none" stroke="#999999" stroke-width="7.5" stroke-linejoin="round" stroke-linecap="round" /><polyline points="1621.8,1638.7 1623.1,1639.0 1624.5,1637.9 1625.9,1639.0 1627.2,1638.7 1628.6,1637.8 1629.9,1638.4 1631.3,1637.6 1632.7,1637.4 1634.0,1637.6 1635.4,1639.9 1636.7,1638.5 1638.1,1639.5 1639.4,1639.1 1640.8,1638.3 1642.2,1638.6 1643.5,1639.2 1644.9,1639.3 1646.2,1639.6 1647.6,1638.7 1649.0,1639.3 1650.3,1639.2 1651.7,1639.6 1653.0,1639.5 1654.4,1640.3 1655.8,1640.9 1657.2,1640.3 1658.6,1638.4 1660.0,1638.2 1661.4,1639.5 1662.8,1638.1 1664.3,1639.1 1665.7,1638.6 1667.1,1639.0 1668.5,1638.6 1669.9,1636.9 1671.3,1637.3 1672.8,1635.8 1674.2,1636.1 1675.6,1637.5 1677.0,1636.4 1678.4,1635.3 1678.5,1634.5 1678.6,1634.1 1678.7,1631.0 1678.9,1629.8 1679.0,1629.5 1679.1,1628.2 1679.2,1626.5 1679.3,1625.5 1679.4,1623.9 1679.5,1622.4 1679.6,1620.6 1679.7,1619.5 1679.8,1617.6 1680.0,1616.0 1680.1,1614.6 1680.2,1612.8 1680.3,1611.5 1680.4,1612.1 1680.5,1609.5 1680.6,1607.4 1680.7,1605.8 1680.8,1604.3 1680.9,1605.0 1681.1,1601.6 1681.2,1602.0 1681.3,1600.8 1681.4,1599.6 1681.5,1595.9 1681.6,1595.4 1681.7,1595.1 1681.8,1592.0 1681.9,1591.3 1682.0,1589.4 1682.1,1589.8 1682.2,1588.3 1682.3,1587.1 1682.4,1584.0 1682.4,1583.3 1682.5,1581.9 1682.6,1581.3 1682.7,1578.7 1682.8,1577.9 1682.8,1576.1 1682.9,1576.0 1683.0,1573.9 1683.1,1572.7 1683.1,1570.8 1683.2,1570.8 1683.3,1568.5 1683.4,1568.1 1683.5,1565.5 1683.5,1565.7 1683.6,1564.4 1683.7,1561.7 1683.8,1559.8 1683.9,1558.7 1683.9,1557.8 1684.0,1557.6 1684.1,1555.8 1684.2,1554.4 1684.3,1551.3 1684.3,1550.2 1684.4,1549.9 1684.5,1549.2 1684.6,1547.0 1684.7,1544.4 1684.7,1545.0 1684.8,1543.7 1684.9,1540.8 1685.0,1540.7 1685.1,1538.0 1685.1,1538.4 1685.2,1535.0 1685.5,1534.3 1685.8,1534.3 1686.1,1530.9 1686.3,1530.1 1686.6,1528.4 1686.9,1526.1 1687.2,1524.8 1687.5,1524.6 1687.8,1522.5 1688.0,1523.1 1688.3,1520.0 1688.6,1517.7 1688.9,1518.7 1689.2,1517.0 1689.5,1515.1 1689.7,1514.1 1691.3,1511.2 1692.9,1510.4 1693.0,1513.3 1693.1,1514.3 1693.1,1514.2 1693.2,1517.1 1693.3,1517.8 1693.3,1517.9 1693.4,1519.5 1693.5,1521.4 1693.6,1524.3 1693.6,1524.9 1693.7,1526.8 1693.8,1527.6 1693.8,1527.9 1693.9,1529.7 1694.0,1531.1 1694.1,1531.8 1694.1,1534.2 1694.2,1536.6 1694.3,1537.1 1694.3,1537.5 1694.4,1541.0 1694.5,1541.6 1694.5,1541.4 1694.6,1544.1 1694.7,1544.7 1694.8,1545.8 1694.8,1548.0 1694.9,1549.9 1695.0,1550.2 1695.0,1552.1 1695.1,1554.1 1695.2,1554.0 1695.3,1557.7 1695.3,1556.7 1695.4,1559.3 1695.5,1560.6 1695.5,1563.3 1695.6,1563.5 1695.7,1564.4 1695.8,1566.0 1695.8,1567.8 1695.9,1570.2 1696.0,1569.6 1696.0,1570.3 1696.1,1573.8 1696.2,1573.9 1696.3,1576.4 1696.3,1577.5 1696.4,1579.2 1696.5,1580.5 1696.5,1580.8 1696.7,1581.4 1696.8,1584.1 1697.0,1586.2 1697.1,1585.9 1697.2,1588.9 1697.4,1589.4 1697.5,1591.4 1697.6,1592.6 1697.8,1594.4 1697.9,1593.8 1698.0,1597.1 1698.2,1597.6 1698.3,1598.5 1698.5,1599.2 1698.6,1601.0 1698.7,1602.0 1698.9,1605.8 1699.0,1606.0 1699.1,1608.7 1699.3,1608.8 1699.4,1609.4 1699.6,1612.1 1699.7,1612.0 1699.8,1613.8 1700.0,1616.3 1700.1,1617.9 1700.2,1617.9 1700.4,1618.7 1700.5,1620.7 1700.7,1623.5 1700.8,1624.5 1700.9,1626.3 1701.1,1626.2 1702.1,1628.8 1703.1,1628.6 1704.1,1629.6 1705.1,1631.7 1706.1,1631.6 1707.1,1633.4 1708.1,1634.2 1709.1,1633.5 1710.1,1635.9 1711.5,1636.9 1712.9,1636.6 1714.2,1636.5 1715.6,1636.3 1716.9,1638.3 1718.3,1637.8 1719.6,1639.1 1721.0,1639.0 1722.4,1640.2 1723.7,1639.7" fill="none" stroke="#999999" stroke-width="7.5" stroke-linejoin="round" stroke-linecap="round" /><polyline points="1746.4,1638.9 1747.8,1641.2 1749.1,1639.7 1750.5,1641.5 1751.9,1639.5 1753.3,1641.5 1754.7,1641.4 1756.0,1639.0 1757.4,1640.5 1758.8,1639.8 1760.2,1641.0 1761.5,1640.6 1762.9,1641.4 1764.3,1639.2 1765.7,1640.4 1767.1,1640.9 1768.4,1638.9 1769.8,1639.0 1771.2,1640.9 1772.6,1639.8 1774.0,1639.8 1775.3,1640.3 1776.7,1640.4 1778.1,1640.6 1778.9,1640.2 1779.8,1637.5 1780.6,1637.5 1781.4,1635.8 1782.3,1634.6 1783.1,1633.1 1783.9,1632.6 1784.7,1630.4 1785.6,1628.9 1786.4,1629.5 1787.2,1627.7 1788.1,1626.2 1788.1,1625.4 1788.2,1623.2 1788.3,1621.8 1788.3,1621.0 1788.4,1621.1 1788.5,1617.8 1788.5,1618.2 1788.6,1615.7 1788.7,1613.3 1788.7,1613.9 1788.8,1611.5 1788.9,1611.3 1788.9,1608.7 1789.0,1606.4 1789.1,1606.7 1789.1,1605.7 1789.2,1603.0 1789.3,1601.7 1789.3,1599.5 1789.4,1599.5 1789.4,1599.1 1789.5,1597.6 1789.6,1595.9 1789.6,1595.1 1789.7,1592.9 1789.8,1592.0 1789.8,1589.9 1789.9,1587.5 1790.0,1586.3 1790.0,1584.8 1790.1,1585.2 1790.2,1581.8 1790.2,1581.8 1790.3,1580.0 1790.4,1579.8 1790.4,1577.8 1790.5,1576.6 1790.6,1573.8 1790.6,1573.0 1790.7,1573.5 1790.8,1571.4 1790.8,1569.5 1790.9,1568.8 1791.0,1567.6 1791.0,1564.2 1791.1,1565.3 1791.2,1563.1 1791.2,1561.2 1791.3,1560.4 1791.4,1558.2 1791.4,1558.3 1791.5,1556.6 1791.6,1554.9 1791.6,1552.3 1791.7,1553.1 1793.2,1552.4 1794.7,1554.4 1796.2,1552.8 1796.5,1551.7 1796.9,1550.4 1797.2,1549.1 1797.5,1548.2 1797.8,1548.0 1798.1,1545.6 1798.5,1545.9 1798.8,1544.5 1799.1,1543.0 1799.4,1540.1 1799.7,1539.8 1800.1,1538.2 1800.4,1535.7 1800.7,1534.9 1801.0,1534.2 1801.3,1532.7 1801.7,1530.5 1802.6,1533.7 1803.6,1532.7 1804.6,1535.2 1805.6,1536.5 1806.6,1537.3 1807.5,1539.1 1807.7,1539.7 1807.9,1541.8 1808.1,1541.0 1808.3,1542.4 1808.5,1545.4 1808.6,1546.6 1808.8,1548.1 1809.0,1549.8 1809.2,1550.2 1809.4,1552.2 1809.5,1553.1 1809.7,1554.9 1809.9,1555.3 1810.1,1558.5 1810.3,1558.5 1810.4,1560.8 1810.6,1561.8 1810.8,1562.1 1811.0,1562.9 1811.2,1564.2 1811.4,1566.6 1811.5,1568.1 1811.7,1568.7 1811.9,1571.1 1812.1,1571.7 1812.3,1574.1 1812.5,1575.5 1812.8,1577.2 1813.0,1578.9 1813.2,1578.0 1813.4,1580.0 1813.7,1581.9 1813.9,1582.6 1814.1,1584.3 1814.3,1585.1 1814.6,1586.4 1814.8,1587.4 1815.0,1589.3 1815.3,1590.9 1815.5,1592.9 1815.7,1593.2 1815.9,1596.3 1816.2,1595.7 1816.4,1597.5 1816.6,1599.6 1816.8,1600.2 1817.1,1602.8 1817.3,1603.4 1817.5,1604.8 1817.7,1606.2 1818.0,1607.0 1818.2,1607.6 1818.4,1611.5 1818.6,1611.6 1818.9,1614.2 1819.1,1613.5 1819.3,1615.3 1819.6,1615.8 1819.8,1618.4 1820.0,1620.8 1820.2,1621.5 1820.5,1622.4 1820.7,1623.9 1820.9,1626.1 1821.1,1626.4 1822.6,1628.2 1824.0,1628.3 1825.4,1629.0 1826.8,1628.5 1828.2,1629.1 1829.6,1630.1 1831.1,1629.7 1832.5,1631.2 1833.8,1629.3 1835.1,1629.8 1836.4,1629.9 1837.6,1627.9 1838.9,1629.2 1840.2,1627.7 1841.5,1625.5 1841.9,1626.5 1842.3,1623.5 1842.6,1623.3 1843.0,1620.7 1843.3,1620.9 1843.7,1619.1 1844.1,1616.2 1844.4,1615.7 1844.8,1614.3 1845.2,1611.7 1845.5,1613.3 1845.9,1615.1 1846.3,1616.9 1846.7,1618.1 1847.0,1619.9 1847.4,1620.9 1847.8,1621.7 1848.2,1623.8 1848.6,1623.9 1848.9,1627.5 1849.3,1628.1 1849.7,1628.3" fill="none" stroke="#999999" stroke-width="7.5" stroke-linejoin="round" stroke-linecap="round" /><polygon points="1352.0,1609.8 1355.0,1606.7 1358.1,1608.0 1361.1,1607.2 1364.1,1610.0 1367.1,1606.3 1370.2,1606.7 1373.2,1608.3 1376.2,1609.4 1379.3,1606.0 1382.3,1610.4 1385.3,1605.8 1388.4,1609.4 1391.4,1610.4 1394.4,1597.8 1397.4,1598.8 1400.5,1598.9 1403.5,1598.6 1406.5,1595.8 1409.6,1596.8 1412.6,1605.5 1415.6,1609.9 1418.6,1606.9 1421.7,1605.8 1424.7,1606.3 1427.7,1609.0 1430.8,1606.1 1433.8,1608.0 1436.8,1610.3 1439.9,1606.5 1442.9,1609.6 1445.9,1607.0 1448.9,1608.6 1452.0,1608.0 1455.0,1607.9 1455.0,1631.5 1452.0,1633.4 1448.9,1631.7 1445.9,1632.9 1442.9,1632.2 1439.9,1631.6 1436.8,1630.7 1433.8,1632.4 1430.8,1633.7 1427.7,1632.4 1424.7,1632.9 1421.7,1631.6 1418.6,1633.1 1415.6,1631.2 1412.6,1633.8 1409.6,1640.9 1406.5,1642.8 1403.5,1640.1 1400.5,1642.3 1397.4,1641.2 1394.4,1642.5 1391.4,1630.6 1388.4,1631.6 1385.3,1631.4 1382.3,1632.2 1379.3,1629.7 1376.2,1634.2 1373.2,1633.1 1370.2,1629.5 1367.1,1631.7 1364.1,1629.6 1361.1,1633.4 1358.1,1631.7 1355.0,1630.8 1352.0,1633.7" fill="#000"/><polygon points="1499.4,1623.6 1502.4,1628.1 1505.4,1624.2 1508.4,1625.1 1511.4,1625.4 1514.4,1625.5 1517.4,1626.2 1520.4,1624.8 1523.4,1623.7 1526.4,1626.2 1529.4,1628.2 1532.4,1626.1 1535.4,1626.5 1538.4,1625.8 1541.4,1627.2 1544.4,1626.8 1547.4,1625.8 1550.4,1625.0 1553.4,1623.9 1556.4,1624.7 1559.4,1624.6 1562.4,1626.6 1565.4,1623.6 1568.4,1624.6 1571.4,1626.1 1574.4,1625.9 1577.4,1625.9 1580.4,1626.6 1583.4,1623.9 1586.4,1625.6 1589.4,1624.8 1592.4,1627.3 1595.4,1624.9 1598.4,1623.9 1601.4,1623.8 1601.4,1648.9 1598.4,1648.7 1595.4,1648.2 1592.4,1649.0 1589.4,1649.8 1586.4,1652.0 1583.4,1649.7 1580.4,1651.8 1577.4,1651.6 1574.4,1652.0 1571.4,1650.1 1568.4,1651.0 1565.4,1648.2 1562.4,1652.3 1559.4,1651.3 1556.4,1651.9 1553.4,1651.4 1550.4,1648.3 1547.4,1652.4 1544.4,1648.1 1541.4,1647.5 1538.4,1650.2 1535.4,1651.9 1532.4,1649.0 1529.4,1647.5 1526.4,1648.7 1523.4,1650.1 1520.4,1652.4 1517.4,1649.4 1514.4,1648.2 1511.4,1650.4 1508.4,1648.9 1505.4,1651.1 1502.4,1647.8 1499.4,1652.1" fill="#000"/><polygon points="1621.8,1612.7 1624.9,1612.1 1628.0,1610.8 1631.1,1613.8 1634.2,1612.6 1637.2,1608.9 1640.3,1609.7 1643.4,1610.7 1646.5,1610.7 1649.6,1611.3 1652.7,1610.5 1655.8,1610.1 1658.9,1612.4 1661.9,1609.6 1665.0,1610.3 1668.1,1610.3 1671.2,1611.9 1674.3,1611.7 1677.4,1609.5 1680.5,1603.2 1683.6,1599.1 1686.6,1610.8 1689.7,1611.4 1692.8,1612.1 1695.9,1611.0 1699.0,1610.5 1702.1,1609.6 1705.2,1610.5 1708.3,1609.6 1711.3,1609.4 1714.4,1610.3 1717.5,1609.7 1720.6,1612.5 1723.7,1609.6 1723.7,1636.8 1720.6,1632.2 1717.5,1634.8 1714.4,1633.0 1711.3,1634.7 1708.3,1636.7 1705.2,1632.7 1702.1,1636.9 1699.0,1636.5 1695.9,1636.4 1692.8,1634.8 1689.7,1633.8 1686.6,1633.4 1683.6,1644.1 1680.5,1643.0 1677.4,1632.4 1674.3,1636.6 1671.2,1635.9 1668.1,1636.5 1665.0,1636.3 1661.9,1634.3 1658.9,1632.1 1655.8,1634.9 1652.7,1632.2 1649.6,1635.6 1646.5,1636.2 1643.4,1632.7 1640.3,1634.3 1637.2,1634.3 1634.2,1633.1 1631.1,1636.1 1628.0,1632.2 1624.9,1634.9 1621.8,1634.6" fill="#000"/><polygon points="1746.4,1618.6 1749.5,1617.8 1752.6,1619.5 1755.6,1615.2 1758.7,1616.0 1761.8,1617.1 1764.9,1618.9 1768.0,1618.7 1771.0,1615.7 1774.1,1615.8 1777.2,1618.3 1780.3,1616.1 1783.4,1615.4 1786.4,1616.8 1789.5,1617.3 1792.6,1617.4 1795.7,1615.1 1798.8,1617.1 1801.8,1615.3 1804.9,1615.4 1808.0,1617.3 1811.1,1616.8 1814.2,1619.0 1817.2,1615.7 1820.3,1619.6 1823.4,1618.4 1823.4,1640.5 1820.3,1640.9 1817.2,1638.0 1814.2,1639.3 1811.1,1640.0 1808.0,1639.9 1804.9,1642.0 1801.8,1640.7 1798.8,1639.3 1795.7,1642.1 1792.6,1638.2 1789.5,1638.7 1786.4,1641.2 1783.4,1638.2 1780.3,1642.1 1777.2,1640.9 1774.1,1638.8 1771.0,1641.8 1768.0,1642.4 1764.9,1638.3 1761.8,1639.2 1758.7,1638.9 1755.6,1641.8 1752.6,1639.8 1749.5,1638.6 1746.4,1638.3" fill="#000"/><polyline points="1823.0,1628.0 1826.0,1620.0 1829.0,1600.0 1831.0,1560.0 1834.0,1540.0 1840.0,1538.0 1846.0,1533.0 1850.0,1530.0" fill="none" stroke="#000" stroke-width="8" stroke-linejoin="round" stroke-linecap="round" /><polygon points="1830.0,1529.1 1833.3,1529.6 1836.7,1529.3 1840.0,1524.9 1843.3,1525.4 1846.7,1526.7 1850.0,1523.2 1850.0,1539.8 1846.7,1540.3 1843.3,1542.1 1840.0,1540.8 1836.7,1543.3 1833.3,1545.6 1830.0,1544.5" fill="#000"/><line x1="1747.7" y1="1721.7" x2="1747.7" y2="1691.5" stroke="#000" stroke-width="3" /><polygon points="1747.7,1685.5 1741.7,1695.5 1753.7,1695.5" fill="#000" opacity="1"/><line x1="1802.1" y1="1710.4" x2="1802.1" y2="1684.7" stroke="#000" stroke-width="3" /><polygon points="1802.1,1678.7 1796.1,1688.7 1808.1,1688.7" fill="#000" opacity="1"/><line x1="1843.8" y1="1710.4" x2="1843.8" y2="1684.7" stroke="#000" stroke-width="3" /><polygon points="1843.8,1678.7 1837.8,1688.7 1849.8,1688.7" fill="#000" opacity="1"/><text x="1.8" y="1799" font-size="66" font-weight="bold" font-style="normal" fill="#000" text-anchor="start" >g</text><text x="251.4" y="1801.0" font-size="32.5" font-weight="bold" font-style="normal" fill="#000" text-anchor="middle">Hensen's cells</text><line x1="243.4" y1="1845.6" x2="243.4" y2="2247.8" stroke="#8c8c8c" stroke-width="2.2" /><line x1="236.9" y1="1845.6" x2="243.4" y2="1845.6" stroke="#8c8c8c" stroke-width="2.2" /><text x="231.5" y="1856.2" font-size="27" font-weight="normal" font-style="normal" fill="#000" text-anchor="end">0.2</text><line x1="236.9" y1="1912.6" x2="243.4" y2="1912.6" stroke="#8c8c8c" stroke-width="2.2" /><line x1="236.9" y1="1979.7" x2="243.4" y2="1979.7" stroke="#8c8c8c" stroke-width="2.2" /><text x="231.5" y="1990.3" font-size="27" font-weight="normal" font-style="normal" fill="#000" text-anchor="end">-0.2</text><line x1="236.9" y1="2046.7" x2="243.4" y2="2046.7" stroke="#8c8c8c" stroke-width="2.2" /><text x="231.5" y="2057.3" font-size="27" font-weight="normal" font-style="normal" fill="#000" text-anchor="end">-0.4</text><line x1="236.9" y1="2113.7" x2="243.4" y2="2113.7" stroke="#8c8c8c" stroke-width="2.2" /><text x="231.5" y="2124.3" font-size="27" font-weight="normal" font-style="normal" fill="#000" text-anchor="end">-0.6</text><line x1="236.9" y1="2180.8" x2="243.4" y2="2180.8" stroke="#8c8c8c" stroke-width="2.2" /><text x="231.5" y="2191.4" font-size="27" font-weight="normal" font-style="normal" fill="#000" text-anchor="end">-0.8</text><line x1="236.9" y1="2247.8" x2="243.4" y2="2247.8" stroke="#8c8c8c" stroke-width="2.2" /><text x="231.5" y="2258.4" font-size="27" font-weight="normal" font-style="normal" fill="#000" text-anchor="end">-1.0</text><line x1="43.5" y1="1913.5" x2="441.7" y2="1913.5" stroke="#8c8c8c" stroke-width="2.2" /><line x1="43.5" y1="1908.5" x2="43.5" y2="1913.5" stroke="#8c8c8c" stroke-width="2.2" /><line x1="441.7" y1="1908.5" x2="441.7" y2="1913.5" stroke="#8c8c8c" stroke-width="2.2" /><text x="38.4" y="1948.8" font-size="27" font-weight="normal" font-style="normal" fill="#000" text-anchor="middle">-100</text><text x="141.3" y="1948.8" font-size="27" font-weight="normal" font-style="normal" fill="#000" text-anchor="middle">-50</text><text x="344.5" y="1948.8" font-size="27" font-weight="normal" font-style="normal" fill="#000" text-anchor="middle">50</text><text x="445.4" y="1948.8" font-size="27" font-weight="normal" font-style="normal" fill="#000" text-anchor="middle">100</text><text x="255.5" y="1842.3" font-size="32.5" font-weight="normal">I<tspan font-style="italic" font-size="23.4" dy="5.5">TRPA1</tspan><tspan dy="-5.5"> (nA)</tspan></text><text x="457.5" y="1982.3" font-size="32" font-weight="normal" font-style="normal" fill="#000" text-anchor="middle">V (mV)</text><polygon points="62.4,2034.9 63.5,2032.2 64.6,2030.2 65.7,2030.2 66.7,2025.3 68.6,2024.5 70.4,2024.9 72.2,2023.7 74.0,2024.4 75.8,2022.7 77.6,2020.4 79.4,2019.4 81.3,2019.0 82.9,2019.4 84.5,2017.3 86.1,2013.5 87.7,2014.2 89.3,2012.0 90.9,2011.5 92.5,2008.6 94.2,2006.5 95.8,2006.7 97.4,2006.1 99.0,2004.3 100.6,2003.9 102.2,2001.6 103.8,1998.9 105.4,1999.1 107.0,1996.6 108.7,1994.5 110.3,1993.9 111.9,1994.8 113.5,1992.5 115.1,1992.3 116.7,1990.5 118.3,1989.1 119.9,1985.6 121.6,1986.1 123.2,1984.3 124.8,1984.2 126.2,1980.7 127.7,1981.6 129.1,1979.9 130.6,1976.9 132.0,1976.3 133.5,1974.2 134.9,1973.5 136.4,1972.7 137.8,1969.4 139.3,1969.6 140.9,1965.8 142.5,1966.3 144.1,1964.4 145.7,1963.5 147.4,1963.4 149.0,1962.2 150.6,1958.5 152.2,1957.5 153.8,1956.6 155.4,1956.8 157.0,1955.4 158.6,1953.7 160.3,1950.3 161.9,1949.1 163.5,1949.2 165.1,1948.0 166.7,1946.9 168.3,1945.7 169.9,1942.7 171.5,1942.8 173.1,1942.7 174.8,1939.3 176.4,1939.3 178.0,1936.8 179.6,1935.8 181.2,1935.4 182.8,1934.4 184.4,1931.6 186.0,1931.8 187.7,1929.4 189.3,1930.0 190.9,1928.0 192.5,1926.1 194.1,1924.3 195.7,1923.9 197.3,1921.4 199.4,1921.7 201.5,1919.4 203.5,1918.2 205.6,1918.8 207.7,1919.0 209.8,1915.8 211.8,1915.7 213.9,1915.0 216.0,1914.2 218.1,1914.0 220.1,1913.5 222.2,1912.8 224.3,1914.0 226.3,1912.1 228.4,1912.4 230.5,1910.7 232.6,1910.8 234.6,1911.6 236.7,1910.4 238.8,1910.4 240.9,1909.2 242.7,1907.8 244.5,1908.0 246.3,1907.8 248.1,1906.1 249.9,1905.7 251.7,1904.0 253.6,1902.4 255.4,1901.7 257.4,1900.7 259.5,1899.2 261.6,1898.4 263.7,1898.9 265.7,1897.4 267.8,1895.5 269.9,1895.7 271.9,1894.5 273.9,1896.6 276.0,1894.8 278.0,1894.5 280.0,1894.9 282.1,1895.1 284.1,1892.6 286.1,1892.3 288.2,1893.1 290.2,1891.7 292.3,1893.3 294.3,1891.4 296.4,1893.4 298.5,1893.8 300.6,1892.8 302.6,1891.6 304.7,1893.8 306.8,1893.0 308.8,1891.3 310.9,1892.8 313.0,1890.5 315.1,1891.5 317.1,1891.3 319.2,1890.9 321.3,1890.8 323.4,1891.3 325.4,1892.0 327.5,1891.3 329.6,1890.4 331.6,1892.4 333.7,1891.1 335.8,1889.7 337.9,1892.2 339.9,1890.8 342.0,1889.9 344.1,1890.5 346.2,1890.7 348.2,1889.1 350.3,1891.0 352.4,1891.9 354.4,1890.2 356.5,1891.7 358.6,1890.0 360.7,1891.5 362.7,1891.7 364.8,1892.9 366.9,1891.1 369.0,1893.1 371.0,1891.6 373.1,1894.1 375.2,1891.5 377.2,1892.5 379.4,1892.2 381.5,1892.9 383.6,1892.9 385.7,1894.3 387.8,1894.8 389.9,1894.2 392.0,1893.7 394.1,1895.3 396.2,1895.6 398.4,1894.2 400.5,1893.4 400.5,1906.5 398.4,1908.2 396.2,1906.0 394.1,1906.8 392.0,1905.7 389.9,1905.9 387.8,1907.1 385.7,1907.9 383.6,1905.4 381.5,1907.7 379.4,1905.4 377.2,1904.8 375.2,1907.4 373.1,1906.4 371.0,1906.0 369.0,1906.2 366.9,1903.8 364.8,1905.1 362.7,1904.1 360.7,1904.6 358.6,1903.2 356.5,1904.9 354.4,1903.6 352.4,1904.6 350.3,1904.4 348.2,1902.3 346.2,1903.0 344.1,1904.6 342.0,1903.9 339.9,1903.8 337.9,1904.6 335.8,1904.0 333.7,1905.2 331.6,1903.3 329.6,1904.4 327.5,1903.8 325.4,1904.4 323.4,1904.0 321.3,1904.0 319.2,1903.5 317.1,1905.1 315.1,1904.8 313.0,1904.3 310.9,1904.0 308.8,1904.4 306.8,1906.6 304.7,1905.5 302.6,1906.5 300.6,1905.0 298.5,1906.1 296.4,1905.7 294.3,1905.9 292.3,1905.5 290.2,1906.1 288.2,1905.7 286.1,1907.9 284.1,1906.6 282.1,1906.6 280.0,1907.4 278.0,1909.0 276.0,1907.1 273.9,1908.6 271.9,1907.2 269.9,1908.6 267.8,1911.2 265.7,1910.9 263.7,1910.4 261.6,1912.8 259.5,1912.9 257.4,1915.4 255.4,1914.3 253.6,1914.5 251.7,1915.2 249.9,1918.5 248.1,1918.2 246.3,1919.1 244.5,1921.5 242.7,1921.4 240.9,1921.7 238.8,1921.1 236.7,1921.9 234.6,1922.2 232.6,1922.9 230.5,1922.8 228.4,1925.1 226.3,1925.4 224.3,1924.6 222.2,1926.9 220.1,1927.7 218.1,1927.2 216.0,1928.3 213.9,1927.7 211.8,1930.0 209.8,1930.1 207.7,1932.0 205.6,1931.9 203.5,1934.0 201.5,1934.0 199.4,1935.3 197.3,1936.1 195.7,1936.8 194.1,1938.6 192.5,1939.9 190.9,1940.8 189.3,1941.7 187.7,1943.1 186.0,1945.5 184.4,1946.0 182.8,1946.7 181.2,1948.6 179.6,1950.1 178.0,1951.2 176.4,1952.7 174.8,1954.3 173.1,1953.8 171.5,1955.3 169.9,1957.4 168.3,1959.8 166.7,1958.6 165.1,1960.3 163.5,1962.9 161.9,1963.4 160.3,1965.8 158.6,1965.9 157.0,1968.4 155.4,1968.5 153.8,1970.8 152.2,1972.6 150.6,1971.4 149.0,1973.8 147.4,1976.4 145.7,1976.2 144.1,1978.7 142.5,1978.2 140.9,1980.4 139.3,1980.2 137.8,1984.5 136.4,1983.4 134.9,1984.9 133.5,1986.8 132.0,1990.1 130.6,1991.5 129.1,1991.2 127.7,1994.5 126.2,1995.7 124.8,1996.8 123.2,1998.2 121.6,1998.2 119.9,2001.3 118.3,2002.0 116.7,2003.9 115.1,2002.4 113.5,2005.3 111.9,2007.2 110.3,2008.7 108.7,2007.5 107.0,2008.9 105.4,2011.5 103.8,2012.8 102.2,2013.6 100.6,2015.9 99.0,2017.0 97.4,2016.7 95.8,2018.3 94.2,2020.1 92.5,2023.6 90.9,2025.0 89.3,2025.6 87.7,2027.9 86.1,2029.1 84.5,2028.6 82.9,2032.0 81.3,2031.2 79.4,2032.2 77.6,2033.1 75.8,2036.3 74.0,2035.1 72.2,2037.1 70.4,2037.0 68.6,2037.5 66.7,2040.0 65.7,2041.7 64.6,2045.2 63.5,2047.5 62.4,2049.0" fill="#808080"/><polygon points="62.4,1903.5 64.4,1904.9 66.4,1907.0 68.4,1904.9 70.4,1905.4 72.4,1905.8 74.4,1903.8 76.4,1904.6 78.4,1906.2 80.5,1903.4 82.5,1903.4 84.5,1903.2 86.5,1906.6 88.5,1903.4 90.5,1906.6 92.5,1904.2 94.5,1902.8 96.5,1906.1 98.5,1905.4 100.5,1902.9 102.5,1904.1 104.5,1903.4 106.5,1906.9 108.6,1904.3 110.6,1904.4 112.6,1903.1 114.6,1906.5 116.6,1905.6 118.6,1904.9 120.6,1906.1 122.6,1903.9 124.6,1903.5 126.6,1905.5 128.6,1904.2 130.6,1905.3 132.6,1906.5 134.6,1906.8 136.7,1903.7 138.7,1902.6 140.7,1902.6 142.7,1904.0 144.7,1905.0 146.7,1903.5 148.7,1904.9 150.7,1905.2 152.7,1903.7 154.7,1904.8 156.7,1906.3 158.7,1906.5 160.7,1905.4 162.7,1905.0 164.8,1905.9 166.8,1903.1 168.8,1905.8 170.8,1904.9 172.8,1905.3 174.8,1903.4 176.8,1904.1 178.8,1902.9 180.8,1904.3 182.8,1905.2 184.8,1903.5 186.8,1905.7 188.8,1905.0 190.8,1906.9 192.9,1906.5 194.9,1905.4 196.9,1903.2 198.9,1906.2 200.9,1904.3 202.9,1903.5 204.9,1904.8 206.9,1906.6 208.9,1906.4 210.9,1904.3 212.9,1904.2 214.9,1906.6 216.9,1905.0 218.9,1904.2 221.0,1906.5 223.0,1906.7 225.0,1902.9 227.0,1903.0 229.0,1903.9 231.0,1906.4 233.0,1902.9 235.0,1903.5 237.0,1905.8 239.0,1906.7 241.0,1902.6 243.0,1902.8 245.0,1903.2 247.0,1902.7 249.1,1902.9 251.1,1906.6 253.1,1904.2 255.1,1906.9 257.1,1905.4 259.1,1902.6 261.1,1902.8 263.1,1905.5 265.1,1903.7 267.1,1904.6 269.1,1904.8 271.1,1906.7 273.1,1906.9 275.1,1906.4 277.2,1906.4 279.2,1905.3 281.2,1906.0 283.2,1902.9 285.2,1906.3 287.2,1906.0 289.2,1903.5 291.2,1906.2 293.2,1905.3 295.2,1905.2 297.2,1904.6 299.2,1903.8 301.2,1903.4 303.3,1904.0 305.3,1906.3 307.3,1905.3 309.3,1906.9 311.3,1906.5 313.3,1906.6 315.3,1906.9 317.3,1903.5 319.3,1904.5 321.3,1905.7 323.3,1903.8 325.3,1906.3 327.3,1906.5 329.3,1902.6 331.4,1902.9 333.4,1904.0 335.4,1904.1 337.4,1905.0 339.4,1903.2 341.4,1903.5 343.4,1904.4 345.4,1903.5 347.4,1902.6 349.4,1904.0 351.4,1906.6 353.4,1906.9 355.4,1906.5 357.4,1906.9 359.5,1902.8 361.5,1903.3 363.5,1906.4 365.5,1906.7 367.5,1903.3 369.5,1904.4 371.5,1906.4 373.5,1906.2 375.5,1905.3 377.5,1904.5 379.5,1904.9 381.5,1906.4 383.5,1906.2 385.5,1903.4 387.6,1902.8 389.6,1904.7 391.6,1904.4 393.6,1903.2 395.6,1903.9 397.6,1904.9 399.6,1903.0 401.6,1902.9 403.6,1903.2 405.6,1905.9 407.6,1905.4 409.6,1905.4 411.6,1905.7 413.6,1904.2 415.7,1902.9 417.7,1905.3 419.7,1902.9 421.7,1904.7 423.7,1904.7 423.7,1923.5 421.7,1924.3 419.7,1923.8 417.7,1920.6 415.7,1920.4 413.6,1923.5 411.6,1920.4 409.6,1920.1 407.6,1923.9 405.6,1920.6 403.6,1921.6 401.6,1923.9 399.6,1920.7 397.6,1923.8 395.6,1923.7 393.6,1922.4 391.6,1922.2 389.6,1920.6 387.6,1923.7 385.5,1922.6 383.5,1922.1 381.5,1924.0 379.5,1921.3 377.5,1922.9 375.5,1922.7 373.5,1924.4 371.5,1921.9 369.5,1921.3 367.5,1920.4 365.5,1920.0 363.5,1920.1 361.5,1920.3 359.5,1922.0 357.4,1924.2 355.4,1924.3 353.4,1921.7 351.4,1922.7 349.4,1923.5 347.4,1923.2 345.4,1923.4 343.4,1921.2 341.4,1921.0 339.4,1923.5 337.4,1920.9 335.4,1921.3 333.4,1923.3 331.4,1923.4 329.3,1920.3 327.3,1920.5 325.3,1923.0 323.3,1923.9 321.3,1922.2 319.3,1924.2 317.3,1921.0 315.3,1922.5 313.3,1921.7 311.3,1923.2 309.3,1923.4 307.3,1920.3 305.3,1922.8 303.3,1924.4 301.2,1921.7 299.2,1922.9 297.2,1923.0 295.2,1924.5 293.2,1922.0 291.2,1921.5 289.2,1922.6 287.2,1922.6 285.2,1921.5 283.2,1921.9 281.2,1922.6 279.2,1921.0 277.2,1922.6 275.1,1921.3 273.1,1922.4 271.1,1922.4 269.1,1920.4 267.1,1922.1 265.1,1920.5 263.1,1920.4 261.1,1923.2 259.1,1923.5 257.1,1920.3 255.1,1920.8 253.1,1922.4 251.1,1923.7 249.1,1920.2 247.0,1922.0 245.0,1921.3 243.0,1920.4 241.0,1921.3 239.0,1923.6 237.0,1923.2 235.0,1922.0 233.0,1922.0 231.0,1924.3 229.0,1923.6 227.0,1922.1 225.0,1924.1 223.0,1922.8 221.0,1923.8 218.9,1923.2 216.9,1924.1 214.9,1922.9 212.9,1920.5 210.9,1920.7 208.9,1922.8 206.9,1921.7 204.9,1922.1 202.9,1923.7 200.9,1921.9 198.9,1924.3 196.9,1920.3 194.9,1924.3 192.9,1923.3 190.8,1923.5 188.8,1920.3 186.8,1920.1 184.8,1924.2 182.8,1922.2 180.8,1921.5 178.8,1921.7 176.8,1924.4 174.8,1921.5 172.8,1921.4 170.8,1920.7 168.8,1922.2 166.8,1922.8 164.8,1921.9 162.7,1924.2 160.7,1921.2 158.7,1922.7 156.7,1920.1 154.7,1923.6 152.7,1921.2 150.7,1920.4 148.7,1923.2 146.7,1922.4 144.7,1923.8 142.7,1924.0 140.7,1924.0 138.7,1921.1 136.7,1921.8 134.6,1921.9 132.6,1924.5 130.6,1921.8 128.6,1921.4 126.6,1924.1 124.6,1920.1 122.6,1920.1 120.6,1923.9 118.6,1920.7 116.6,1920.9 114.6,1923.0 112.6,1922.4 110.6,1920.4 108.6,1921.4 106.5,1921.7 104.5,1924.4 102.5,1923.2 100.5,1922.4 98.5,1924.2 96.5,1923.0 94.5,1922.7 92.5,1921.3 90.5,1920.9 88.5,1922.0 86.5,1923.6 84.5,1921.5 82.5,1923.1 80.5,1921.2 78.4,1922.5 76.4,1923.1 74.4,1921.9 72.4,1923.6 70.4,1923.5 68.4,1923.5 66.4,1923.0 64.4,1921.2 62.4,1923.7" fill="#ff0000"/><polygon points="64.4,2194.9 65.1,2192.0 65.8,2190.4 66.5,2189.9 67.1,2188.1 67.8,2186.0 68.5,2183.0 69.2,2182.0 69.8,2178.5 70.5,2176.8 71.2,2173.6 71.9,2172.0 72.5,2172.3 73.6,2169.9 74.6,2168.4 75.7,2165.2 76.7,2163.6 77.7,2163.2 78.8,2159.5 79.8,2158.7 80.8,2156.4 81.9,2153.5 82.9,2153.3 83.9,2150.6 85.0,2148.1 86.0,2145.5 87.1,2145.3 88.0,2144.3 88.9,2142.8 89.8,2138.8 90.7,2136.7 91.6,2135.4 92.5,2134.0 93.4,2131.4 94.3,2130.6 95.2,2130.1 96.1,2126.5 97.0,2124.2 97.9,2123.7 98.8,2122.9 99.8,2120.7 100.7,2119.2 101.6,2117.2 102.5,2114.6 103.4,2113.7 104.3,2110.5 105.2,2107.8 106.1,2107.6 107.0,2105.6 107.9,2102.0 108.8,2102.5 109.7,2100.5 110.6,2097.6 111.5,2097.6 112.4,2094.7 113.4,2091.1 114.3,2090.6 115.2,2088.3 116.1,2085.8 117.0,2084.1 117.9,2083.7 118.8,2082.8 119.7,2081.1 120.6,2078.8 121.5,2076.6 122.4,2075.8 123.3,2073.7 124.2,2072.1 125.1,2068.6 126.1,2067.8 127.0,2065.7 127.9,2062.4 128.8,2061.7 129.7,2061.1 130.6,2058.5 131.5,2055.2 132.4,2055.8 133.3,2052.5 134.2,2050.6 135.1,2048.9 136.0,2046.0 136.9,2046.0 137.8,2044.5 138.7,2041.6 139.7,2040.4 140.6,2037.1 141.5,2035.2 142.4,2033.5 143.3,2033.4 144.2,2031.2 145.1,2030.4 146.3,2028.0 147.5,2024.2 148.7,2022.6 149.9,2020.9 151.1,2021.4 152.4,2019.7 153.6,2016.8 154.8,2014.4 156.0,2013.3 157.2,2013.3 158.4,2009.1 159.6,2007.9 160.8,2008.0 162.0,2005.8 163.2,2002.2 164.4,2002.2 165.7,1999.5 166.9,1999.6 168.1,1995.6 169.3,1996.2 170.5,1992.0 171.7,1992.2 172.9,1991.2 174.1,1987.0 175.4,1986.7 176.8,1985.4 178.1,1982.6 179.4,1982.8 180.7,1981.2 182.0,1979.6 183.3,1978.4 184.7,1976.1 186.0,1973.9 187.3,1972.8 188.6,1971.0 190.1,1969.4 191.5,1968.2 193.0,1968.1 194.4,1966.1 195.9,1963.0 197.3,1962.8 198.8,1960.6 200.2,1960.5 201.7,1958.7 203.1,1955.6 204.6,1954.8 206.0,1952.3 207.5,1951.8 208.9,1950.6 210.4,1949.3 211.8,1947.8 213.3,1945.7 214.7,1943.5 216.2,1943.2 217.6,1940.9 219.1,1941.6 220.5,1940.3 222.0,1938.9 223.4,1935.3 224.9,1935.7 226.3,1932.8 227.8,1930.6 229.3,1931.2 230.7,1929.2 232.2,1926.0 233.8,1927.2 235.4,1924.8 237.0,1924.5 238.6,1921.6 240.2,1920.8 241.8,1921.1 243.4,1918.0 245.1,1918.4 246.7,1915.0 248.3,1915.7 249.9,1914.6 251.5,1912.6 253.1,1910.9 254.7,1908.4 256.3,1909.1 257.9,1906.6 259.6,1906.7 261.2,1903.6 263.0,1904.4 264.8,1901.6 266.6,1902.2 268.4,1901.2 270.2,1898.9 272.1,1897.5 273.9,1897.3 275.7,1895.4 277.8,1895.8 279.8,1895.2 281.9,1893.6 284.0,1891.4 286.0,1891.4 288.1,1891.0 290.2,1890.5 292.3,1888.2 294.3,1889.0 296.4,1885.9 298.5,1885.4 300.6,1885.6 302.6,1885.0 304.7,1883.3 306.8,1884.0 308.8,1882.5 310.9,1882.9 313.0,1883.6 315.1,1883.1 317.1,1882.1 319.2,1882.2 321.3,1879.5 323.4,1880.8 325.4,1880.4 327.5,1880.4 329.6,1879.6 331.6,1877.1 333.7,1878.9 335.8,1878.5 337.9,1879.2 339.9,1877.5 342.0,1878.2 344.1,1878.5 346.2,1878.1 348.2,1878.0 350.3,1877.0 352.4,1876.0 354.4,1875.3 356.5,1875.2 358.6,1875.9 360.7,1873.9 362.7,1874.5 364.8,1876.6 366.9,1874.0 369.0,1874.5 371.0,1876.3 373.1,1875.2 375.2,1874.3 377.2,1874.9 379.3,1874.9 381.4,1876.4 383.5,1876.9 385.5,1877.2 387.6,1876.1 389.7,1876.1 391.8,1876.7 393.8,1876.0 395.9,1877.1 398.0,1876.8 400.0,1876.8 402.1,1879.0 404.2,1877.2 406.3,1877.4 408.4,1878.7 410.6,1879.2 412.8,1878.9 415.0,1879.8 417.2,1881.9 419.3,1880.6 421.5,1881.7 423.7,1883.8 423.7,1895.8 421.5,1894.4 419.3,1894.8 417.2,1894.1 415.0,1893.0 412.8,1894.1 410.6,1893.7 408.4,1892.3 406.3,1893.5 404.2,1891.0 402.1,1891.0 400.0,1890.7 398.0,1890.0 395.9,1891.2 393.8,1891.6 391.8,1889.2 389.7,1891.0 387.6,1890.6 385.5,1891.0 383.5,1889.4 381.4,1888.2 379.3,1890.0 377.2,1890.4 375.2,1890.2 373.1,1890.2 371.0,1889.3 369.0,1890.1 366.9,1889.6 364.8,1890.2 362.7,1889.6 360.7,1888.3 358.6,1889.1 356.5,1891.0 354.4,1890.5 352.4,1890.3 350.3,1889.6 348.2,1889.2 346.2,1890.6 344.1,1890.4 342.0,1891.3 339.9,1891.5 337.9,1891.3 335.8,1891.5 333.7,1893.5 331.6,1892.7 329.6,1894.3 327.5,1893.2 325.4,1893.6 323.4,1893.4 321.3,1895.1 319.2,1896.0 317.1,1894.4 315.1,1896.5 313.0,1895.1 310.9,1896.2 308.8,1897.5 306.8,1898.5 304.7,1899.3 302.6,1898.7 300.6,1900.6 298.5,1900.2 296.4,1900.0 294.3,1902.0 292.3,1903.0 290.2,1902.2 288.1,1903.1 286.0,1904.4 284.0,1905.6 281.9,1906.4 279.8,1907.0 277.8,1907.7 275.7,1908.7 273.9,1909.5 272.1,1913.0 270.2,1912.3 268.4,1914.9 266.6,1916.0 264.8,1916.9 263.0,1918.4 261.2,1918.0 259.6,1918.2 257.9,1921.4 256.3,1923.3 254.7,1922.6 253.1,1925.9 251.5,1924.8 249.9,1928.1 248.3,1927.8 246.7,1931.2 245.1,1932.6 243.4,1932.4 241.8,1933.2 240.2,1934.8 238.6,1934.8 237.0,1937.0 235.4,1938.4 233.8,1939.9 232.2,1942.4 230.7,1942.8 229.3,1945.7 227.8,1947.2 226.3,1946.2 224.9,1949.3 223.4,1951.3 222.0,1952.1 220.5,1952.3 219.1,1954.3 217.6,1954.8 216.2,1958.7 214.7,1958.1 213.3,1961.4 211.8,1963.1 210.4,1963.3 208.9,1965.2 207.5,1966.1 206.0,1967.4 204.6,1969.8 203.1,1970.5 201.7,1971.2 200.2,1973.5 198.8,1975.7 197.3,1976.3 195.9,1977.9 194.4,1979.1 193.0,1981.5 191.5,1981.1 190.1,1982.1 188.6,1985.1 187.3,1987.8 186.0,1989.3 184.7,1989.6 183.3,1992.5 182.0,1992.6 180.7,1994.7 179.4,1995.4 178.1,1996.8 176.8,2000.3 175.4,2002.1 174.1,2002.8 172.9,2002.6 171.7,2005.9 170.5,2007.9 169.3,2010.1 168.1,2011.8 166.9,2011.5 165.7,2013.2 164.4,2017.3 163.2,2017.3 162.0,2020.2 160.8,2021.9 159.6,2022.6 158.4,2025.2 157.2,2026.5 156.0,2028.7 154.8,2029.4 153.6,2032.3 152.4,2032.0 151.1,2033.7 149.9,2035.8 148.7,2039.4 147.5,2039.5 146.3,2041.9 145.1,2042.3 144.2,2043.4 143.3,2046.7 142.4,2049.2 141.5,2051.2 140.6,2053.5 139.7,2053.0 138.7,2056.5 137.8,2058.3 136.9,2058.9 136.0,2061.7 135.1,2064.4 134.2,2063.3 133.3,2065.5 132.4,2069.7 131.5,2069.2 130.6,2071.3 129.7,2072.6 128.8,2075.6 127.9,2078.9 127.0,2078.1 126.1,2080.6 125.1,2081.8 124.2,2085.8 123.3,2086.1 122.4,2087.3 121.5,2088.8 120.6,2091.0 119.7,2092.5 118.8,2096.0 117.9,2097.1 117.0,2100.1 116.1,2101.9 115.2,2101.5 114.3,2105.0 113.4,2107.0 112.4,2108.5 111.5,2109.9 110.6,2111.2 109.7,2113.7 108.8,2114.7 107.9,2116.3 107.0,2120.3 106.1,2120.7 105.2,2123.9 104.3,2125.8 103.4,2126.3 102.5,2129.4 101.6,2129.3 100.7,2132.7 99.8,2132.5 98.8,2135.4 97.9,2137.8 97.0,2138.5 96.1,2142.4 95.2,2143.4 94.3,2145.1 93.4,2147.7 92.5,2148.1 91.6,2150.3 90.7,2151.3 89.8,2153.8 88.9,2155.9 88.0,2157.2 87.1,2159.8 86.0,2159.8 85.0,2162.2 83.9,2165.8 82.9,2166.8 81.9,2169.0 80.8,2169.7 79.8,2172.4 78.8,2173.8 77.7,2175.0 76.7,2176.4 75.7,2179.2 74.6,2181.7 73.6,2184.3 72.5,2184.0 71.9,2186.5 71.2,2187.7 70.5,2190.7 69.8,2194.3 69.2,2194.0 68.5,2197.8 67.8,2197.5 67.1,2200.5 66.5,2202.6 65.8,2204.1 65.1,2205.2 64.4,2207.4" fill="#000"/><text x="2.4" y="1894.8" font-size="29.8" font-weight="bold" font-style="italic" fill="#ff0000" text-anchor="start">Trpa1<tspan dy="-14.5" font-size="23.0">-/-</tspan></text><text x="2.4" y="2085.0" font-size="29.8" font-weight="bold" font-style="italic" fill="#6e6e6e" text-anchor="start">Trpa1<tspan dy="-14.5" font-size="23.0">+/+</tspan></text><text x="1.5" y="2117.4" font-size="25" font-weight="bold" font-style="italic" fill="#6e6e6e" text-anchor="start">Octanol</text><text x="2.4" y="2237.7" font-size="29.8" font-weight="bold" font-style="italic" fill="#000" text-anchor="start">Trpa1<tspan dy="-14.5" font-size="23.0">+/+</tspan></text><text x="0.5" y="2270.2" font-size="25" font-weight="bold" font-style="italic" fill="#000" text-anchor="start">FFA</text><rect x="269.3" y="2018.6" width="206.6" height="226.4" fill="none" stroke="#8c8c8c" stroke-width="3.2"/><text x="342.1" y="2047.0" font-size="27.5" font-weight="bold" font-style="normal" fill="#2e9c0c" text-anchor="middle">CA</text><line x1="298.3" y1="2058.0" x2="383.6" y2="2058.0" stroke="#3d6414" stroke-width="6" /><line x1="298.3" y1="2197.0" x2="383.6" y2="2197.0" stroke="#3d6414" stroke-width="6" /><polyline points="282.9,2079.0 285.0,2080.4 287.1,2078.8 289.2,2079.9 291.3,2078.7 293.4,2079.0 295.5,2080.5 297.6,2078.9 299.7,2079.8 301.8,2079.4 302.2,2081.6 302.5,2083.9 302.9,2085.4 303.3,2088.9 303.6,2089.6 304.0,2092.1 304.3,2093.8 304.7,2096.5 305.1,2098.9 305.4,2102.1 305.8,2103.2 306.2,2104.9 306.5,2107.3 306.9,2111.0 307.2,2111.3 307.6,2114.6 308.0,2116.3 308.3,2119.0 308.7,2120.6 309.1,2123.4 309.9,2125.1 310.7,2127.5 311.5,2130.1 312.4,2131.5 313.2,2132.7 314.0,2134.6 314.9,2138.5 316.6,2138.7 318.2,2139.4 319.9,2142.1 321.6,2142.6 323.3,2144.1 325.0,2145.6 327.2,2144.8 329.4,2145.3 331.5,2146.7 333.7,2145.5 335.8,2146.2 337.9,2144.2 339.9,2144.8 342.0,2144.2 344.1,2144.1 346.2,2143.2 348.2,2141.9 350.3,2140.7 352.4,2140.0 354.4,2140.1 356.5,2139.4 358.6,2137.9 360.7,2139.0 362.7,2137.6 364.6,2136.9 366.4,2134.8 368.2,2133.8 370.0,2132.2 371.8,2131.8 373.6,2130.6 375.4,2129.8 377.2,2128.6 378.6,2127.9 379.9,2126.5 381.2,2123.5 382.5,2122.3 383.8,2120.3 385.2,2119.7 386.5,2118.7 387.8,2115.6 389.1,2115.1 390.4,2112.6 391.8,2110.5 393.6,2110.9 395.4,2109.0 397.2,2107.5 399.0,2107.0 400.8,2105.5 402.6,2104.7 404.5,2103.7 406.3,2102.6 408.3,2102.1 410.4,2100.7 412.5,2099.4 414.6,2098.6 416.6,2097.8 418.7,2097.8 420.8,2096.7 422.9,2096.9 424.9,2095.7 427.0,2095.5 429.1,2095.4 431.1,2093.0 433.2,2092.2 435.3,2091.9 437.3,2091.9 439.4,2091.8 441.5,2091.6 443.5,2090.4 445.6,2091.1 447.6,2088.7 449.7,2089.9 451.7,2088.1 453.8,2089.0 455.8,2086.8 457.9,2088.2 460.0,2087.3" fill="none" stroke="#000" stroke-width="6.5" stroke-linejoin="round" stroke-linecap="round" /><polyline points="280.0,2215.9 282.0,2215.8 284.1,2215.5 286.1,2216.4 288.1,2215.3 290.1,2215.9 292.1,2216.4 294.1,2215.4 296.1,2216.0 298.1,2216.1 300.1,2215.4 302.1,2215.8 304.1,2216.2 306.2,2215.9 308.2,2216.2 310.2,2215.5 312.2,2215.6 314.2,2215.4 316.2,2215.9 318.2,2216.4 320.2,2216.0 322.2,2216.2 324.2,2215.8 326.2,2216.2 328.3,2215.4 330.3,2215.7 332.3,2216.1 334.3,2216.2 336.3,2215.8 338.3,2215.4 340.3,2215.6 342.3,2215.6 344.3,2215.7 346.3,2216.3 348.3,2215.6 350.4,2216.4 352.4,2216.4 354.4,2215.4 356.4,2215.8 358.4,2215.9 360.4,2215.3 362.4,2215.8 364.4,2216.4 366.4,2215.4 368.4,2216.0 370.4,2215.5 372.4,2216.0 374.5,2216.4 376.5,2215.6 378.5,2215.3 380.5,2215.4 382.5,2216.0 384.5,2215.3 386.5,2215.4 388.5,2215.9 390.5,2216.4 392.5,2215.8 394.5,2215.8 396.6,2216.1 398.6,2215.4 400.6,2216.0 402.6,2215.5 404.6,2216.0 406.6,2216.5 408.6,2215.4 410.6,2216.0 412.6,2216.0 414.6,2215.5 416.6,2215.6 418.7,2216.5 420.7,2216.5 422.7,2215.5 424.7,2216.2 426.7,2216.5 428.7,2215.6 430.7,2216.0 432.7,2215.4 434.7,2215.8 436.7,2216.1 438.7,2216.0 440.8,2216.2 442.8,2215.4 444.8,2215.7 446.8,2216.4 448.8,2216.0 450.8,2215.9 452.8,2215.8 454.8,2216.5 456.8,2216.0 458.8,2215.3 460.8,2216.3 462.9,2215.7" fill="none" stroke="#ff0000" stroke-width="9" stroke-linejoin="round" stroke-linecap="round" /><polyline points="422.2,2134.7 422.2,2182.6 460.1,2182.6" fill="none" stroke="#000" stroke-width="2.8" stroke-linejoin="miter" stroke-linecap="round" /><text transform="translate(413.5,2153.5) rotate(-90)" font-size="17" text-anchor="middle" textLength="55.0" lengthAdjust="spacingAndGlyphs">200 pA</text><text x="442.6" y="2194.0" font-size="17" font-weight="normal" font-style="normal" fill="#000" text-anchor="middle">10s</text><text x="534.4" y="1802.1" font-size="66" font-weight="bold" font-style="normal" fill="#000" text-anchor="start" >h</text><text x="775.1" y="1800.6" font-size="32.5" font-weight="bold" font-style="normal" fill="#000" text-anchor="middle">Deiters' cells</text><line x1="778.8" y1="1845.0" x2="778.8" y2="2248.1" stroke="#8c8c8c" stroke-width="2.2" /><line x1="772.3" y1="1845.0" x2="778.8" y2="1845.0" stroke="#8c8c8c" stroke-width="2.2" /><text x="766.5" y="1855.6" font-size="27" font-weight="normal" font-style="normal" fill="#000" text-anchor="end">0.2</text><line x1="772.3" y1="1912.2" x2="778.8" y2="1912.2" stroke="#8c8c8c" stroke-width="2.2" /><line x1="772.3" y1="1979.4" x2="778.8" y2="1979.4" stroke="#8c8c8c" stroke-width="2.2" /><text x="766.5" y="1990.0" font-size="27" font-weight="normal" font-style="normal" fill="#000" text-anchor="end">-0.2</text><line x1="772.3" y1="2046.5" x2="778.8" y2="2046.5" stroke="#8c8c8c" stroke-width="2.2" /><text x="766.5" y="2057.2" font-size="27" font-weight="normal" font-style="normal" fill="#000" text-anchor="end">-0.4</text><line x1="772.3" y1="2113.7" x2="778.8" y2="2113.7" stroke="#8c8c8c" stroke-width="2.2" /><text x="766.5" y="2124.3" font-size="27" font-weight="normal" font-style="normal" fill="#000" text-anchor="end">-0.6</text><line x1="772.3" y1="2180.9" x2="778.8" y2="2180.9" stroke="#8c8c8c" stroke-width="2.2" /><text x="766.5" y="2191.5" font-size="27" font-weight="normal" font-style="normal" fill="#000" text-anchor="end">-0.8</text><line x1="772.3" y1="2248.1" x2="778.8" y2="2248.1" stroke="#8c8c8c" stroke-width="2.2" /><text x="766.5" y="2258.7" font-size="27" font-weight="normal" font-style="normal" fill="#000" text-anchor="end">-1.0</text><line x1="578.3" y1="1912.1" x2="978.4" y2="1912.1" stroke="#8c8c8c" stroke-width="2.2" /><line x1="578.3" y1="1907.1" x2="578.3" y2="1912.1" stroke="#8c8c8c" stroke-width="2.2" /><line x1="978.4" y1="1907.1" x2="978.4" y2="1912.1" stroke="#8c8c8c" stroke-width="2.2" /><text x="573.5" y="1947.8" font-size="27" font-weight="normal" font-style="normal" fill="#000" text-anchor="middle">-100</text><text x="676.5" y="1947.8" font-size="27" font-weight="normal" font-style="normal" fill="#000" text-anchor="middle">-50</text><text x="879.5" y="1947.8" font-size="27" font-weight="normal" font-style="normal" fill="#000" text-anchor="middle">50</text><text x="980.5" y="1947.8" font-size="27" font-weight="normal" font-style="normal" fill="#000" text-anchor="middle">100</text><text x="790.5" y="1840.0" font-size="32.5" font-weight="normal">I<tspan font-style="italic" font-size="23.4" dy="5.5">TRPA1</tspan><tspan dy="-5.5"> (nA)</tspan></text><text x="992.5" y="1980.0" font-size="32" font-weight="normal" font-style="normal" fill="#000" text-anchor="middle">V (mV)</text><polygon points="589.5,1903.2 591.5,1903.2 593.5,1902.6 595.5,1903.1 597.5,1903.4 599.6,1904.2 601.6,1902.3 603.6,1902.7 605.6,1903.9 607.6,1903.2 609.6,1903.3 611.6,1904.7 613.6,1902.6 615.6,1903.5 617.6,1905.1 619.7,1902.8 621.7,1904.3 623.7,1904.4 625.7,1904.2 627.7,1903.8 629.7,1905.0 631.7,1904.4 633.7,1904.2 635.7,1903.8 637.7,1903.4 639.7,1904.1 641.8,1904.1 643.8,1903.7 645.8,1905.2 647.8,1903.3 649.8,1904.7 651.8,1905.1 653.8,1905.4 655.8,1904.7 657.8,1904.3 659.8,1904.0 661.9,1905.1 663.9,1906.0 665.9,1905.2 667.9,1905.9 669.9,1904.6 671.9,1904.0 674.0,1905.6 676.0,1903.9 678.0,1904.7 680.1,1905.0 682.1,1905.3 684.1,1904.8 686.2,1905.1 688.2,1905.3 690.2,1905.3 692.2,1906.4 694.3,1906.3 696.3,1906.2 698.3,1904.0 700.4,1905.4 702.4,1905.3 704.4,1904.8 706.5,1904.9 708.5,1905.0 710.5,1906.3 712.5,1905.2 714.6,1905.1 716.6,1904.7 718.6,1904.8 720.7,1905.7 722.7,1905.1 724.7,1906.8 726.7,1905.0 728.8,1904.5 730.8,1905.3 732.8,1905.5 734.9,1906.5 736.9,1906.9 738.9,1906.6 741.0,1904.6 743.0,1906.0 745.0,1905.4 747.0,1906.1 749.1,1905.8 751.1,1906.3 753.1,1905.7 755.2,1905.8 757.2,1905.2 759.2,1907.2 761.3,1907.2 763.3,1906.8 765.3,1905.6 767.3,1906.8 769.4,1906.3 771.4,1906.9 773.5,1906.5 775.6,1905.9 777.7,1905.7 779.9,1905.0 782.0,1904.5 784.1,1904.3 786.2,1903.6 788.3,1905.7 790.4,1903.6 792.5,1904.6 794.6,1903.4 796.8,1904.3 798.9,1904.4 801.0,1902.6 803.1,1904.0 805.2,1902.2 807.3,1903.2 809.4,1902.2 811.5,1904.5 813.7,1902.5 815.8,1903.3 817.9,1902.3 820.0,1902.9 822.1,1901.6 824.2,1901.5 826.3,1901.5 828.4,1901.6 830.6,1900.1 832.7,1898.9 834.8,1898.9 836.9,1900.1 839.0,1899.3 841.1,1900.2 843.2,1898.6 845.3,1898.3 847.5,1899.3 849.6,1897.3 851.7,1897.5 853.8,1898.0 855.9,1897.7 858.0,1897.1 860.1,1895.8 862.2,1895.2 864.4,1896.3 866.5,1897.1 868.6,1894.8 870.7,1896.8 872.8,1896.3 874.9,1894.8 877.0,1895.5 879.1,1895.9 881.3,1896.2 883.4,1894.5 885.5,1894.2 887.6,1895.5 889.7,1894.3 891.8,1894.9 893.9,1895.6 896.1,1894.6 898.2,1897.1 900.3,1897.1 902.4,1896.6 904.5,1897.8 906.6,1897.3 908.7,1897.8 910.8,1898.9 913.0,1897.8 915.1,1898.1 917.2,1898.5 919.3,1899.6 919.3,1909.0 917.2,1908.9 915.1,1908.9 913.0,1907.8 910.8,1909.0 908.7,1907.1 906.6,1908.4 904.5,1908.9 902.4,1908.5 900.3,1906.6 898.2,1907.2 896.1,1905.3 893.9,1904.8 891.8,1906.4 889.7,1904.8 887.6,1906.1 885.5,1906.3 883.4,1905.5 881.3,1905.6 879.1,1905.3 877.0,1906.1 874.9,1905.3 872.8,1905.7 870.7,1906.8 868.6,1905.3 866.5,1906.0 864.4,1905.3 862.2,1906.1 860.1,1907.6 858.0,1907.2 855.9,1908.4 853.8,1907.5 851.7,1908.0 849.6,1908.2 847.5,1909.8 845.3,1910.6 843.2,1909.9 841.1,1910.7 839.0,1909.7 836.9,1910.0 834.8,1910.5 832.7,1909.5 830.6,1911.8 828.4,1910.4 826.3,1912.0 824.2,1913.0 822.1,1911.4 820.0,1911.9 817.9,1914.6 815.8,1914.6 813.7,1914.0 811.5,1913.1 809.4,1914.8 807.3,1913.7 805.2,1913.1 803.1,1914.5 801.0,1914.9 798.9,1913.0 796.8,1913.5 794.6,1914.7 792.5,1914.2 790.4,1913.7 788.3,1916.0 786.2,1915.9 784.1,1916.7 782.0,1915.5 779.9,1916.5 777.7,1916.1 775.6,1916.2 773.5,1917.2 771.4,1916.7 769.4,1916.8 767.3,1917.2 765.3,1917.0 763.3,1916.6 761.3,1915.5 759.2,1916.4 757.2,1917.0 755.2,1917.5 753.1,1915.8 751.1,1916.8 749.1,1915.9 747.0,1916.9 745.0,1916.5 743.0,1917.0 741.0,1917.3 738.9,1915.3 736.9,1915.5 734.9,1915.9 732.8,1917.3 730.8,1915.3 728.8,1915.7 726.7,1917.3 724.7,1917.2 722.7,1917.1 720.7,1917.0 718.6,1917.2 716.6,1916.0 714.6,1916.2 712.5,1916.4 710.5,1915.3 708.5,1916.9 706.5,1915.7 704.4,1916.8 702.4,1915.7 700.4,1915.6 698.3,1915.7 696.3,1915.6 694.3,1914.7 692.2,1915.8 690.2,1914.5 688.2,1916.8 686.2,1914.7 684.1,1915.6 682.1,1915.3 680.1,1915.4 678.0,1914.4 676.0,1915.5 674.0,1915.5 671.9,1915.8 669.9,1915.1 667.9,1915.2 665.9,1914.8 663.9,1915.8 661.9,1915.0 659.8,1915.1 657.8,1915.9 655.8,1914.3 653.8,1914.1 651.8,1915.3 649.8,1914.3 647.8,1914.8 645.8,1915.7 643.8,1913.9 641.8,1913.9 639.7,1914.5 637.7,1913.9 635.7,1914.8 633.7,1915.5 631.7,1913.5 629.7,1913.9 627.7,1915.4 625.7,1913.4 623.7,1914.6 621.7,1915.4 619.7,1913.9 617.6,1913.5 615.6,1913.2 613.6,1915.5 611.6,1914.9 609.6,1914.6 607.6,1914.1 605.6,1913.6 603.6,1914.4 601.6,1912.9 599.6,1915.2 597.5,1913.6 595.5,1913.1 593.5,1914.7 591.5,1913.1 589.5,1913.7" fill="#ff0000"/><polygon points="576.2,2076.7 577.2,2073.3 578.2,2072.6 579.2,2071.6 580.1,2068.3 581.1,2068.0 582.1,2066.0 583.1,2062.2 584.1,2059.4 585.1,2058.4 586.4,2058.2 587.7,2055.5 589.0,2054.8 590.3,2053.7 591.6,2050.8 593.0,2048.9 594.3,2047.3 595.6,2045.8 596.9,2042.6 598.2,2041.4 599.5,2041.3 600.8,2039.8 602.2,2036.7 603.5,2034.8 604.8,2032.8 606.1,2034.1 607.4,2029.7 608.7,2027.8 610.2,2029.1 611.7,2025.5 613.2,2026.1 614.6,2022.0 616.1,2023.0 617.6,2021.6 619.1,2018.0 620.6,2017.3 622.0,2016.9 623.5,2015.6 624.9,2014.0 626.2,2012.1 627.6,2008.2 628.9,2008.6 630.2,2007.3 631.6,2003.7 632.9,2004.4 634.3,2002.4 635.6,1999.1 637.0,1999.0 638.3,1998.0 639.8,1996.0 641.3,1994.2 642.7,1990.9 644.2,1990.6 645.7,1990.3 647.2,1986.6 648.7,1987.1 650.1,1984.2 651.6,1984.3 653.1,1980.8 654.7,1980.9 656.4,1980.7 658.0,1978.8 659.7,1977.4 661.3,1975.1 663.0,1975.0 664.6,1974.0 666.2,1971.3 667.9,1969.8 669.5,1967.5 671.2,1968.9 672.8,1966.3 674.5,1965.8 676.1,1963.3 677.7,1962.6 679.4,1959.5 681.0,1959.0 682.7,1959.4 684.3,1958.4 686.0,1955.1 687.6,1955.8 689.2,1953.1 690.9,1952.3 692.5,1951.7 694.2,1948.4 695.8,1947.1 697.5,1945.6 699.3,1945.8 701.2,1943.0 703.0,1943.4 704.9,1940.9 706.7,1940.5 708.6,1939.6 710.4,1940.0 712.3,1936.1 714.1,1935.8 715.9,1934.7 717.8,1934.4 719.6,1934.4 721.5,1933.4 723.3,1931.0 725.2,1929.2 727.0,1928.4 729.2,1928.6 731.3,1927.6 733.4,1927.1 735.5,1924.1 737.6,1924.7 739.7,1924.2 741.8,1923.7 743.9,1921.0 746.1,1920.0 748.2,1920.0 750.3,1920.5 752.4,1917.6 754.5,1917.1 756.6,1917.5 758.7,1916.4 760.8,1916.5 763.0,1914.6 765.1,1914.9 767.2,1912.3 769.3,1914.4 771.4,1911.3 773.5,1911.6 775.6,1912.6 777.7,1913.3 779.9,1911.7 782.0,1910.4 784.1,1912.3 786.2,1910.6 788.3,1910.8 790.4,1910.5 792.5,1911.0 794.6,1911.9 796.8,1913.5 798.9,1911.6 801.0,1913.1 803.1,1912.1 805.2,1912.5 807.3,1913.4 809.4,1912.1 811.5,1912.2 813.7,1914.8 815.8,1913.5 817.9,1914.3 820.0,1912.8 822.1,1912.6 824.2,1913.5 826.3,1913.3 828.4,1913.5 830.6,1914.8 832.7,1912.3 834.8,1913.4 836.9,1913.8 839.0,1912.0 841.1,1914.1 843.2,1912.5 845.3,1912.5 847.2,1912.4 849.0,1913.4 850.9,1915.7 852.7,1917.2 854.6,1917.0 856.4,1917.0 858.3,1917.6 860.1,1918.5 862.2,1921.3 864.4,1921.7 866.5,1921.3 868.6,1921.3 870.7,1923.6 872.8,1922.6 874.9,1925.1 877.0,1922.7 879.1,1923.6 881.3,1923.5 883.4,1923.1 885.5,1921.8 887.6,1923.3 889.7,1922.6 891.8,1922.6 893.9,1923.5 896.1,1922.7 898.2,1925.2 900.3,1926.0 902.4,1924.4 904.5,1925.8 906.5,1925.9 908.6,1923.0 910.6,1922.7 912.6,1923.7 914.7,1921.5 916.7,1921.7 918.7,1921.8 920.8,1921.0 920.8,1932.9 918.7,1934.3 916.7,1934.7 914.7,1934.5 912.6,1935.0 910.6,1935.1 908.6,1936.2 906.5,1938.4 904.5,1938.2 902.4,1939.5 900.3,1937.7 898.2,1937.4 896.1,1938.3 893.9,1936.4 891.8,1934.9 889.7,1935.8 887.6,1936.9 885.5,1936.3 883.4,1935.0 881.3,1936.6 879.1,1936.0 877.0,1937.1 874.9,1938.3 872.8,1937.8 870.7,1935.6 868.6,1935.6 866.5,1934.8 864.4,1934.8 862.2,1933.5 860.1,1931.6 858.3,1931.9 856.4,1931.6 854.6,1930.7 852.7,1928.1 850.9,1929.1 849.0,1926.3 847.2,1925.1 845.3,1924.0 843.2,1926.5 841.1,1925.7 839.0,1925.6 836.9,1927.5 834.8,1927.4 832.7,1928.1 830.6,1928.1 828.4,1927.6 826.3,1927.9 824.2,1926.0 822.1,1926.8 820.0,1927.8 817.9,1927.1 815.8,1928.1 813.7,1926.6 811.5,1927.2 809.4,1925.0 807.3,1927.0 805.2,1926.6 803.1,1925.7 801.0,1925.0 798.9,1924.3 796.8,1924.9 794.6,1923.8 792.5,1923.7 790.4,1925.8 788.3,1924.6 786.2,1923.8 784.1,1922.8 782.0,1923.6 779.9,1923.2 777.7,1923.7 775.6,1925.9 773.5,1925.4 771.4,1924.1 769.3,1924.7 767.2,1926.6 765.1,1928.4 763.0,1928.0 760.8,1928.4 758.7,1928.6 756.6,1928.9 754.5,1932.1 752.4,1932.6 750.3,1932.4 748.2,1932.7 746.1,1933.8 743.9,1936.2 741.8,1935.6 739.7,1937.1 737.6,1938.7 735.5,1938.8 733.4,1938.2 731.3,1940.6 729.2,1939.4 727.0,1943.0 725.2,1942.8 723.3,1943.1 721.5,1945.3 719.6,1946.9 717.8,1948.3 715.9,1948.6 714.1,1949.1 712.3,1951.7 710.4,1952.1 708.6,1953.1 706.7,1953.6 704.9,1955.2 703.0,1957.0 701.2,1958.3 699.3,1958.9 697.5,1960.7 695.8,1961.4 694.2,1963.3 692.5,1963.5 690.9,1966.2 689.2,1966.7 687.6,1967.8 686.0,1970.0 684.3,1971.2 682.7,1969.9 681.0,1972.9 679.4,1974.4 677.7,1976.4 676.1,1975.4 674.5,1977.5 672.8,1977.9 671.2,1979.8 669.5,1980.9 667.9,1982.5 666.2,1985.5 664.6,1984.9 663.0,1987.7 661.3,1987.8 659.7,1990.7 658.0,1991.6 656.4,1993.7 654.7,1992.4 653.1,1995.3 651.6,1997.8 650.1,1999.2 648.7,1998.5 647.2,2001.8 645.7,2001.3 644.2,2004.9 642.7,2005.3 641.3,2006.6 639.8,2008.6 638.3,2010.0 637.0,2010.1 635.6,2012.4 634.3,2013.9 632.9,2017.7 631.6,2018.2 630.2,2019.1 628.9,2022.2 627.6,2023.6 626.2,2023.6 624.9,2025.6 623.5,2027.9 622.0,2029.7 620.6,2030.3 619.1,2031.0 617.6,2032.1 616.1,2034.1 614.6,2037.1 613.2,2037.3 611.7,2038.6 610.2,2041.2 608.7,2042.0 607.4,2043.8 606.1,2044.7 604.8,2048.2 603.5,2048.5 602.2,2050.2 600.8,2050.8 599.5,2053.0 598.2,2056.0 596.9,2058.5 595.6,2058.0 594.3,2060.8 593.0,2062.4 591.6,2064.7 590.3,2065.2 589.0,2066.1 587.7,2067.2 586.4,2068.7 585.1,2072.2 584.1,2075.2 583.1,2074.4 582.1,2078.7 581.1,2079.1 580.1,2082.6 579.2,2083.7 578.2,2085.9 577.2,2087.5 576.2,2089.8" fill="#000"/><text x="593.5" y="2129.8" font-size="29.8" font-weight="bold" font-style="italic" fill="#000" text-anchor="start">Trpa1<tspan dy="-14.5" font-size="23.0">+/+</tspan></text><text x="593.5" y="2166.6" font-size="29.8" font-weight="bold" font-style="italic" fill="#ff0000" text-anchor="start">Trpa1<tspan dy="-14.5" font-size="23.0">-/-</tspan></text><rect x="802.5" y="2017.1" width="207.5" height="225.7" fill="none" stroke="#8c8c8c" stroke-width="3.2"/><text x="872.3" y="2047.0" font-size="27.5" font-weight="bold" font-style="normal" fill="#2e9c0c" text-anchor="middle">CA</text><line x1="829.0" y1="2057.4" x2="915.7" y2="2057.4" stroke="#3d6414" stroke-width="6" /><line x1="829.0" y1="2196.4" x2="915.7" y2="2196.4" stroke="#3d6414" stroke-width="6" /><polyline points="814.3,2079.5 816.4,2079.9 818.4,2079.9 820.5,2078.8 822.6,2078.6 824.6,2079.3 826.7,2079.1 828.8,2080.2 830.9,2079.9 832.9,2079.7 835.0,2079.7 837.1,2079.9 839.1,2078.8 841.2,2079.4 843.3,2078.9 845.3,2080.4 847.1,2080.0 848.9,2082.8 850.7,2082.6 852.4,2085.1 854.2,2085.7 855.3,2087.7 856.4,2090.4 857.5,2090.6 858.7,2092.6 859.8,2096.1 860.9,2097.2 862.0,2098.2 863.1,2101.8 864.3,2103.5 865.5,2103.6 866.6,2106.0 867.8,2107.2 869.0,2109.3 870.2,2111.7 871.4,2112.6 872.6,2115.4 873.7,2115.9 874.9,2117.9 876.4,2120.7 877.9,2121.3 879.4,2122.9 880.8,2124.7 882.3,2125.9 883.8,2127.2 885.3,2128.0 886.8,2130.9 888.7,2132.1 890.7,2132.8 892.7,2133.0 894.6,2133.1 896.6,2133.8 898.6,2135.2 900.6,2134.0 902.5,2131.6 904.5,2130.6 906.5,2129.7 908.4,2128.7 910.4,2128.1 911.7,2125.8 913.0,2123.2 914.4,2123.2 915.7,2120.7 917.0,2119.3 918.3,2117.0 919.6,2115.8 920.9,2114.1 922.2,2113.2 923.9,2110.6 925.6,2110.2 927.3,2108.2 929.0,2108.0 930.7,2105.4 932.4,2104.6 934.1,2103.5 935.9,2103.0 937.8,2100.7 939.6,2100.4 941.5,2098.8 943.3,2097.8 945.2,2097.1 947.0,2097.0 948.9,2094.9 950.7,2094.7 952.6,2092.0 954.4,2092.4 956.3,2090.2 958.1,2088.8 960.0,2088.8 961.8,2088.0 963.7,2085.1 965.8,2084.7 967.9,2084.9 970.0,2083.2 972.1,2082.2 974.2,2080.8 976.3,2080.1 978.4,2080.4 980.6,2081.1 982.7,2081.1 984.8,2080.1 986.9,2079.2 989.0,2079.8 991.1,2080.7 993.2,2080.8" fill="none" stroke="#000" stroke-width="6.5" stroke-linejoin="round" stroke-linecap="round" /><polyline points="812.8,2216.5 814.8,2217.0 816.9,2217.0 818.9,2217.2 820.9,2216.4 822.9,2216.5 824.9,2216.4 827.0,2216.5 829.0,2217.1 831.0,2216.3 833.0,2216.8 835.0,2216.4 837.1,2216.5 839.1,2216.7 841.1,2217.2 843.1,2216.9 845.2,2216.2 847.2,2216.5 849.2,2216.4 851.2,2217.2 853.2,2217.2 855.3,2217.1 857.3,2217.2 859.3,2217.1 861.3,2217.3 863.3,2217.1 865.4,2216.5 867.4,2217.2 869.4,2216.8 871.4,2217.1 873.4,2216.9 875.5,2216.7 877.5,2216.6 879.5,2216.7 881.5,2216.6 883.6,2216.3 885.6,2217.2 887.6,2217.1 889.6,2217.4 891.6,2217.0 893.7,2216.8 895.7,2217.1 897.7,2216.3 899.7,2217.0 901.7,2216.7 903.8,2216.4 905.8,2216.4 907.8,2216.8 909.8,2216.5 911.8,2216.7 913.9,2216.9 915.9,2216.7 917.9,2216.3 919.9,2216.8 922.0,2216.5 924.0,2216.5 926.0,2216.4 928.0,2216.6 930.0,2216.3 932.1,2217.0 934.1,2217.3 936.1,2216.6 938.1,2217.0 940.1,2217.3 942.2,2216.2 944.2,2216.4 946.2,2217.1 948.2,2217.2 950.2,2216.9 952.3,2216.4 954.3,2216.7 956.3,2217.2 958.3,2217.2 960.4,2217.1 962.4,2216.4 964.4,2217.2 966.4,2216.6 968.4,2217.0 970.5,2216.3 972.5,2217.3 974.5,2216.9 976.5,2217.0 978.5,2216.4 980.6,2216.9 982.6,2216.9 984.6,2216.9 986.6,2216.6 988.6,2217.1 990.7,2216.6 992.7,2216.5 994.7,2216.4" fill="none" stroke="#ff0000" stroke-width="9" stroke-linejoin="round" stroke-linecap="round" /><polyline points="955.7,2133.4 955.7,2174.2 993.8,2174.2" fill="none" stroke="#000" stroke-width="2.8" stroke-linejoin="miter" stroke-linecap="round" /><text transform="translate(947.6,2152.8) rotate(-90)" font-size="17" text-anchor="middle" textLength="56.5" lengthAdjust="spacingAndGlyphs">200 pA</text><text x="976.3" y="2192.5" font-size="17" font-weight="normal" font-style="normal" fill="#000" text-anchor="middle">10s</text><text x="1075.6" y="1802" font-size="66" font-weight="bold" font-style="normal" fill="#000" text-anchor="start" >i</text><text x="1315.0" y="1800.6" font-size="32.5" font-weight="bold" font-style="normal" fill="#000" text-anchor="middle">Pillar cells</text><line x1="1314.1" y1="1845.0" x2="1314.1" y2="2248.1" stroke="#8c8c8c" stroke-width="2.2" /><line x1="1307.6" y1="1845.0" x2="1314.1" y2="1845.0" stroke="#8c8c8c" stroke-width="2.2" /><text x="1302.0" y="1855.6" font-size="27" font-weight="normal" font-style="normal" fill="#000" text-anchor="end">0.2</text><line x1="1307.6" y1="1912.2" x2="1314.1" y2="1912.2" stroke="#8c8c8c" stroke-width="2.2" /><line x1="1307.6" y1="1979.4" x2="1314.1" y2="1979.4" stroke="#8c8c8c" stroke-width="2.2" /><text x="1302.0" y="1990.0" font-size="27" font-weight="normal" font-style="normal" fill="#000" text-anchor="end">-0.2</text><line x1="1307.6" y1="2046.5" x2="1314.1" y2="2046.5" stroke="#8c8c8c" stroke-width="2.2" /><text x="1302.0" y="2057.2" font-size="27" font-weight="normal" font-style="normal" fill="#000" text-anchor="end">-0.4</text><line x1="1307.6" y1="2113.7" x2="1314.1" y2="2113.7" stroke="#8c8c8c" stroke-width="2.2" /><text x="1302.0" y="2124.3" font-size="27" font-weight="normal" font-style="normal" fill="#000" text-anchor="end">-0.6</text><line x1="1307.6" y1="2180.9" x2="1314.1" y2="2180.9" stroke="#8c8c8c" stroke-width="2.2" /><text x="1302.0" y="2191.5" font-size="27" font-weight="normal" font-style="normal" fill="#000" text-anchor="end">-0.8</text><line x1="1307.6" y1="2248.1" x2="1314.1" y2="2248.1" stroke="#8c8c8c" stroke-width="2.2" /><text x="1302.0" y="2258.7" font-size="27" font-weight="normal" font-style="normal" fill="#000" text-anchor="end">-1.0</text><line x1="1113.6" y1="1913.0" x2="1514.4" y2="1913.0" stroke="#8c8c8c" stroke-width="2.2" /><line x1="1113.6" y1="1908.0" x2="1113.6" y2="1913.0" stroke="#8c8c8c" stroke-width="2.2" /><line x1="1514.4" y1="1908.0" x2="1514.4" y2="1913.0" stroke="#8c8c8c" stroke-width="2.2" /><text x="1109.0" y="1947.8" font-size="27" font-weight="normal" font-style="normal" fill="#000" text-anchor="middle">-100</text><text x="1212.0" y="1947.8" font-size="27" font-weight="normal" font-style="normal" fill="#000" text-anchor="middle">-50</text><text x="1415.0" y="1947.8" font-size="27" font-weight="normal" font-style="normal" fill="#000" text-anchor="middle">50</text><text x="1516.0" y="1947.8" font-size="27" font-weight="normal" font-style="normal" fill="#000" text-anchor="middle">100</text><text x="1325.5" y="1840.0" font-size="32.5" font-weight="normal">I<tspan font-style="italic" font-size="23.4" dy="5.5">TRPA1</tspan><tspan dy="-5.5"> (nA)</tspan></text><text x="1528.0" y="1980.0" font-size="32" font-weight="normal" font-style="normal" fill="#000" text-anchor="middle">V (mV)</text><polygon points="1132.8,1904.8 1134.8,1903.1 1136.8,1904.3 1138.9,1902.8 1140.9,1904.1 1142.9,1903.8 1144.9,1904.7 1146.9,1902.3 1148.9,1904.2 1150.9,1903.1 1153.0,1903.3 1155.0,1904.5 1157.0,1904.6 1159.0,1904.7 1161.0,1902.0 1163.0,1901.9 1165.0,1903.1 1167.0,1902.8 1169.1,1903.1 1171.1,1904.3 1173.1,1902.2 1175.1,1904.2 1177.1,1904.2 1179.1,1903.3 1181.1,1902.3 1183.2,1903.9 1185.2,1902.5 1187.2,1903.2 1189.2,1903.3 1191.2,1903.1 1193.2,1903.3 1195.2,1902.9 1197.3,1903.3 1199.3,1902.1 1201.3,1904.5 1203.3,1902.5 1205.3,1904.6 1207.3,1901.8 1209.3,1903.6 1211.4,1901.8 1213.4,1903.7 1215.4,1902.7 1217.4,1903.8 1219.4,1904.4 1221.4,1901.6 1223.4,1903.7 1225.4,1903.4 1227.5,1904.4 1229.5,1903.9 1231.5,1902.0 1233.5,1903.9 1235.5,1901.9 1237.5,1902.4 1239.6,1903.1 1241.6,1902.0 1243.6,1903.3 1245.6,1903.8 1247.6,1902.1 1249.6,1902.7 1251.7,1902.3 1253.7,1904.4 1255.7,1903.7 1257.7,1904.4 1259.7,1904.6 1261.7,1904.9 1263.8,1904.0 1265.8,1904.3 1267.8,1904.7 1269.8,1904.2 1271.8,1904.9 1273.8,1903.4 1275.9,1903.6 1277.9,1903.7 1279.9,1904.7 1281.9,1903.8 1283.9,1905.7 1285.9,1905.1 1288.0,1903.1 1290.0,1905.8 1292.0,1903.2 1294.0,1905.8 1296.0,1904.8 1298.0,1903.5 1300.1,1903.4 1302.1,1903.9 1304.1,1905.9 1306.1,1904.6 1308.1,1905.0 1310.1,1904.9 1312.2,1905.6 1314.2,1905.8 1316.2,1904.6 1318.2,1902.6 1320.1,1901.6 1322.1,1900.9 1324.1,1901.4 1326.1,1900.6 1328.0,1900.6 1330.0,1896.8 1332.0,1896.6 1333.9,1896.1 1336.0,1895.9 1338.0,1896.6 1340.1,1894.6 1342.1,1894.6 1344.2,1892.5 1346.2,1894.4 1348.3,1891.9 1350.3,1892.9 1352.4,1893.2 1354.4,1892.4 1356.5,1890.1 1358.5,1892.0 1360.6,1890.1 1362.7,1890.0 1364.8,1890.3 1366.9,1891.1 1369.0,1890.4 1371.1,1890.7 1373.2,1891.9 1375.3,1892.1 1377.3,1892.4 1379.3,1893.4 1381.3,1892.5 1383.2,1895.1 1385.2,1895.8 1387.2,1896.0 1389.2,1895.8 1391.1,1896.4 1393.1,1897.1 1395.1,1898.1 1397.0,1899.2 1399.0,1900.3 1401.0,1900.7 1403.0,1899.8 1404.9,1901.2 1406.9,1900.3 1408.9,1900.3 1410.8,1898.5 1412.8,1899.6 1414.8,1897.3 1416.8,1899.9 1418.7,1896.8 1420.7,1898.6 1422.7,1898.5 1424.6,1897.8 1426.6,1896.3 1428.6,1895.4 1430.7,1894.9 1432.7,1896.6 1434.8,1893.9 1436.9,1894.1 1438.9,1893.9 1441.0,1893.9 1443.1,1894.2 1445.1,1892.3 1447.2,1893.5 1449.3,1893.0 1450.8,1894.0 1452.2,1895.9 1453.7,1896.3 1455.2,1899.0 1456.7,1897.7 1458.2,1899.4 1458.2,1910.1 1456.7,1908.7 1455.2,1908.2 1453.7,1905.9 1452.2,1904.6 1450.8,1904.4 1449.3,1901.9 1447.2,1902.9 1445.1,1903.6 1443.1,1904.2 1441.0,1903.6 1438.9,1904.7 1436.9,1903.5 1434.8,1904.1 1432.7,1906.3 1430.7,1906.5 1428.6,1906.0 1426.6,1905.4 1424.6,1906.6 1422.7,1908.4 1420.7,1908.6 1418.7,1907.1 1416.8,1907.8 1414.8,1908.6 1412.8,1910.1 1410.8,1909.7 1408.9,1909.4 1406.9,1910.6 1404.9,1910.3 1403.0,1911.3 1401.0,1908.3 1399.0,1908.9 1397.0,1909.2 1395.1,1909.1 1393.1,1907.5 1391.1,1907.0 1389.2,1904.9 1387.2,1906.5 1385.2,1905.8 1383.2,1904.5 1381.3,1903.0 1379.3,1902.9 1377.3,1903.1 1375.3,1902.1 1373.2,1902.1 1371.1,1900.4 1369.0,1901.5 1366.9,1900.1 1364.8,1901.5 1362.7,1901.0 1360.6,1898.9 1358.5,1901.8 1356.5,1900.4 1354.4,1900.9 1352.4,1901.3 1350.3,1902.6 1348.3,1902.9 1346.2,1902.1 1344.2,1903.7 1342.1,1904.9 1340.1,1905.7 1338.0,1905.1 1336.0,1906.9 1333.9,1907.2 1332.0,1908.6 1330.0,1909.1 1328.0,1908.1 1326.1,1911.4 1324.1,1911.0 1322.1,1913.2 1320.1,1914.4 1318.2,1913.3 1316.2,1913.6 1314.2,1915.6 1312.2,1916.4 1310.1,1915.0 1308.1,1915.7 1306.1,1913.3 1304.1,1914.4 1302.1,1914.2 1300.1,1913.4 1298.0,1915.6 1296.0,1916.0 1294.0,1915.7 1292.0,1914.6 1290.0,1915.0 1288.0,1915.5 1285.9,1914.3 1283.9,1914.0 1281.9,1914.4 1279.9,1915.5 1277.9,1914.6 1275.9,1913.3 1273.8,1913.0 1271.8,1913.0 1269.8,1912.9 1267.8,1913.5 1265.8,1914.7 1263.8,1914.0 1261.7,1913.1 1259.7,1914.3 1257.7,1912.5 1255.7,1913.2 1253.7,1914.9 1251.7,1913.9 1249.6,1913.0 1247.6,1913.6 1245.6,1913.1 1243.6,1914.4 1241.6,1914.1 1239.6,1913.6 1237.5,1912.8 1235.5,1912.6 1233.5,1913.5 1231.5,1912.4 1229.5,1912.2 1227.5,1911.9 1225.4,1912.3 1223.4,1914.3 1221.4,1913.3 1219.4,1912.5 1217.4,1912.7 1215.4,1913.0 1213.4,1912.2 1211.4,1912.4 1209.3,1913.3 1207.3,1912.9 1205.3,1913.8 1203.3,1913.4 1201.3,1912.1 1199.3,1914.5 1197.3,1912.4 1195.2,1912.0 1193.2,1913.0 1191.2,1913.1 1189.2,1913.8 1187.2,1912.0 1185.2,1912.1 1183.2,1911.9 1181.1,1912.1 1179.1,1912.1 1177.1,1914.2 1175.1,1913.2 1173.1,1913.4 1171.1,1912.1 1169.1,1913.8 1167.0,1912.2 1165.0,1914.5 1163.0,1913.2 1161.0,1913.1 1159.0,1912.5 1157.0,1912.9 1155.0,1913.9 1153.0,1914.0 1150.9,1912.4 1148.9,1914.4 1146.9,1913.1 1144.9,1912.7 1142.9,1914.4 1140.9,1914.1 1138.9,1914.0 1136.8,1912.8 1134.8,1914.9 1132.8,1914.2" fill="#000"/><polygon points="1131.3,1907.5 1133.3,1908.2 1135.3,1907.4 1137.3,1907.7 1139.3,1907.8 1141.3,1909.6 1143.4,1908.2 1145.4,1909.5 1147.4,1907.7 1149.4,1907.9 1151.4,1907.5 1153.4,1909.5 1155.4,1908.9 1157.4,1908.5 1159.4,1908.4 1161.4,1908.2 1163.4,1907.5 1165.4,1908.6 1167.4,1910.0 1169.4,1909.5 1171.4,1908.0 1173.4,1909.2 1175.4,1907.3 1177.4,1909.6 1179.4,1908.6 1181.4,1908.3 1183.4,1908.4 1185.4,1907.1 1187.4,1909.2 1189.4,1907.4 1191.4,1907.1 1193.4,1908.5 1195.4,1907.1 1197.4,1908.4 1199.4,1908.3 1201.4,1907.2 1203.4,1907.5 1205.4,1909.6 1207.4,1906.9 1209.4,1908.2 1211.4,1906.7 1213.4,1909.5 1215.4,1907.9 1217.4,1907.3 1219.5,1907.5 1221.5,1909.3 1223.5,1908.6 1225.5,1908.4 1227.5,1907.7 1229.5,1907.7 1231.5,1906.9 1233.5,1906.6 1235.5,1909.2 1237.6,1908.1 1239.6,1907.5 1241.6,1908.3 1243.6,1908.0 1245.6,1906.8 1247.7,1907.8 1249.7,1906.6 1251.7,1908.5 1253.7,1906.0 1255.7,1908.2 1257.8,1906.7 1259.8,1905.7 1261.8,1908.0 1263.8,1906.0 1265.8,1906.7 1267.9,1906.9 1269.9,1908.0 1271.9,1907.5 1273.9,1905.4 1275.9,1906.1 1278.0,1905.5 1280.0,1906.9 1282.0,1906.0 1284.0,1905.9 1286.0,1907.0 1288.1,1905.0 1290.1,1904.7 1292.1,1905.2 1294.1,1906.3 1296.1,1906.3 1298.2,1906.8 1300.2,1904.8 1302.2,1906.6 1304.2,1906.2 1306.2,1904.3 1308.3,1905.0 1310.3,1905.9 1312.2,1903.6 1314.2,1904.6 1316.2,1902.8 1318.2,1903.4 1320.1,1903.3 1322.1,1902.9 1324.1,1902.7 1326.1,1900.8 1328.0,1902.5 1330.0,1902.8 1332.0,1899.8 1333.9,1900.1 1336.0,1900.0 1338.0,1901.4 1340.1,1899.7 1342.1,1899.6 1344.2,1899.2 1346.2,1897.8 1348.3,1896.9 1350.3,1898.0 1352.4,1897.3 1354.4,1898.1 1356.5,1896.1 1358.5,1896.1 1360.6,1895.6 1362.5,1895.6 1364.5,1898.2 1366.5,1896.5 1368.4,1897.0 1370.4,1899.3 1372.4,1897.9 1374.4,1899.2 1376.3,1901.2 1378.3,1899.1 1380.3,1900.2 1382.2,1901.8 1384.2,1901.2 1386.2,1902.7 1388.2,1903.4 1390.1,1902.5 1392.2,1903.9 1394.4,1901.7 1396.5,1902.5 1398.6,1903.8 1400.7,1902.0 1402.8,1901.9 1404.9,1901.5 1407.0,1902.6 1409.1,1902.4 1411.3,1902.4 1413.4,1900.4 1415.5,1902.1 1417.6,1900.4 1419.7,1900.5 1421.8,1899.8 1423.9,1900.0 1426.1,1899.7 1428.2,1899.8 1430.3,1901.1 1432.4,1900.6 1434.5,1900.4 1436.6,1901.4 1438.7,1900.0 1440.8,1903.1 1443.0,1900.7 1445.1,1901.8 1447.2,1903.8 1449.3,1903.0 1451.4,1902.8 1453.5,1903.8 1455.6,1902.9 1457.7,1905.0 1459.9,1903.5 1462.0,1905.8 1464.1,1903.7 1466.1,1904.2 1468.0,1906.1 1470.0,1906.3 1472.0,1907.1 1473.9,1907.0 1475.9,1908.4 1475.9,1917.2 1473.9,1917.6 1472.0,1917.6 1470.0,1917.4 1468.0,1915.0 1466.1,1914.2 1464.1,1916.2 1462.0,1914.3 1459.9,1913.2 1457.7,1913.6 1455.6,1913.4 1453.5,1913.8 1451.4,1911.8 1449.3,1911.7 1447.2,1913.8 1445.1,1912.0 1443.0,1912.9 1440.8,1912.6 1438.7,1910.9 1436.6,1911.4 1434.5,1910.1 1432.4,1910.9 1430.3,1910.3 1428.2,1909.8 1426.1,1909.3 1423.9,1911.0 1421.8,1911.5 1419.7,1910.7 1417.6,1912.2 1415.5,1911.1 1413.4,1912.6 1411.3,1910.7 1409.1,1911.7 1407.0,1911.1 1404.9,1912.7 1402.8,1911.0 1400.7,1911.7 1398.6,1911.9 1396.5,1911.7 1394.4,1912.8 1392.2,1913.0 1390.1,1914.4 1388.2,1914.0 1386.2,1913.0 1384.2,1912.7 1382.2,1912.0 1380.3,1910.8 1378.3,1911.1 1376.3,1911.5 1374.4,1908.9 1372.4,1908.1 1370.4,1908.9 1368.4,1908.7 1366.5,1906.5 1364.5,1908.3 1362.5,1906.5 1360.6,1905.7 1358.5,1907.1 1356.5,1906.9 1354.4,1906.4 1352.4,1907.6 1350.3,1909.3 1348.3,1908.1 1346.2,1907.6 1344.2,1909.3 1342.1,1910.2 1340.1,1910.5 1338.0,1909.8 1336.0,1910.2 1333.9,1912.1 1332.0,1910.0 1330.0,1910.9 1328.0,1913.1 1326.1,1913.5 1324.1,1912.2 1322.1,1913.1 1320.1,1913.1 1318.2,1913.6 1316.2,1913.6 1314.2,1914.1 1312.2,1913.4 1310.3,1914.0 1308.3,1916.3 1306.2,1915.9 1304.2,1915.8 1302.2,1915.8 1300.2,1916.3 1298.2,1916.7 1296.1,1917.1 1294.1,1914.5 1292.1,1915.4 1290.1,1917.3 1288.1,1915.4 1286.0,1916.6 1284.0,1915.9 1282.0,1914.9 1280.0,1916.3 1278.0,1915.8 1275.9,1916.4 1273.9,1916.8 1271.9,1916.9 1269.9,1917.4 1267.9,1917.4 1265.8,1917.9 1263.8,1916.9 1261.8,1916.3 1259.8,1915.8 1257.8,1916.4 1255.7,1918.0 1253.7,1917.8 1251.7,1916.2 1249.7,1916.8 1247.7,1917.6 1245.6,1916.8 1243.6,1918.7 1241.6,1919.0 1239.6,1916.5 1237.6,1917.3 1235.5,1918.2 1233.5,1919.0 1231.5,1918.8 1229.5,1917.4 1227.5,1918.6 1225.5,1917.6 1223.5,1918.5 1221.5,1916.6 1219.5,1917.4 1217.4,1918.4 1215.4,1918.0 1213.4,1919.2 1211.4,1916.8 1209.4,1918.1 1207.4,1917.2 1205.4,1919.4 1203.4,1917.6 1201.4,1919.5 1199.4,1917.9 1197.4,1917.1 1195.4,1919.2 1193.4,1917.1 1191.4,1917.9 1189.4,1917.8 1187.4,1917.8 1185.4,1918.0 1183.4,1917.5 1181.4,1918.2 1179.4,1919.5 1177.4,1917.1 1175.4,1917.3 1173.4,1918.5 1171.4,1919.2 1169.4,1919.9 1167.4,1917.5 1165.4,1919.9 1163.4,1920.1 1161.4,1918.4 1159.4,1919.9 1157.4,1918.3 1155.4,1917.4 1153.4,1918.6 1151.4,1918.8 1149.4,1917.9 1147.4,1919.9 1145.4,1918.0 1143.4,1918.1 1141.3,1918.3 1139.3,1920.3 1137.3,1919.4 1135.3,1917.4 1133.3,1917.9 1131.3,1917.4" fill="#ff0000"/><text x="1112.0" y="2040.5" font-size="29.8" font-weight="bold" font-style="italic" fill="#000" text-anchor="start">Trpa1<tspan dy="-14.5" font-size="23.0">+/+</tspan></text><text x="1112.0" y="2077.5" font-size="29.8" font-weight="bold" font-style="italic" fill="#ff0000" text-anchor="start">Trpa1<tspan dy="-14.5" font-size="23.0">-/-</tspan></text><rect x="1339.9" y="2017.0" width="206.1" height="225.8" fill="none" stroke="#8c8c8c" stroke-width="3.2"/><text x="1408.6" y="2047.0" font-size="27.5" font-weight="bold" font-style="normal" fill="#2e9c0c" text-anchor="middle">CA</text><line x1="1368.8" y1="2057.4" x2="1454.3" y2="2057.4" stroke="#3d6414" stroke-width="6" /><line x1="1368.8" y1="2197.0" x2="1454.3" y2="2197.0" stroke="#3d6414" stroke-width="6" /><polyline points="1353.2,2081.0 1532.1,2081.0" fill="none" stroke="#000" stroke-width="5.5" stroke-linejoin="round" stroke-linecap="round" /><polyline points="1351.7,2216.7 1353.7,2216.8 1355.7,2216.7 1357.8,2216.7 1359.8,2216.7 1361.8,2217.0 1363.8,2216.6 1365.8,2216.9 1367.9,2216.3 1369.9,2216.6 1371.9,2216.6 1373.9,2216.4 1376.0,2217.0 1378.0,2216.6 1380.0,2217.1 1382.0,2217.3 1384.0,2216.6 1386.1,2217.2 1388.1,2217.1 1390.1,2217.0 1392.1,2216.3 1394.1,2216.8 1396.2,2216.9 1398.2,2216.6 1400.2,2216.5 1402.2,2216.6 1404.2,2216.6 1406.3,2217.1 1408.3,2216.6 1410.3,2216.7 1412.3,2216.9 1414.4,2217.2 1416.4,2216.6 1418.4,2216.3 1420.4,2217.3 1422.4,2217.1 1424.5,2217.1 1426.5,2216.8 1428.5,2216.5 1430.5,2216.5 1432.5,2216.6 1434.6,2216.8 1436.6,2216.4 1438.6,2217.0 1440.6,2217.0 1442.7,2216.3 1444.7,2217.1 1446.7,2216.8 1448.7,2217.2 1450.7,2216.8 1452.8,2217.1 1454.8,2216.8 1456.8,2216.9 1458.8,2216.8 1460.8,2216.3 1462.9,2216.4 1464.9,2216.5 1466.9,2216.7 1468.9,2216.7 1470.9,2216.8 1473.0,2217.0 1475.0,2216.7 1477.0,2216.6 1479.0,2216.8 1481.1,2217.3 1483.1,2217.1 1485.1,2217.0 1487.1,2217.1 1489.1,2216.5 1491.2,2216.4 1493.2,2216.4 1495.2,2216.4 1497.2,2216.3 1499.2,2216.9 1501.3,2217.2 1503.3,2216.4 1505.3,2217.0 1507.3,2217.2 1509.3,2217.1 1511.4,2216.5 1513.4,2216.9 1515.4,2216.6 1517.4,2216.5 1519.5,2216.3 1521.5,2216.8 1523.5,2217.2 1525.5,2216.4 1527.5,2216.4 1529.6,2216.7 1531.6,2216.3 1533.6,2216.8" fill="none" stroke="#ff0000" stroke-width="9" stroke-linejoin="round" stroke-linecap="round" /><polyline points="1475.0,2112.7 1475.0,2154.0 1512.0,2154.0" fill="none" stroke="#000" stroke-width="2.8" stroke-linejoin="miter" stroke-linecap="round" /><text transform="translate(1466.0,2131.9) rotate(-90)" font-size="17" text-anchor="middle" textLength="56.2" lengthAdjust="spacingAndGlyphs">200 pA</text><text x="1493.5" y="2173.3" font-size="17" font-weight="normal" font-style="normal" fill="#000" text-anchor="middle">10s</text><text x="1593.5" y="1802" font-size="66" font-weight="bold" font-style="normal" fill="#000" text-anchor="start" >j</text><text x="1675.5" y="1802.4" font-size="32.4">I<tspan font-style="italic" font-size="22.1" dy="6">TRPA1</tspan><tspan dy="-6"> @ -86 mV (nA)</tspan></text><line x1="1666.1" y1="1818.3" x2="1666.1" y2="2187.0" stroke="#8c8c8c" stroke-width="2.4" /><line x1="1666.1" y1="2195.0" x2="1666.1" y2="2251.0" stroke="#8c8c8c" stroke-width="2.4" /><line x1="1660.1" y1="2190.0" x2="1672.1" y2="2184.0" stroke="#8c8c8c" stroke-width="2.0" /><line x1="1660.1" y1="2197.0" x2="1672.1" y2="2191.0" stroke="#8c8c8c" stroke-width="2.0" /><line x1="1660.1" y1="1818.3" x2="1666.1" y2="1818.3" stroke="#8c8c8c" stroke-width="2.2" /><text x="1648.0" y="1824.9" font-size="22.5" font-weight="normal" font-style="normal" fill="#000" text-anchor="end">0.1</text><line x1="1660.1" y1="1856.6" x2="1666.1" y2="1856.6" stroke="#8c8c8c" stroke-width="2.2" /><text x="1648.0" y="1863.2" font-size="22.5" font-weight="normal" font-style="normal" fill="#000" text-anchor="end">0</text><line x1="1660.1" y1="1894.9" x2="1666.1" y2="1894.9" stroke="#8c8c8c" stroke-width="2.2" /><text x="1648.0" y="1901.5" font-size="22.5" font-weight="normal" font-style="normal" fill="#000" text-anchor="end">-0.1</text><line x1="1660.1" y1="1933.2" x2="1666.1" y2="1933.2" stroke="#8c8c8c" stroke-width="2.2" /><text x="1648.0" y="1939.8" font-size="22.5" font-weight="normal" font-style="normal" fill="#000" text-anchor="end">-0.2</text><line x1="1660.1" y1="1971.5" x2="1666.1" y2="1971.5" stroke="#8c8c8c" stroke-width="2.2" /><text x="1648.0" y="1978.1" font-size="22.5" font-weight="normal" font-style="normal" fill="#000" text-anchor="end">-0.3</text><line x1="1660.1" y1="2009.8" x2="1666.1" y2="2009.8" stroke="#8c8c8c" stroke-width="2.2" /><text x="1648.0" y="2016.4" font-size="22.5" font-weight="normal" font-style="normal" fill="#000" text-anchor="end">-0.4</text><line x1="1660.1" y1="2048.1" x2="1666.1" y2="2048.1" stroke="#8c8c8c" stroke-width="2.2" /><text x="1648.0" y="2054.7" font-size="22.5" font-weight="normal" font-style="normal" fill="#000" text-anchor="end">-0.5</text><line x1="1660.1" y1="2086.4" x2="1666.1" y2="2086.4" stroke="#8c8c8c" stroke-width="2.2" /><text x="1648.0" y="2093.0" font-size="22.5" font-weight="normal" font-style="normal" fill="#000" text-anchor="end">-0.6</text><line x1="1660.1" y1="2124.7" x2="1666.1" y2="2124.7" stroke="#8c8c8c" stroke-width="2.2" /><text x="1648.0" y="2131.3" font-size="22.5" font-weight="normal" font-style="normal" fill="#000" text-anchor="end">-0.7</text><line x1="1660.1" y1="2163.0" x2="1666.1" y2="2163.0" stroke="#8c8c8c" stroke-width="2.2" /><text x="1648.0" y="2169.6" font-size="22.5" font-weight="normal" font-style="normal" fill="#000" text-anchor="end">-0.8</text><line x1="1660.1" y1="2204.7" x2="1666.1" y2="2204.7" stroke="#8c8c8c" stroke-width="2.2" /><text x="1648.0" y="2211.3" font-size="22.5" font-weight="normal" font-style="normal" fill="#000" text-anchor="end">-1.4</text><line x1="1660.1" y1="2243.4" x2="1666.1" y2="2243.4" stroke="#8c8c8c" stroke-width="2.2" /><text x="1648.0" y="2250.0" font-size="22.5" font-weight="normal" font-style="normal" fill="#000" text-anchor="end">-1.5</text><line x1="1666.1" y1="1856.6" x2="1977.5" y2="1856.6" stroke="#8c8c8c" stroke-width="2.4" /><line x1="1770.1" y1="1856.6" x2="1770.1" y2="1861.6" stroke="#8c8c8c" stroke-width="2.2" /><line x1="1874.9" y1="1856.6" x2="1874.9" y2="1861.6" stroke="#8c8c8c" stroke-width="2.2" /><line x1="1977.5" y1="1856.6" x2="1977.5" y2="1861.6" stroke="#8c8c8c" stroke-width="2.2" /><rect x="1678.2" y="1856.6" width="42.6" height="151.9" fill="#000" /><rect x="1717.7" y="1856.6" width="43.9" height="5.8" fill="#ff0000" /><rect x="1781.4" y="1856.6" width="42.9" height="56.6" fill="#000" /><rect x="1820.9" y="1856.6" width="42.9" height="8.4" fill="#ff0000" /><rect x="1924.4" y="1856.6" width="42.6" height="5.8" fill="#ff0000" /><line x1="1699.8" y1="2008.5" x2="1699.8" y2="2063.3" stroke="#000" stroke-width="2.2" /><line x1="1693.8" y1="2063.3" x2="1705.8" y2="2063.3" stroke="#000" stroke-width="2.2" /><line x1="1805.0" y1="1913.2" x2="1805.0" y2="1927.7" stroke="#000" stroke-width="2.2" /><line x1="1799.0" y1="1927.7" x2="1811.0" y2="1927.7" stroke="#000" stroke-width="2.2" /><line x1="1739.5" y1="1852.0" x2="1739.5" y2="1866.0" stroke="#000" stroke-width="2.2" /><line x1="1733.5" y1="1866.0" x2="1745.5" y2="1866.0" stroke="#000" stroke-width="2.2" /><line x1="1733.5" y1="1852.0" x2="1745.5" y2="1852.0" stroke="#000" stroke-width="2.2" /><line x1="1842.5" y1="1852.0" x2="1842.5" y2="1869.0" stroke="#000" stroke-width="2.2" /><line x1="1836.5" y1="1869.0" x2="1848.5" y2="1869.0" stroke="#000" stroke-width="2.2" /><line x1="1836.5" y1="1852.0" x2="1848.5" y2="1852.0" stroke="#000" stroke-width="2.2" /><line x1="1946.0" y1="1852.0" x2="1946.0" y2="1868.0" stroke="#000" stroke-width="2.2" /><line x1="1940.0" y1="1868.0" x2="1952.0" y2="1868.0" stroke="#000" stroke-width="2.2" /><line x1="1940.0" y1="1852.0" x2="1952.0" y2="1852.0" stroke="#000" stroke-width="2.2" /><circle cx="1699.0" cy="1865.8" r="4.1" fill="#fff" stroke="#6e6e6e" stroke-width="1.7"/><circle cx="1699.0" cy="1872.9" r="4.1" fill="#fff" stroke="#6e6e6e" stroke-width="1.7"/><circle cx="1699.0" cy="1913.2" r="4.1" fill="#fff" stroke="#6e6e6e" stroke-width="1.7"/><circle cx="1692.7" cy="1932.7" r="4.1" fill="#fff" stroke="#6e6e6e" stroke-width="1.7"/><circle cx="1704.3" cy="1932.7" r="4.1" fill="#fff" stroke="#6e6e6e" stroke-width="1.7"/><circle cx="1699.0" cy="1945.3" r="4.1" fill="#fff" stroke="#6e6e6e" stroke-width="1.7"/><circle cx="1699.0" cy="2064.6" r="4.1" fill="#fff" stroke="#6e6e6e" stroke-width="1.7"/><circle cx="1699.0" cy="2169.1" r="4.1" fill="#fff" stroke="#6e6e6e" stroke-width="1.7"/><circle cx="1699.0" cy="2217.0" r="4.1" fill="#fff" stroke="#6e6e6e" stroke-width="1.7"/><circle cx="1723.5" cy="1855.0" r="4.1" fill="#fff" stroke="#ff2040" stroke-width="1.7"/><circle cx="1734.0" cy="1856.6" r="4.1" fill="#fff" stroke="#ff2040" stroke-width="1.7"/><circle cx="1745.9" cy="1856.6" r="4.1" fill="#fff" stroke="#ff2040" stroke-width="1.7"/><circle cx="1756.9" cy="1857.9" r="4.1" fill="#fff" stroke="#ff2040" stroke-width="1.7"/><circle cx="1740.6" cy="1883.0" r="4.1" fill="#fff" stroke="#ff2040" stroke-width="1.7"/><circle cx="1805.9" cy="1855.0" r="4.1" fill="#fff" stroke="#6e6e6e" stroke-width="1.7"/><circle cx="1800.6" cy="1868.2" r="4.1" fill="#fff" stroke="#6e6e6e" stroke-width="1.7"/><circle cx="1811.7" cy="1872.9" r="4.1" fill="#fff" stroke="#6e6e6e" stroke-width="1.7"/><circle cx="1799.8" cy="1876.9" r="4.1" fill="#fff" stroke="#6e6e6e" stroke-width="1.7"/><circle cx="1805.9" cy="1883.5" r="4.1" fill="#fff" stroke="#6e6e6e" stroke-width="1.7"/><circle cx="1805.9" cy="1910.6" r="4.1" fill="#fff" stroke="#6e6e6e" stroke-width="1.7"/><circle cx="1805.9" cy="1933.5" r="4.1" fill="#fff" stroke="#6e6e6e" stroke-width="1.7"/><circle cx="1805.9" cy="1942.7" r="4.1" fill="#fff" stroke="#6e6e6e" stroke-width="1.7"/><circle cx="1805.9" cy="1963.2" r="4.1" fill="#fff" stroke="#6e6e6e" stroke-width="1.7"/><circle cx="1805.9" cy="2011.2" r="4.1" fill="#fff" stroke="#6e6e6e" stroke-width="1.7"/><circle cx="1832.2" cy="1853.2" r="4.1" fill="#fff" stroke="#ff2040" stroke-width="1.7"/><circle cx="1843.3" cy="1855.0" r="4.1" fill="#fff" stroke="#ff2040" stroke-width="1.7"/><circle cx="1854.6" cy="1858.5" r="4.1" fill="#fff" stroke="#ff2040" stroke-width="1.7"/><circle cx="1843.3" cy="1874.8" r="4.1" fill="#fff" stroke="#ff2040" stroke-width="1.7"/><circle cx="1843.3" cy="1881.4" r="4.1" fill="#fff" stroke="#ff2040" stroke-width="1.7"/><circle cx="1885.4" cy="1855.0" r="4.1" fill="#fff" stroke="#6e6e6e" stroke-width="1.7"/><circle cx="1895.9" cy="1852.7" r="4.1" fill="#fff" stroke="#6e6e6e" stroke-width="1.7"/><circle cx="1905.1" cy="1855.0" r="4.1" fill="#fff" stroke="#6e6e6e" stroke-width="1.7"/><circle cx="1913.8" cy="1855.0" r="4.1" fill="#fff" stroke="#6e6e6e" stroke-width="1.7"/><circle cx="1923.6" cy="1855.0" r="4.1" fill="#fff" stroke="#6e6e6e" stroke-width="1.7"/><circle cx="1945.4" cy="1855.0" r="4.1" fill="#fff" stroke="#ff2040" stroke-width="1.7"/><circle cx="1956.5" cy="1857.2" r="4.1" fill="#fff" stroke="#ff2040" stroke-width="1.7"/><circle cx="1950.7" cy="1874.8" r="4.1" fill="#fff" stroke="#ff2040" stroke-width="1.7"/><text x="1718.2" y="1846.8" font-size="26.8" font-weight="bold" font-style="normal" fill="#000" text-anchor="middle">HeC</text><text x="1820.9" y="1846.8" font-size="26.8" font-weight="bold" font-style="normal" fill="#000" text-anchor="middle">DC</text><text x="1924.2" y="1846.8" font-size="26.8" font-weight="bold" font-style="normal" fill="#000" text-anchor="middle">PC</text><text x="1698.5" y="1992.7" font-size="25" font-weight="normal" font-style="normal" fill="#fff" text-anchor="middle">9</text><text x="1739.3" y="1917.7" font-size="25" font-weight="normal" font-style="normal" fill="#000" text-anchor="middle">5</text><text x="1843.3" y="1917.7" font-size="25" font-weight="normal" font-style="normal" fill="#000" text-anchor="middle">6</text><text x="1806.4" y="2047.5" font-size="25" font-weight="normal" font-style="normal" fill="#000" text-anchor="middle">10</text><text x="1907.8" y="1894.0" font-size="25" font-weight="normal" font-style="normal" fill="#000" text-anchor="middle">5</text><text x="1948.6" y="1905.9" font-size="25" font-weight="normal" font-style="normal" fill="#000" text-anchor="middle">3</text><line x1="1690.6" y1="2228.7" x2="1754.8" y2="2228.7" stroke="#000" stroke-width="4" /><line x1="1792.0" y1="2063.8" x2="1855.1" y2="2063.8" stroke="#000" stroke-width="4" /><text x="1722.4" y="2260.4" font-size="32" font-weight="bold" font-style="normal" fill="#000" text-anchor="middle">*</text><text x="1823.5" y="2096.0" font-size="32" font-weight="bold" font-style="normal" fill="#000" text-anchor="middle">*</text><text x="1850.0" y="2140.0" font-size="29" font-weight="bold" font-style="italic" fill="#000" text-anchor="start">Trpa1<tspan dy="-14.1" font-size="22.4">+/+</tspan></text><text x="1850.0" y="2177.0" font-size="29" font-weight="bold" font-style="italic" fill="#ff0000" text-anchor="start">Trpa1<tspan dy="-14.1" font-size="22.4">-/-</tspan></text></svg></body></html>
